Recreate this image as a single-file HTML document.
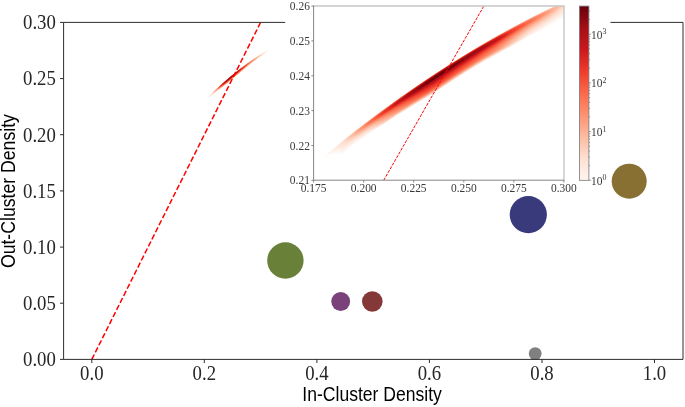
<!DOCTYPE html>
<html><head><meta charset="utf-8"><title>Cluster Density</title>
<style>html,body{margin:0;padding:0;background:#fff;overflow:hidden}svg{display:block}</style></head>
<body>
<svg width="685" height="407" viewBox="0 0 685 407">
<defs><clipPath id="ci"><rect x="313.6" y="6.1" width="250.3" height="174.2"/></clipPath>
<clipPath id="cm"><rect x="63.6" y="22.4" width="619.4" height="337.0"/></clipPath>
<filter id="bl" x="-5%" y="-5%" width="110%" height="110%"><feGaussianBlur stdDeviation="0.55"/></filter>
<filter id="bl2" x="-5%" y="-5%" width="110%" height="110%"><feGaussianBlur stdDeviation="0.35"/></filter>
<linearGradient id="cb" x1="0" y1="1" x2="0" y2="0"><stop offset="0.0000" stop-color="#fff5f0"/><stop offset="0.1250" stop-color="#fee0d2"/><stop offset="0.2500" stop-color="#fcbba1"/><stop offset="0.3750" stop-color="#fc9272"/><stop offset="0.5000" stop-color="#fb6a4a"/><stop offset="0.6250" stop-color="#ef3b2c"/><stop offset="0.7500" stop-color="#cb181d"/><stop offset="0.8750" stop-color="#a50f15"/><stop offset="1.0000" stop-color="#67000d"/></linearGradient></defs>
<rect width="685" height="407" fill="#fff"/>
<g clip-path="url(#cm)">
<g filter="url(#bl2)">
<path d="M208.0,97.3L209.0,96.1L210.0,95.0L211.0,94.1L212.0,93.1L213.0,92.2L214.0,91.2L215.0,90.3L216.0,89.4L217.0,88.5L218.0,87.5L219.0,86.6L220.0,85.7L221.0,84.8L222.0,83.9L223.0,83.1L224.0,82.2L225.0,81.3L226.0,80.4L227.0,79.6L228.0,78.7L229.0,77.9L230.0,77.0L231.0,76.2L232.0,75.4L233.0,74.6L234.0,73.7L235.0,72.9L236.0,72.1L237.0,71.3L238.0,70.5L239.0,69.8L240.0,69.0L241.0,68.2L242.0,67.4L243.0,66.7L244.0,65.9L245.0,65.2L246.0,64.4L247.0,63.7L248.0,63.0L249.0,62.3L250.0,61.5L251.0,60.8L252.0,60.1L253.0,59.4L254.0,58.7L255.0,58.0L256.0,57.4L257.0,56.7L258.0,56.0L259.0,55.4L260.0,54.7L261.0,54.1L262.0,53.4L263.0,52.8L264.0,52.2L265.0,51.5L266.0,51.0L267.0,50.4L268.0,49.9L269.0,49.5L269.0,49.8L268.0,50.6L267.0,51.6L266.0,52.6L265.0,53.6L264.0,54.4L263.0,55.1L262.0,55.8L261.0,56.5L260.0,57.2L259.0,57.9L258.0,58.7L257.0,59.4L256.0,60.2L255.0,60.9L254.0,61.7L253.0,62.5L252.0,63.2L251.0,64.0L250.0,64.8L249.0,65.6L248.0,66.4L247.0,67.1L246.0,67.9L245.0,68.7L244.0,69.4L243.0,70.2L242.0,71.0L241.0,71.8L240.0,72.6L239.0,73.4L238.0,74.2L237.0,75.0L236.0,75.8L235.0,76.6L234.0,77.4L233.0,78.2L232.0,79.1L231.0,79.9L230.0,80.7L229.0,81.6L228.0,82.4L227.0,83.2L226.0,84.1L225.0,84.9L224.0,85.7L223.0,86.5L222.0,87.3L221.0,88.1L220.0,88.9L219.0,89.7L218.0,90.5L217.0,91.3L216.0,92.2L215.0,93.0L214.0,93.8L213.0,94.7L212.0,95.5L211.0,96.3L210.0,97.1L209.0,97.3L208.0,97.7Z" fill="#fee7dc" fill-opacity="0.60"/>
<path d="M210.0,95.3L211.0,94.2L212.0,93.2L213.0,92.3L214.0,91.3L215.0,90.4L216.0,89.4L217.0,88.5L218.0,87.6L219.0,86.7L220.0,85.8L221.0,84.9L222.0,84.0L223.0,83.1L224.0,82.2L225.0,81.3L226.0,80.5L227.0,79.6L228.0,78.8L229.0,77.9L230.0,77.1L231.0,76.2L232.0,75.4L233.0,74.6L234.0,73.8L235.0,73.0L236.0,72.2L237.0,71.4L238.0,70.6L239.0,69.8L240.0,69.0L241.0,68.2L242.0,67.5L243.0,66.7L244.0,66.0L245.0,65.2L246.0,64.5L247.0,63.7L248.0,63.0L249.0,62.3L250.0,61.6L251.0,60.9L252.0,60.2L253.0,59.5L254.0,58.8L255.0,58.1L256.0,57.4L257.0,56.8L258.0,56.1L259.0,55.4L260.0,54.8L261.0,54.2L262.0,53.5L263.0,52.9L264.0,52.3L265.0,51.8L265.0,52.5L264.0,53.4L263.0,54.2L262.0,55.0L261.0,55.8L260.0,56.6L259.0,57.4L258.0,58.1L257.0,58.9L256.0,59.7L255.0,60.5L254.0,61.2L253.0,62.0L252.0,62.8L251.0,63.6L250.0,64.4L249.0,65.3L248.0,66.2L247.0,67.0L246.0,67.8L245.0,68.5L244.0,69.3L243.0,70.1L242.0,70.9L241.0,71.7L240.0,72.5L239.0,73.3L238.0,74.1L237.0,74.9L236.0,75.7L235.0,76.5L234.0,77.3L233.0,78.2L232.0,79.0L231.0,79.8L230.0,80.7L229.0,81.5L228.0,82.3L227.0,83.2L226.0,84.0L225.0,84.8L224.0,85.6L223.0,86.4L222.0,87.2L221.0,88.0L220.0,88.8L219.0,89.5L218.0,90.2L217.0,90.9L216.0,91.7L215.0,92.5L214.0,93.3L213.0,94.1L212.0,94.8L211.0,95.5L210.0,96.0Z" fill="#fedccc" fill-opacity="0.77"/>
<path d="M212.0,93.4L213.0,92.4L214.0,91.4L215.0,90.4L216.0,89.5L217.0,88.5L218.0,87.6L219.0,86.7L220.0,85.8L221.0,84.9L222.0,84.0L223.0,83.1L224.0,82.2L225.0,81.4L226.0,80.5L227.0,79.6L228.0,78.8L229.0,77.9L230.0,77.1L231.0,76.3L232.0,75.4L233.0,74.6L234.0,73.8L235.0,73.0L236.0,72.2L237.0,71.4L238.0,70.6L239.0,69.8L240.0,69.0L241.0,68.3L242.0,67.5L243.0,66.7L244.0,66.0L245.0,65.2L246.0,64.5L247.0,63.8L248.0,63.0L249.0,62.3L250.0,61.6L251.0,60.9L252.0,60.2L253.0,59.5L254.0,58.8L255.0,58.2L256.0,57.5L257.0,56.8L258.0,56.2L259.0,55.5L260.0,54.9L261.0,54.3L262.0,53.8L262.0,54.4L261.0,55.2L260.0,56.0L259.0,56.8L258.0,57.7L257.0,58.5L256.0,59.3L255.0,60.0L254.0,60.8L253.0,61.6L252.0,62.4L251.0,63.2L250.0,64.0L249.0,64.9L248.0,65.8L247.0,66.7L246.0,67.6L245.0,68.4L244.0,69.2L243.0,70.0L242.0,70.8L241.0,71.6L240.0,72.4L239.0,73.2L238.0,74.0L237.0,74.8L236.0,75.6L235.0,76.4L234.0,77.2L233.0,78.1L232.0,78.9L231.0,79.7L230.0,80.6L229.0,81.4L228.0,82.2L227.0,83.1L226.0,83.9L225.0,84.7L224.0,85.5L223.0,86.3L222.0,87.1L221.0,87.9L220.0,88.6L219.0,89.3L218.0,89.8L217.0,90.6L216.0,91.4L215.0,92.1L214.0,92.9L213.0,93.6L212.0,94.2Z" fill="#fdcbb6" fill-opacity="0.94"/>
<path d="M213.0,92.6L214.0,91.5L215.0,90.5L216.0,89.5L217.0,88.6L218.0,87.7L219.0,86.7L220.0,85.8L221.0,84.9L222.0,84.0L223.0,83.1L224.0,82.3L225.0,81.4L226.0,80.5L227.0,79.7L228.0,78.8L229.0,78.0L230.0,77.1L231.0,76.3L232.0,75.5L233.0,74.6L234.0,73.8L235.0,73.0L236.0,72.2L237.0,71.4L238.0,70.6L239.0,69.8L240.0,69.1L241.0,68.3L242.0,67.5L243.0,66.8L244.0,66.0L245.0,65.3L246.0,64.5L247.0,63.8L248.0,63.1L249.0,62.4L250.0,61.7L251.0,61.0L252.0,60.3L253.0,59.6L254.0,58.9L255.0,58.2L256.0,57.6L257.0,56.9L258.0,56.3L259.0,55.7L260.0,55.3L260.0,55.6L259.0,56.4L258.0,57.2L257.0,58.1L256.0,58.9L255.0,59.7L254.0,60.5L253.0,61.3L252.0,62.1L251.0,62.9L250.0,63.7L249.0,64.6L248.0,65.4L247.0,66.3L246.0,67.2L245.0,68.1L244.0,69.0L243.0,69.8L242.0,70.6L241.0,71.4L240.0,72.2L239.0,73.0L238.0,73.9L237.0,74.7L236.0,75.5L235.0,76.3L234.0,77.1L233.0,78.0L232.0,78.8L231.0,79.6L230.0,80.5L229.0,81.3L228.0,82.1L227.0,83.0L226.0,83.8L225.0,84.6L224.0,85.4L223.0,86.2L222.0,87.0L221.0,87.7L220.0,88.4L219.0,88.9L218.0,89.5L217.0,90.3L216.0,91.1L215.0,91.8L214.0,92.5L213.0,93.2Z" fill="#fcbba0"/>
<path d="M214.0,91.8L215.0,90.6L216.0,89.6L217.0,88.6L218.0,87.7L219.0,86.8L220.0,85.9L221.0,85.0L222.0,84.1L223.0,83.2L224.0,82.3L225.0,81.4L226.0,80.5L227.0,79.7L228.0,78.8L229.0,78.0L230.0,77.1L231.0,76.3L232.0,75.5L233.0,74.7L234.0,73.8L235.0,73.0L236.0,72.2L237.0,71.4L238.0,70.7L239.0,69.9L240.0,69.1L241.0,68.3L242.0,67.6L243.0,66.8L244.0,66.1L245.0,65.3L246.0,64.6L247.0,63.9L248.0,63.1L249.0,62.4L250.0,61.7L251.0,61.0L252.0,60.3L253.0,59.7L254.0,59.0L255.0,58.3L256.0,57.7L257.0,57.1L257.0,57.7L256.0,58.6L255.0,59.4L254.0,60.2L253.0,61.0L252.0,61.8L251.0,62.6L250.0,63.4L249.0,64.3L248.0,65.1L247.0,66.0L246.0,66.9L245.0,67.8L244.0,68.7L243.0,69.6L242.0,70.4L241.0,71.3L240.0,72.1L239.0,72.9L238.0,73.7L237.0,74.6L236.0,75.4L235.0,76.2L234.0,77.0L233.0,77.9L232.0,78.7L231.0,79.5L230.0,80.4L229.0,81.2L228.0,82.0L227.0,82.9L226.0,83.7L225.0,84.5L224.0,85.3L223.0,86.0L222.0,86.8L221.0,87.5L220.0,88.0L219.0,88.6L218.0,89.3L217.0,90.0L216.0,90.8L215.0,91.5L214.0,92.2Z" fill="#fca88b"/>
<path d="M215.0,91.1L216.0,89.7L217.0,88.7L218.0,87.8L219.0,86.8L220.0,85.9L221.0,85.0L222.0,84.1L223.0,83.2L224.0,82.3L225.0,81.4L226.0,80.6L227.0,79.7L228.0,78.9L229.0,78.0L230.0,77.2L231.0,76.3L232.0,75.5L233.0,74.7L234.0,73.9L235.0,73.1L236.0,72.3L237.0,71.5L238.0,70.7L239.0,69.9L240.0,69.1L241.0,68.4L242.0,67.6L243.0,66.9L244.0,66.1L245.0,65.4L246.0,64.6L247.0,63.9L248.0,63.2L249.0,62.5L250.0,61.8L251.0,61.1L252.0,60.4L253.0,59.8L254.0,59.1L255.0,58.5L255.0,59.1L254.0,59.9L253.0,60.8L252.0,61.6L251.0,62.4L250.0,63.2L249.0,64.0L248.0,64.9L247.0,65.7L246.0,66.6L245.0,67.4L244.0,68.3L243.0,69.2L242.0,70.1L241.0,71.0L240.0,71.9L239.0,72.8L238.0,73.6L237.0,74.4L236.0,75.3L235.0,76.1L234.0,76.9L233.0,77.8L232.0,78.6L231.0,79.4L230.0,80.3L229.0,81.1L228.0,81.9L227.0,82.8L226.0,83.6L225.0,84.4L224.0,85.1L223.0,85.9L222.0,86.5L221.0,87.1L220.0,87.7L219.0,88.4L218.0,89.1L217.0,89.8L216.0,90.5L215.0,91.3Z" fill="#fc9676"/>
<path d="M217.0,88.8L218.0,87.8L219.0,86.9L220.0,85.9L221.0,85.0L222.0,84.1L223.0,83.2L224.0,82.3L225.0,81.5L226.0,80.6L227.0,79.7L228.0,78.9L229.0,78.0L230.0,77.2L231.0,76.4L232.0,75.5L233.0,74.7L234.0,73.9L235.0,73.1L236.0,72.3L237.0,71.5L238.0,70.7L239.0,69.9L240.0,69.2L241.0,68.4L242.0,67.6L243.0,66.9L244.0,66.2L245.0,65.4L246.0,64.7L247.0,64.0L248.0,63.3L249.0,62.6L250.0,61.9L251.0,61.2L252.0,60.6L253.0,60.0L253.0,60.6L252.0,61.4L251.0,62.2L250.0,63.0L249.0,63.8L248.0,64.6L247.0,65.5L246.0,66.3L245.0,67.2L244.0,68.0L243.0,68.9L242.0,69.8L241.0,70.7L240.0,71.6L239.0,72.5L238.0,73.4L237.0,74.2L236.0,75.1L235.0,75.9L234.0,76.8L233.0,77.6L232.0,78.5L231.0,79.3L230.0,80.1L229.0,81.0L228.0,81.8L227.0,82.6L226.0,83.4L225.0,84.2L224.0,84.9L223.0,85.6L222.0,86.2L221.0,86.9L220.0,87.5L219.0,88.2L218.0,88.9L217.0,89.6Z" fill="#fc8464"/>
<path d="M218.0,88.0L219.0,87.0L220.0,86.0L221.0,85.1L222.0,84.2L223.0,83.3L224.0,82.4L225.0,81.5L226.0,80.6L227.0,79.8L228.0,78.9L229.0,78.1L230.0,77.2L231.0,76.4L232.0,75.6L233.0,74.8L234.0,73.9L235.0,73.1L236.0,72.3L237.0,71.5L238.0,70.8L239.0,70.0L240.0,69.2L241.0,68.4L242.0,67.7L243.0,66.9L244.0,66.2L245.0,65.5L246.0,64.8L247.0,64.1L248.0,63.4L249.0,62.7L250.0,62.0L251.0,61.4L251.0,62.0L250.0,62.8L249.0,63.6L248.0,64.5L247.0,65.3L246.0,66.1L245.0,67.0L244.0,67.8L243.0,68.6L242.0,69.5L241.0,70.4L240.0,71.3L239.0,72.1L238.0,73.0L237.0,73.9L236.0,74.8L235.0,75.7L234.0,76.6L233.0,77.5L232.0,78.3L231.0,79.2L230.0,80.0L229.0,80.8L228.0,81.7L227.0,82.5L226.0,83.2L225.0,84.0L224.0,84.6L223.0,85.3L222.0,86.0L221.0,86.6L220.0,87.3L219.0,88.0L218.0,88.7Z" fill="#fb7252"/>
<path d="M218.0,88.3L219.0,87.1L220.0,86.1L221.0,85.1L222.0,84.2L223.0,83.3L224.0,82.4L225.0,81.5L226.0,80.7L227.0,79.8L228.0,79.0L229.0,78.1L230.0,77.3L231.0,76.4L232.0,75.6L233.0,74.8L234.0,74.0L235.0,73.2L236.0,72.4L237.0,71.6L238.0,70.8L239.0,70.0L240.0,69.3L241.0,68.5L242.0,67.8L243.0,67.0L244.0,66.3L245.0,65.6L246.0,64.9L247.0,64.2L248.0,63.5L249.0,62.9L249.0,63.5L248.0,64.3L247.0,65.1L246.0,65.9L245.0,66.8L244.0,67.6L243.0,68.4L242.0,69.3L241.0,70.1L240.0,71.0L239.0,71.9L238.0,72.8L237.0,73.6L236.0,74.5L235.0,75.4L234.0,76.3L233.0,77.2L232.0,78.1L231.0,78.9L230.0,79.8L229.0,80.6L228.0,81.4L227.0,82.2L226.0,82.9L225.0,83.6L224.0,84.3L223.0,85.0L222.0,85.7L221.0,86.4L220.0,87.1L219.0,87.8L218.0,88.6Z" fill="#f85e43"/>
<path d="M219.0,87.3L220.0,86.2L221.0,85.2L222.0,84.3L223.0,83.4L224.0,82.5L225.0,81.6L226.0,80.7L227.0,79.9L228.0,79.0L229.0,78.1L230.0,77.3L231.0,76.5L232.0,75.6L233.0,74.8L234.0,74.0L235.0,73.2L236.0,72.4L237.0,71.6L238.0,70.9L239.0,70.1L240.0,69.3L241.0,68.6L242.0,67.8L243.0,67.1L244.0,66.4L245.0,65.7L246.0,65.0L247.0,64.4L247.0,65.0L246.0,65.8L245.0,66.6L244.0,67.4L243.0,68.3L242.0,69.1L241.0,69.9L240.0,70.8L239.0,71.6L238.0,72.5L237.0,73.4L236.0,74.2L235.0,75.1L234.0,76.0L233.0,76.9L232.0,77.7L231.0,78.6L230.0,79.5L229.0,80.3L228.0,81.1L227.0,81.9L226.0,82.6L225.0,83.4L224.0,84.1L223.0,84.8L222.0,85.5L221.0,86.3L220.0,87.0L219.0,87.7Z" fill="#f34935"/>
<path d="M220.0,86.4L221.0,85.3L222.0,84.4L223.0,83.4L224.0,82.5L225.0,81.6L226.0,80.8L227.0,79.9L228.0,79.0L229.0,78.2L230.0,77.3L231.0,76.5L232.0,75.7L233.0,74.9L234.0,74.1L235.0,73.3L236.0,72.5L237.0,71.7L238.0,70.9L239.0,70.1L240.0,69.4L241.0,68.6L242.0,67.9L243.0,67.2L244.0,66.5L245.0,65.9L245.0,66.4L244.0,67.3L243.0,68.1L242.0,68.9L241.0,69.8L240.0,70.6L239.0,71.5L238.0,72.3L237.0,73.2L236.0,74.0L235.0,74.9L234.0,75.8L233.0,76.6L232.0,77.5L231.0,78.3L230.0,79.2L229.0,80.0L228.0,80.8L227.0,81.6L226.0,82.4L225.0,83.2L224.0,83.9L223.0,84.6L222.0,85.4L221.0,86.1L220.0,86.9Z" fill="#ea362a"/>
<path d="M221.0,85.6L222.0,84.5L223.0,83.5L224.0,82.6L225.0,81.7L226.0,80.8L227.0,80.0L228.0,79.1L229.0,78.2L230.0,77.4L231.0,76.6L232.0,75.7L233.0,74.9L234.0,74.1L235.0,73.3L236.0,72.5L237.0,71.8L238.0,71.0L239.0,70.2L240.0,69.5L241.0,68.8L242.0,68.1L243.0,67.4L243.0,68.0L242.0,68.8L241.0,69.6L240.0,70.4L239.0,71.3L238.0,72.1L237.0,73.0L236.0,73.8L235.0,74.7L234.0,75.5L233.0,76.4L232.0,77.3L231.0,78.1L230.0,79.0L229.0,79.8L228.0,80.6L227.0,81.4L226.0,82.2L225.0,83.0L224.0,83.7L223.0,84.5L222.0,85.2L221.0,86.0Z" fill="#da2623"/>
<path d="M222.0,84.8L223.0,83.6L224.0,82.7L225.0,81.8L226.0,80.9L227.0,80.0L228.0,79.2L229.0,78.3L230.0,77.5L231.0,76.6L232.0,75.8L233.0,75.0L234.0,74.2L235.0,73.4L236.0,72.6L237.0,71.8L238.0,71.1L239.0,70.4L240.0,69.6L241.0,69.0L241.0,69.5L240.0,70.3L239.0,71.1L238.0,72.0L237.0,72.8L236.0,73.7L235.0,74.5L234.0,75.4L233.0,76.2L232.0,77.1L231.0,77.9L230.0,78.8L229.0,79.6L228.0,80.4L227.0,81.2L226.0,82.0L225.0,82.8L224.0,83.6L223.0,84.4L222.0,85.1Z" fill="#ca181d"/>
<path d="M224.0,82.9L225.0,81.9L226.0,81.0L227.0,80.1L228.0,79.2L229.0,78.4L230.0,77.5L231.0,76.7L232.0,75.9L233.0,75.1L234.0,74.3L235.0,73.5L236.0,72.7L237.0,72.0L238.0,71.3L239.0,70.8L239.0,71.0L238.0,71.9L237.0,72.7L236.0,73.5L235.0,74.4L234.0,75.2L233.0,76.1L232.0,76.9L231.0,77.8L230.0,78.6L229.0,79.5L228.0,80.3L227.0,81.1L226.0,81.9L225.0,82.7L224.0,83.5Z" fill="#b91419"/>
<path d="M225.0,82.2L226.0,81.2L227.0,80.2L228.0,79.4L229.0,78.5L230.0,77.6L231.0,76.8L232.0,76.0L233.0,75.2L234.0,74.4L235.0,73.7L236.0,73.1L236.0,73.4L235.0,74.3L234.0,75.1L233.0,75.9L232.0,76.8L231.0,77.6L230.0,78.5L229.0,79.3L228.0,80.1L227.0,81.0L226.0,81.8L225.0,82.6Z" fill="#a81016"/>
<path d="M228.0,79.7L229.0,78.7L230.0,77.9L231.0,77.1L232.0,76.4L232.0,76.7L231.0,77.5L230.0,78.4L229.0,79.2L228.0,80.0Z" fill="#8e0912"/>
</g>
<line x1="91.8" y1="359.4" x2="260.6" y2="22.4" stroke="#ff0000" stroke-width="1.5" stroke-dasharray="5.5,2.4"/>
<circle cx="285.4" cy="260.5" r="18.2" fill="#688038"/>
<circle cx="340.7" cy="301.5" r="9.4" fill="#7a417a"/>
<circle cx="372.3" cy="301.5" r="10.3" fill="#843838"/>
<circle cx="528.3" cy="214.6" r="18.6" fill="#383a7c"/>
<circle cx="535.2" cy="353.6" r="6.4" fill="#808080"/>
<circle cx="629.2" cy="181.2" r="17.5" fill="#887033"/>
</g>
<g stroke="#222" stroke-width="0.95" fill="none">
<path d="M285.2,22.4H63.6V359.4H683.0V22.4H610.5"/>
<line x1="91.8" y1="359.4" x2="91.8" y2="363.0"/>
<line x1="204.3" y1="359.4" x2="204.3" y2="363.0"/>
<line x1="316.9" y1="359.4" x2="316.9" y2="363.0"/>
<line x1="429.4" y1="359.4" x2="429.4" y2="363.0"/>
<line x1="542.0" y1="359.4" x2="542.0" y2="363.0"/>
<line x1="654.5" y1="359.4" x2="654.5" y2="363.0"/>
<line x1="63.6" y1="359.4" x2="60.0" y2="359.4"/>
<line x1="63.6" y1="303.2" x2="60.0" y2="303.2"/>
<line x1="63.6" y1="247.1" x2="60.0" y2="247.1"/>
<line x1="63.6" y1="190.9" x2="60.0" y2="190.9"/>
<line x1="63.6" y1="134.7" x2="60.0" y2="134.7"/>
<line x1="63.6" y1="78.6" x2="60.0" y2="78.6"/>
<line x1="63.6" y1="22.4" x2="60.0" y2="22.4"/>
</g>
<g font-family="'Liberation Serif', serif" font-size="20.2px" fill="#262626">
<text transform="translate(91.8,380.0) scale(0.930,1)" text-anchor="middle">0.0</text>
<text transform="translate(204.3,380.0) scale(0.930,1)" text-anchor="middle">0.2</text>
<text transform="translate(316.9,380.0) scale(0.930,1)" text-anchor="middle">0.4</text>
<text transform="translate(429.4,380.0) scale(0.930,1)" text-anchor="middle">0.6</text>
<text transform="translate(542.0,380.0) scale(0.930,1)" text-anchor="middle">0.8</text>
<text transform="translate(654.5,380.0) scale(0.930,1)" text-anchor="middle">1.0</text>
<text transform="translate(55.9,366.2) scale(0.930,1)" text-anchor="end">0.00</text>
<text transform="translate(55.9,310.0) scale(0.930,1)" text-anchor="end">0.05</text>
<text transform="translate(55.9,253.9) scale(0.930,1)" text-anchor="end">0.10</text>
<text transform="translate(55.9,197.7) scale(0.930,1)" text-anchor="end">0.15</text>
<text transform="translate(55.9,141.5) scale(0.930,1)" text-anchor="end">0.20</text>
<text transform="translate(55.9,85.4) scale(0.930,1)" text-anchor="end">0.25</text>
<text transform="translate(55.9,29.2) scale(0.930,1)" text-anchor="end">0.30</text>
</g>
<g font-family="'Liberation Sans', sans-serif" font-size="19.8px" fill="#000">
<text x="372.1" y="401" text-anchor="middle" textLength="139.5" lengthAdjust="spacingAndGlyphs">In-Cluster Density</text>
<text transform="translate(15.4,191.1) rotate(-90)" text-anchor="middle" textLength="154" lengthAdjust="spacingAndGlyphs">Out-Cluster Density</text>
</g>
<g clip-path="url(#ci)">
<g filter="url(#bl)">
<path d="M324.0,156.6L326.0,154.8L328.0,153.1L330.0,151.4L332.0,149.7L334.0,148.0L336.0,146.3L338.0,144.7L340.0,143.1L342.0,141.5L344.0,139.9L346.0,138.3L348.0,136.7L350.0,135.1L352.0,133.6L354.0,132.0L356.0,130.4L358.0,128.9L360.0,127.4L362.0,125.8L364.0,124.3L366.0,122.8L368.0,121.3L370.0,119.8L372.0,118.3L374.0,116.8L376.0,115.3L378.0,113.8L380.0,112.3L382.0,110.8L384.0,109.4L386.0,107.9L388.0,106.5L390.0,105.0L392.0,103.6L394.0,102.1L396.0,100.7L398.0,99.3L400.0,97.9L402.0,96.4L404.0,95.0L406.0,93.6L408.0,92.2L410.0,90.8L412.0,89.5L414.0,88.1L416.0,86.7L418.0,85.3L420.0,84.0L422.0,82.6L424.0,81.3L426.0,79.9L428.0,78.6L430.0,77.3L432.0,75.9L434.0,74.6L436.0,73.3L438.0,72.0L440.0,70.7L442.0,69.4L444.0,68.1L446.0,66.8L448.0,65.6L450.0,64.3L452.0,63.0L454.0,61.8L456.0,60.5L458.0,59.3L460.0,58.0L462.0,56.8L464.0,55.6L466.0,54.3L468.0,53.1L470.0,51.9L472.0,50.7L474.0,49.5L476.0,48.3L478.0,47.1L480.0,46.0L482.0,44.8L484.0,43.6L486.0,42.4L488.0,41.3L490.0,40.1L492.0,39.0L494.0,37.9L496.0,36.7L498.0,35.6L500.0,34.5L502.0,33.4L504.0,32.2L506.0,31.1L508.0,30.0L510.0,28.9L512.0,27.9L514.0,26.8L516.0,25.7L518.0,24.6L520.0,23.6L522.0,22.5L524.0,21.5L526.0,20.4L528.0,19.4L530.0,18.3L532.0,17.3L534.0,16.3L536.0,15.3L538.0,14.3L540.0,13.3L542.0,12.3L544.0,11.3L546.0,10.3L548.0,9.3L550.0,8.3L552.0,7.4L554.0,6.4L556.0,5.5L558.0,4.5L560.0,3.6L562.0,2.7L564.0,1.7L566.0,0.8L568.0,-0.1L570.0,-1.0L572.0,-1.7L574.0,-2.4L576.0,-2.9L576.0,-0.8L574.0,2.7L572.0,6.2L570.0,10.2L568.0,14.7L566.0,18.8L564.0,18.4L562.0,18.6L560.0,19.3L558.0,20.3L556.0,21.5L554.0,22.7L552.0,23.9L550.0,25.0L548.0,26.2L546.0,27.5L544.0,28.9L542.0,30.2L540.0,31.3L538.0,32.3L536.0,33.1L534.0,33.9L532.0,34.8L530.0,35.6L528.0,36.7L526.0,37.8L524.0,39.0L522.0,40.2L520.0,41.5L518.0,42.7L516.0,43.9L514.0,45.1L512.0,46.2L510.0,47.3L508.0,48.3L506.0,49.4L504.0,50.5L502.0,51.6L500.0,52.7L498.0,53.8L496.0,54.9L494.0,56.0L492.0,57.1L490.0,58.1L488.0,59.2L486.0,60.2L484.0,61.4L482.0,62.5L480.0,63.7L478.0,64.9L476.0,66.1L474.0,67.3L472.0,68.5L470.0,69.7L468.0,70.9L466.0,72.2L464.0,73.4L462.0,74.7L460.0,75.9L458.0,77.2L456.0,78.5L454.0,79.8L452.0,81.1L450.0,82.4L448.0,83.7L446.0,85.1L444.0,86.4L442.0,87.7L440.0,89.0L438.0,90.4L436.0,91.7L434.0,93.0L432.0,94.3L430.0,95.5L428.0,96.7L426.0,98.0L424.0,99.1L422.0,100.3L420.0,101.5L418.0,102.7L416.0,103.9L414.0,105.1L412.0,106.3L410.0,107.5L408.0,108.7L406.0,110.0L404.0,111.2L402.0,112.4L400.0,113.7L398.0,114.9L396.0,116.2L394.0,117.5L392.0,118.8L390.0,120.1L388.0,121.4L386.0,122.7L384.0,124.0L382.0,125.2L380.0,126.4L378.0,127.6L376.0,128.8L374.0,130.1L372.0,131.4L370.0,132.9L368.0,134.6L366.0,136.3L364.0,137.8L362.0,139.1L360.0,140.2L358.0,141.5L356.0,142.9L354.0,144.3L352.0,145.7L350.0,147.3L348.0,149.1L346.0,151.2L344.0,153.6L342.0,154.4L340.0,153.7L338.0,153.4L336.0,153.3L334.0,153.6L332.0,154.0L330.0,154.6L328.0,155.4L326.0,156.4L324.0,157.5Z" fill="#fff1eb" fill-opacity="0.42"/>
<path d="M328.0,153.5L330.0,151.6L332.0,149.9L334.0,148.2L336.0,146.5L338.0,144.8L340.0,143.1L342.0,141.5L344.0,139.9L346.0,138.3L348.0,136.7L350.0,135.1L352.0,133.6L354.0,132.0L356.0,130.5L358.0,128.9L360.0,127.4L362.0,125.9L364.0,124.3L366.0,122.8L368.0,121.3L370.0,119.8L372.0,118.3L374.0,116.8L376.0,115.3L378.0,113.8L380.0,112.3L382.0,110.9L384.0,109.4L386.0,107.9L388.0,106.5L390.0,105.0L392.0,103.6L394.0,102.2L396.0,100.7L398.0,99.3L400.0,97.9L402.0,96.5L404.0,95.1L406.0,93.7L408.0,92.3L410.0,90.9L412.0,89.5L414.0,88.1L416.0,86.7L418.0,85.4L420.0,84.0L422.0,82.7L424.0,81.3L426.0,80.0L428.0,78.6L430.0,77.3L432.0,76.0L434.0,74.7L436.0,73.3L438.0,72.0L440.0,70.7L442.0,69.4L444.0,68.2L446.0,66.9L448.0,65.6L450.0,64.3L452.0,63.1L454.0,61.8L456.0,60.5L458.0,59.3L460.0,58.1L462.0,56.8L464.0,55.6L466.0,54.4L468.0,53.2L470.0,51.9L472.0,50.7L474.0,49.5L476.0,48.4L478.0,47.2L480.0,46.0L482.0,44.8L484.0,43.6L486.0,42.5L488.0,41.3L490.0,40.2L492.0,39.0L494.0,37.9L496.0,36.7L498.0,35.6L500.0,34.5L502.0,33.4L504.0,32.3L506.0,31.2L508.0,30.1L510.0,29.0L512.0,27.9L514.0,26.8L516.0,25.7L518.0,24.7L520.0,23.6L522.0,22.6L524.0,21.5L526.0,20.5L528.0,19.4L530.0,18.4L532.0,17.4L534.0,16.3L536.0,15.3L538.0,14.3L540.0,13.3L542.0,12.3L544.0,11.3L546.0,10.3L548.0,9.4L550.0,8.4L552.0,7.4L554.0,6.5L556.0,5.5L558.0,4.5L560.0,3.6L562.0,2.7L564.0,1.7L566.0,0.8L568.0,-0.1L570.0,-0.8L572.0,-1.5L574.0,-2.1L574.0,0.7L572.0,3.9L570.0,7.6L568.0,11.8L566.0,15.7L564.0,16.0L562.0,16.7L560.0,17.6L558.0,18.6L556.0,19.9L554.0,21.1L552.0,22.4L550.0,23.6L548.0,24.9L546.0,26.1L544.0,27.4L542.0,28.8L540.0,30.0L538.0,31.2L536.0,32.2L534.0,33.2L532.0,34.2L530.0,35.2L528.0,36.2L526.0,37.4L524.0,38.6L522.0,39.9L520.0,41.1L518.0,42.4L516.0,43.6L514.0,44.8L512.0,45.9L510.0,47.0L508.0,48.1L506.0,49.2L504.0,50.2L502.0,51.3L500.0,52.4L498.0,53.5L496.0,54.7L494.0,55.8L492.0,56.8L490.0,57.9L488.0,59.0L486.0,60.0L484.0,61.2L482.0,62.3L480.0,63.5L478.0,64.7L476.0,65.9L474.0,67.1L472.0,68.3L470.0,69.5L468.0,70.8L466.0,72.0L464.0,73.2L462.0,74.5L460.0,75.8L458.0,77.0L456.0,78.3L454.0,79.6L452.0,80.9L450.0,82.2L448.0,83.6L446.0,84.9L444.0,86.2L442.0,87.6L440.0,88.9L438.0,90.2L436.0,91.5L434.0,92.8L432.0,94.1L430.0,95.4L428.0,96.6L426.0,97.8L424.0,99.0L422.0,100.2L420.0,101.3L418.0,102.5L416.0,103.7L414.0,104.9L412.0,106.1L410.0,107.3L408.0,108.6L406.0,109.8L404.0,111.0L402.0,112.2L400.0,113.5L398.0,114.7L396.0,116.0L394.0,117.3L392.0,118.6L390.0,119.9L388.0,121.2L386.0,122.5L384.0,123.8L382.0,125.0L380.0,126.2L378.0,127.4L376.0,128.6L374.0,129.8L372.0,131.1L370.0,132.5L368.0,134.1L366.0,135.5L364.0,136.8L362.0,138.0L360.0,139.1L358.0,140.5L356.0,141.8L354.0,143.2L352.0,144.5L350.0,146.0L348.0,147.6L346.0,149.4L344.0,151.3L342.0,152.0L340.0,151.5L338.0,151.3L336.0,151.5L334.0,151.9L332.0,152.5L330.0,153.3L328.0,154.3Z" fill="#ffede5" fill-opacity="0.49"/>
<path d="M332.0,150.3L334.0,148.4L336.0,146.7L338.0,144.9L340.0,143.2L342.0,141.5L344.0,139.9L346.0,138.3L348.0,136.7L350.0,135.2L352.0,133.6L354.0,132.1L356.0,130.5L358.0,129.0L360.0,127.4L362.0,125.9L364.0,124.4L366.0,122.9L368.0,121.3L370.0,119.8L372.0,118.3L374.0,116.8L376.0,115.3L378.0,113.9L380.0,112.4L382.0,110.9L384.0,109.4L386.0,108.0L388.0,106.5L390.0,105.1L392.0,103.6L394.0,102.2L396.0,100.8L398.0,99.3L400.0,97.9L402.0,96.5L404.0,95.1L406.0,93.7L408.0,92.3L410.0,90.9L412.0,89.5L414.0,88.1L416.0,86.8L418.0,85.4L420.0,84.0L422.0,82.7L424.0,81.3L426.0,80.0L428.0,78.7L430.0,77.3L432.0,76.0L434.0,74.7L436.0,73.4L438.0,72.1L440.0,70.8L442.0,69.5L444.0,68.2L446.0,66.9L448.0,65.6L450.0,64.3L452.0,63.1L454.0,61.8L456.0,60.6L458.0,59.3L460.0,58.1L462.0,56.9L464.0,55.6L466.0,54.4L468.0,53.2L470.0,52.0L472.0,50.8L474.0,49.6L476.0,48.4L478.0,47.2L480.0,46.0L482.0,44.8L484.0,43.7L486.0,42.5L488.0,41.3L490.0,40.2L492.0,39.1L494.0,37.9L496.0,36.8L498.0,35.7L500.0,34.5L502.0,33.4L504.0,32.3L506.0,31.2L508.0,30.1L510.0,29.0L512.0,27.9L514.0,26.9L516.0,25.8L518.0,24.7L520.0,23.7L522.0,22.6L524.0,21.5L526.0,20.5L528.0,19.5L530.0,18.4L532.0,17.4L534.0,16.4L536.0,15.4L538.0,14.4L540.0,13.4L542.0,12.4L544.0,11.4L546.0,10.4L548.0,9.4L550.0,8.4L552.0,7.5L554.0,6.5L556.0,5.6L558.0,4.6L560.0,3.7L562.0,2.7L564.0,1.8L566.0,0.8L568.0,0.1L570.0,-0.6L572.0,-1.2L572.0,1.8L570.0,5.2L568.0,9.0L566.0,12.8L564.0,13.7L562.0,14.7L560.0,15.9L558.0,17.1L556.0,18.4L554.0,19.7L552.0,21.0L550.0,22.3L548.0,23.6L546.0,24.9L544.0,26.1L542.0,27.4L540.0,28.7L538.0,29.9L536.0,31.1L534.0,32.3L532.0,33.4L530.0,34.6L528.0,35.7L526.0,36.9L524.0,38.2L522.0,39.5L520.0,40.8L518.0,42.0L516.0,43.3L514.0,44.5L512.0,45.6L510.0,46.7L508.0,47.8L506.0,48.9L504.0,50.0L502.0,51.1L500.0,52.2L498.0,53.3L496.0,54.4L494.0,55.5L492.0,56.6L490.0,57.7L488.0,58.7L486.0,59.8L484.0,61.0L482.0,62.1L480.0,63.3L478.0,64.5L476.0,65.7L474.0,66.9L472.0,68.1L470.0,69.4L468.0,70.6L466.0,71.8L464.0,73.1L462.0,74.3L460.0,75.6L458.0,76.9L456.0,78.1L454.0,79.5L452.0,80.8L450.0,82.1L448.0,83.4L446.0,84.7L444.0,86.1L442.0,87.4L440.0,88.7L438.0,90.1L436.0,91.4L434.0,92.7L432.0,94.0L430.0,95.2L428.0,96.4L426.0,97.6L424.0,98.8L422.0,100.0L420.0,101.2L418.0,102.3L416.0,103.5L414.0,104.7L412.0,105.9L410.0,107.2L408.0,108.4L406.0,109.6L404.0,110.8L402.0,112.0L400.0,113.3L398.0,114.5L396.0,115.8L394.0,117.1L392.0,118.4L390.0,119.7L388.0,121.0L386.0,122.3L384.0,123.5L382.0,124.8L380.0,126.0L378.0,127.1L376.0,128.3L374.0,129.5L372.0,130.7L370.0,132.0L368.0,133.3L366.0,134.6L364.0,135.8L362.0,137.0L360.0,138.2L358.0,139.5L356.0,140.8L354.0,142.1L352.0,143.4L350.0,144.8L348.0,146.2L346.0,147.7L344.0,149.2L342.0,149.8L340.0,149.4L338.0,149.5L336.0,149.8L334.0,150.4L332.0,151.2Z" fill="#feeae0" fill-opacity="0.55"/>
<path d="M336.0,146.9L338.0,145.1L340.0,143.3L342.0,141.6L344.0,140.0L346.0,138.4L348.0,136.8L350.0,135.2L352.0,133.7L354.0,132.1L356.0,130.6L358.0,129.0L360.0,127.5L362.0,125.9L364.0,124.4L366.0,122.9L368.0,121.4L370.0,119.9L372.0,118.4L374.0,116.9L376.0,115.4L378.0,113.9L380.0,112.4L382.0,110.9L384.0,109.5L386.0,108.0L388.0,106.5L390.0,105.1L392.0,103.6L394.0,102.2L396.0,100.8L398.0,99.3L400.0,97.9L402.0,96.5L404.0,95.1L406.0,93.7L408.0,92.3L410.0,90.9L412.0,89.5L414.0,88.2L416.0,86.8L418.0,85.4L420.0,84.1L422.0,82.7L424.0,81.4L426.0,80.0L428.0,78.7L430.0,77.3L432.0,76.0L434.0,74.7L436.0,73.4L438.0,72.1L440.0,70.8L442.0,69.5L444.0,68.2L446.0,66.9L448.0,65.6L450.0,64.4L452.0,63.1L454.0,61.8L456.0,60.6L458.0,59.3L460.0,58.1L462.0,56.9L464.0,55.6L466.0,54.4L468.0,53.2L470.0,52.0L472.0,50.8L474.0,49.6L476.0,48.4L478.0,47.2L480.0,46.0L482.0,44.9L484.0,43.7L486.0,42.5L488.0,41.4L490.0,40.2L492.0,39.1L494.0,37.9L496.0,36.8L498.0,35.7L500.0,34.6L502.0,33.4L504.0,32.3L506.0,31.2L508.0,30.1L510.0,29.0L512.0,28.0L514.0,26.9L516.0,25.8L518.0,24.7L520.0,23.7L522.0,22.6L524.0,21.6L526.0,20.5L528.0,19.5L530.0,18.5L532.0,17.4L534.0,16.4L536.0,15.4L538.0,14.4L540.0,13.4L542.0,12.4L544.0,11.4L546.0,10.4L548.0,9.5L550.0,8.5L552.0,7.5L554.0,6.6L556.0,5.6L558.0,4.7L560.0,3.7L562.0,2.8L564.0,1.9L566.0,1.0L568.0,0.2L570.0,-0.4L572.0,-0.5L572.0,0.4L570.0,3.5L568.0,7.1L566.0,10.8L564.0,12.0L562.0,13.4L560.0,14.7L558.0,16.1L556.0,17.4L554.0,18.7L552.0,20.1L550.0,21.4L548.0,22.7L546.0,24.0L544.0,25.3L542.0,26.5L540.0,27.8L538.0,29.0L536.0,30.3L534.0,31.5L532.0,32.7L530.0,34.0L528.0,35.3L526.0,36.6L524.0,37.9L522.0,39.2L520.0,40.5L518.0,41.8L516.0,43.0L514.0,44.2L512.0,45.4L510.0,46.5L508.0,47.6L506.0,48.7L504.0,49.8L502.0,50.9L500.0,52.0L498.0,53.1L496.0,54.2L494.0,55.4L492.0,56.5L490.0,57.5L488.0,58.6L486.0,59.7L484.0,60.8L482.0,62.0L480.0,63.2L478.0,64.4L476.0,65.6L474.0,66.8L472.0,68.0L470.0,69.2L468.0,70.4L466.0,71.7L464.0,72.9L462.0,74.2L460.0,75.5L458.0,76.7L456.0,78.0L454.0,79.3L452.0,80.6L450.0,82.0L448.0,83.3L446.0,84.6L444.0,85.9L442.0,87.3L440.0,88.6L438.0,89.9L436.0,91.3L434.0,92.6L432.0,93.8L430.0,95.1L428.0,96.3L426.0,97.5L424.0,98.7L422.0,99.9L420.0,101.0L418.0,102.2L416.0,103.4L414.0,104.6L412.0,105.8L410.0,107.0L408.0,108.2L406.0,109.5L404.0,110.7L402.0,111.9L400.0,113.1L398.0,114.4L396.0,115.6L394.0,116.9L392.0,118.2L390.0,119.5L388.0,120.8L386.0,122.1L384.0,123.4L382.0,124.6L380.0,125.8L378.0,126.9L376.0,128.0L374.0,129.2L372.0,130.4L370.0,131.5L368.0,132.7L366.0,133.9L364.0,135.1L362.0,136.3L360.0,137.6L358.0,138.8L356.0,140.0L354.0,141.3L352.0,142.6L350.0,143.9L348.0,145.2L346.0,146.4L344.0,147.7L342.0,148.2L340.0,148.0L338.0,148.2L336.0,148.7Z" fill="#fee7dc" fill-opacity="0.60"/>
<path d="M338.0,145.4L340.0,143.5L342.0,141.8L344.0,140.1L346.0,138.5L348.0,136.9L350.0,135.3L352.0,133.7L354.0,132.2L356.0,130.6L358.0,129.1L360.0,127.5L362.0,126.0L364.0,124.4L366.0,122.9L368.0,121.4L370.0,119.9L372.0,118.4L374.0,116.9L376.0,115.4L378.0,113.9L380.0,112.4L382.0,111.0L384.0,109.5L386.0,108.0L388.0,106.6L390.0,105.1L392.0,103.7L394.0,102.2L396.0,100.8L398.0,99.4L400.0,97.9L402.0,96.5L404.0,95.1L406.0,93.7L408.0,92.3L410.0,90.9L412.0,89.6L414.0,88.2L416.0,86.8L418.0,85.4L420.0,84.1L422.0,82.7L424.0,81.4L426.0,80.0L428.0,78.7L430.0,77.4L432.0,76.0L434.0,74.7L436.0,73.4L438.0,72.1L440.0,70.8L442.0,69.5L444.0,68.2L446.0,66.9L448.0,65.7L450.0,64.4L452.0,63.1L454.0,61.9L456.0,60.6L458.0,59.4L460.0,58.1L462.0,56.9L464.0,55.7L466.0,54.4L468.0,53.2L470.0,52.0L472.0,50.8L474.0,49.6L476.0,48.4L478.0,47.2L480.0,46.1L482.0,44.9L484.0,43.7L486.0,42.5L488.0,41.4L490.0,40.2L492.0,39.1L494.0,38.0L496.0,36.8L498.0,35.7L500.0,34.6L502.0,33.5L504.0,32.4L506.0,31.3L508.0,30.2L510.0,29.1L512.0,28.0L514.0,26.9L516.0,25.8L518.0,24.8L520.0,23.7L522.0,22.7L524.0,21.6L526.0,20.6L528.0,19.5L530.0,18.5L532.0,17.5L534.0,16.5L536.0,15.5L538.0,14.5L540.0,13.5L542.0,12.5L544.0,11.5L546.0,10.5L548.0,9.5L550.0,8.5L552.0,7.6L554.0,6.6L556.0,5.7L558.0,4.7L560.0,3.8L562.0,2.9L564.0,2.0L566.0,1.1L568.0,0.4L570.0,0.0L570.0,2.0L568.0,5.3L566.0,8.8L564.0,10.5L562.0,12.0L560.0,13.5L558.0,15.0L556.0,16.4L554.0,17.8L552.0,19.1L550.0,20.5L548.0,21.8L546.0,23.1L544.0,24.4L542.0,25.7L540.0,26.9L538.0,28.1L536.0,29.4L534.0,30.7L532.0,32.0L530.0,33.3L528.0,34.7L526.0,36.1L524.0,37.5L522.0,38.8L520.0,40.2L518.0,41.5L516.0,42.8L514.0,44.0L512.0,45.2L510.0,46.3L508.0,47.4L506.0,48.5L504.0,49.6L502.0,50.7L500.0,51.8L498.0,52.9L496.0,54.1L494.0,55.2L492.0,56.3L490.0,57.4L488.0,58.4L486.0,59.5L484.0,60.7L482.0,61.8L480.0,63.0L478.0,64.2L476.0,65.4L474.0,66.6L472.0,67.8L470.0,69.1L468.0,70.3L466.0,71.6L464.0,72.8L462.0,74.1L460.0,75.3L458.0,76.6L456.0,77.9L454.0,79.2L452.0,80.5L450.0,81.8L448.0,83.2L446.0,84.5L444.0,85.8L442.0,87.1L440.0,88.5L438.0,89.8L436.0,91.1L434.0,92.4L432.0,93.7L430.0,95.0L428.0,96.2L426.0,97.4L424.0,98.6L422.0,99.7L420.0,100.9L418.0,102.1L416.0,103.3L414.0,104.4L412.0,105.7L410.0,106.9L408.0,108.1L406.0,109.3L404.0,110.5L402.0,111.7L400.0,113.0L398.0,114.2L396.0,115.5L394.0,116.7L392.0,118.0L390.0,119.3L388.0,120.6L386.0,121.9L384.0,123.2L382.0,124.4L380.0,125.6L378.0,126.7L376.0,127.8L374.0,128.9L372.0,129.9L370.0,131.0L368.0,132.1L366.0,133.3L364.0,134.5L362.0,135.7L360.0,136.9L358.0,138.1L356.0,139.4L354.0,140.6L352.0,141.8L350.0,143.0L348.0,144.2L346.0,145.3L344.0,146.3L342.0,146.7L340.0,146.7L338.0,147.0Z" fill="#fee4d8" fill-opacity="0.66"/>
<path d="M340.0,143.8L342.0,141.9L344.0,140.2L346.0,138.6L348.0,137.0L350.0,135.4L352.0,133.8L354.0,132.2L356.0,130.6L358.0,129.1L360.0,127.5L362.0,126.0L364.0,124.5L366.0,123.0L368.0,121.4L370.0,119.9L372.0,118.4L374.0,116.9L376.0,115.4L378.0,113.9L380.0,112.5L382.0,111.0L384.0,109.5L386.0,108.0L388.0,106.6L390.0,105.1L392.0,103.7L394.0,102.3L396.0,100.8L398.0,99.4L400.0,98.0L402.0,96.6L404.0,95.1L406.0,93.7L408.0,92.3L410.0,91.0L412.0,89.6L414.0,88.2L416.0,86.8L418.0,85.5L420.0,84.1L422.0,82.7L424.0,81.4L426.0,80.0L428.0,78.7L430.0,77.4L432.0,76.1L434.0,74.7L436.0,73.4L438.0,72.1L440.0,70.8L442.0,69.5L444.0,68.2L446.0,67.0L448.0,65.7L450.0,64.4L452.0,63.1L454.0,61.9L456.0,60.6L458.0,59.4L460.0,58.1L462.0,56.9L464.0,55.7L466.0,54.5L468.0,53.2L470.0,52.0L472.0,50.8L474.0,49.6L476.0,48.4L478.0,47.3L480.0,46.1L482.0,44.9L484.0,43.7L486.0,42.6L488.0,41.4L490.0,40.3L492.0,39.1L494.0,38.0L496.0,36.9L498.0,35.7L500.0,34.6L502.0,33.5L504.0,32.4L506.0,31.3L508.0,30.2L510.0,29.1L512.0,28.0L514.0,26.9L516.0,25.9L518.0,24.8L520.0,23.8L522.0,22.7L524.0,21.7L526.0,20.6L528.0,19.6L530.0,18.5L532.0,17.5L534.0,16.5L536.0,15.5L538.0,14.5L540.0,13.5L542.0,12.5L544.0,11.5L546.0,10.5L548.0,9.6L550.0,8.6L552.0,7.6L554.0,6.7L556.0,5.8L558.0,4.8L560.0,3.9L562.0,3.0L564.0,2.1L566.0,1.3L568.0,0.7L568.0,3.6L566.0,7.0L564.0,9.0L562.0,10.8L560.0,12.4L558.0,14.0L556.0,15.5L554.0,16.9L552.0,18.3L550.0,19.6L548.0,21.0L546.0,22.3L544.0,23.6L542.0,24.9L540.0,26.2L538.0,27.3L536.0,28.6L534.0,29.8L532.0,31.2L530.0,32.6L528.0,34.0L526.0,35.5L524.0,37.0L522.0,38.5L520.0,39.8L518.0,41.2L516.0,42.5L514.0,43.7L512.0,44.9L510.0,46.0L508.0,47.2L506.0,48.3L504.0,49.4L502.0,50.5L500.0,51.6L498.0,52.7L496.0,53.9L494.0,55.0L492.0,56.1L490.0,57.2L488.0,58.3L486.0,59.4L484.0,60.5L482.0,61.7L480.0,62.9L478.0,64.1L476.0,65.3L474.0,66.5L472.0,67.7L470.0,68.9L468.0,70.2L466.0,71.4L464.0,72.7L462.0,73.9L460.0,75.2L458.0,76.5L456.0,77.8L454.0,79.1L452.0,80.4L450.0,81.7L448.0,83.0L446.0,84.4L444.0,85.7L442.0,87.0L440.0,88.3L438.0,89.7L436.0,91.0L434.0,92.3L432.0,93.6L430.0,94.8L428.0,96.0L426.0,97.2L424.0,98.4L422.0,99.6L420.0,100.8L418.0,101.9L416.0,103.1L414.0,104.3L412.0,105.5L410.0,106.7L408.0,108.0L406.0,109.2L404.0,110.4L402.0,111.6L400.0,112.8L398.0,114.1L396.0,115.3L394.0,116.6L392.0,117.9L390.0,119.2L388.0,120.5L386.0,121.8L384.0,123.0L382.0,124.2L380.0,125.3L378.0,126.4L376.0,127.5L374.0,128.5L372.0,129.4L370.0,130.4L368.0,131.5L366.0,132.6L364.0,133.9L362.0,135.1L360.0,136.3L358.0,137.5L356.0,138.7L354.0,139.9L352.0,141.1L350.0,142.2L348.0,143.2L346.0,144.2L344.0,145.0L342.0,145.3L340.0,145.5Z" fill="#fee1d4" fill-opacity="0.71"/>
<path d="M342.0,142.2L344.0,140.4L346.0,138.7L348.0,137.0L350.0,135.4L352.0,133.8L354.0,132.3L356.0,130.7L358.0,129.1L360.0,127.6L362.0,126.0L364.0,124.5L366.0,123.0L368.0,121.5L370.0,120.0L372.0,118.4L374.0,116.9L376.0,115.4L378.0,114.0L380.0,112.5L382.0,111.0L384.0,109.5L386.0,108.1L388.0,106.6L390.0,105.2L392.0,103.7L394.0,102.3L396.0,100.8L398.0,99.4L400.0,98.0L402.0,96.6L404.0,95.2L406.0,93.8L408.0,92.4L410.0,91.0L412.0,89.6L414.0,88.2L416.0,86.8L418.0,85.5L420.0,84.1L422.0,82.8L424.0,81.4L426.0,80.1L428.0,78.7L430.0,77.4L432.0,76.1L434.0,74.8L436.0,73.4L438.0,72.1L440.0,70.8L442.0,69.5L444.0,68.3L446.0,67.0L448.0,65.7L450.0,64.4L452.0,63.2L454.0,61.9L456.0,60.7L458.0,59.4L460.0,58.2L462.0,56.9L464.0,55.7L466.0,54.5L468.0,53.3L470.0,52.1L472.0,50.9L474.0,49.7L476.0,48.5L478.0,47.3L480.0,46.1L482.0,44.9L484.0,43.8L486.0,42.6L488.0,41.4L490.0,40.3L492.0,39.1L494.0,38.0L496.0,36.9L498.0,35.8L500.0,34.6L502.0,33.5L504.0,32.4L506.0,31.3L508.0,30.2L510.0,29.1L512.0,28.1L514.0,27.0L516.0,25.9L518.0,24.8L520.0,23.8L522.0,22.7L524.0,21.7L526.0,20.6L528.0,19.6L530.0,18.6L532.0,17.6L534.0,16.5L536.0,15.5L538.0,14.5L540.0,13.5L542.0,12.6L544.0,11.6L546.0,10.6L548.0,9.6L550.0,8.7L552.0,7.7L554.0,6.8L556.0,5.8L558.0,4.9L560.0,4.0L562.0,3.1L564.0,2.3L566.0,1.5L566.0,5.3L564.0,7.6L562.0,9.6L560.0,11.3L558.0,13.0L556.0,14.6L554.0,16.1L552.0,17.5L550.0,18.8L548.0,20.2L546.0,21.5L544.0,22.9L542.0,24.2L540.0,25.4L538.0,26.6L536.0,27.8L534.0,29.1L532.0,30.4L530.0,31.8L528.0,33.3L526.0,34.8L524.0,36.4L522.0,38.0L520.0,39.4L518.0,40.8L516.0,42.1L514.0,43.4L512.0,44.7L510.0,45.8L508.0,46.9L506.0,48.1L504.0,49.2L502.0,50.3L500.0,51.4L498.0,52.6L496.0,53.7L494.0,54.8L492.0,55.9L490.0,57.0L488.0,58.1L486.0,59.2L484.0,60.3L482.0,61.5L480.0,62.7L478.0,63.9L476.0,65.1L474.0,66.3L472.0,67.6L470.0,68.8L468.0,70.0L466.0,71.3L464.0,72.5L462.0,73.8L460.0,75.0L458.0,76.3L456.0,77.6L454.0,78.9L452.0,80.2L450.0,81.6L448.0,82.9L446.0,84.2L444.0,85.6L442.0,86.9L440.0,88.2L438.0,89.5L436.0,90.9L434.0,92.2L432.0,93.4L430.0,94.7L428.0,95.9L426.0,97.1L424.0,98.3L422.0,99.5L420.0,100.6L418.0,101.8L416.0,103.0L414.0,104.2L412.0,105.4L410.0,106.6L408.0,107.8L406.0,109.0L404.0,110.2L402.0,111.4L400.0,112.7L398.0,113.9L396.0,115.1L394.0,116.4L392.0,117.7L390.0,119.0L388.0,120.3L386.0,121.6L384.0,122.8L382.0,124.0L380.0,125.1L378.0,126.2L376.0,127.2L374.0,128.0L372.0,128.9L370.0,129.8L368.0,130.9L366.0,132.1L364.0,133.4L362.0,134.6L360.0,135.7L358.0,136.9L356.0,138.1L354.0,139.3L352.0,140.3L350.0,141.3L348.0,142.3L346.0,143.1L344.0,143.8L342.0,144.0Z" fill="#feddce" fill-opacity="0.76"/>
<path d="M344.0,140.6L346.0,138.8L348.0,137.1L350.0,135.5L352.0,133.9L354.0,132.3L356.0,130.7L358.0,129.2L360.0,127.6L362.0,126.1L364.0,124.5L366.0,123.0L368.0,121.5L370.0,120.0L372.0,118.5L374.0,117.0L376.0,115.5L378.0,114.0L380.0,112.5L382.0,111.0L384.0,109.6L386.0,108.1L388.0,106.6L390.0,105.2L392.0,103.7L394.0,102.3L396.0,100.9L398.0,99.4L400.0,98.0L402.0,96.6L404.0,95.2L406.0,93.8L408.0,92.4L410.0,91.0L412.0,89.6L414.0,88.2L416.0,86.9L418.0,85.5L420.0,84.1L422.0,82.8L424.0,81.4L426.0,80.1L428.0,78.8L430.0,77.4L432.0,76.1L434.0,74.8L436.0,73.5L438.0,72.2L440.0,70.9L442.0,69.6L444.0,68.3L446.0,67.0L448.0,65.7L450.0,64.4L452.0,63.2L454.0,61.9L456.0,60.7L458.0,59.4L460.0,58.2L462.0,57.0L464.0,55.7L466.0,54.5L468.0,53.3L470.0,52.1L472.0,50.9L474.0,49.7L476.0,48.5L478.0,47.3L480.0,46.1L482.0,44.9L484.0,43.8L486.0,42.6L488.0,41.5L490.0,40.3L492.0,39.2L494.0,38.0L496.0,36.9L498.0,35.8L500.0,34.7L502.0,33.6L504.0,32.4L506.0,31.3L508.0,30.3L510.0,29.2L512.0,28.1L514.0,27.0L516.0,25.9L518.0,24.9L520.0,23.8L522.0,22.8L524.0,21.7L526.0,20.7L528.0,19.7L530.0,18.6L532.0,17.6L534.0,16.6L536.0,15.6L538.0,14.6L540.0,13.6L542.0,12.6L544.0,11.6L546.0,10.6L548.0,9.7L550.0,8.7L552.0,7.8L554.0,6.8L556.0,5.9L558.0,5.0L560.0,4.1L562.0,3.3L564.0,2.5L566.0,2.0L566.0,3.8L564.0,6.3L562.0,8.4L560.0,10.3L558.0,12.0L556.0,13.7L554.0,15.2L552.0,16.7L550.0,18.1L548.0,19.4L546.0,20.8L544.0,22.1L542.0,23.5L540.0,24.7L538.0,25.9L536.0,27.1L534.0,28.4L532.0,29.6L530.0,31.0L528.0,32.5L526.0,34.1L524.0,35.8L522.0,37.4L520.0,38.9L518.0,40.4L516.0,41.8L514.0,43.1L512.0,44.4L510.0,45.6L508.0,46.7L506.0,47.8L504.0,49.0L502.0,50.1L500.0,51.2L498.0,52.4L496.0,53.5L494.0,54.7L492.0,55.8L490.0,56.8L488.0,57.9L486.0,59.0L484.0,60.2L482.0,61.4L480.0,62.5L478.0,63.7L476.0,65.0L474.0,66.2L472.0,67.4L470.0,68.6L468.0,69.9L466.0,71.1L464.0,72.4L462.0,73.6L460.0,74.9L458.0,76.2L456.0,77.5L454.0,78.8L452.0,80.1L450.0,81.4L448.0,82.8L446.0,84.1L444.0,85.4L442.0,86.7L440.0,88.1L438.0,89.4L436.0,90.7L434.0,92.0L432.0,93.3L430.0,94.6L428.0,95.8L426.0,97.0L424.0,98.1L422.0,99.3L420.0,100.5L418.0,101.7L416.0,102.8L414.0,104.0L412.0,105.2L410.0,106.4L408.0,107.7L406.0,108.9L404.0,110.1L402.0,111.3L400.0,112.5L398.0,113.7L396.0,115.0L394.0,116.2L392.0,117.5L390.0,118.8L388.0,120.1L386.0,121.4L384.0,122.6L382.0,123.8L380.0,124.8L378.0,125.9L376.0,126.7L374.0,127.5L372.0,128.3L370.0,129.2L368.0,130.4L366.0,131.6L364.0,132.8L362.0,134.0L360.0,135.2L358.0,136.3L356.0,137.5L354.0,138.6L352.0,139.6L350.0,140.6L348.0,141.4L346.0,142.1L344.0,142.6Z" fill="#fed8c8" fill-opacity="0.81"/>
<path d="M346.0,139.0L348.0,137.3L350.0,135.6L352.0,134.0L354.0,132.4L356.0,130.8L358.0,129.2L360.0,127.7L362.0,126.1L364.0,124.6L366.0,123.1L368.0,121.5L370.0,120.0L372.0,118.5L374.0,117.0L376.0,115.5L378.0,114.0L380.0,112.5L382.0,111.1L384.0,109.6L386.0,108.1L388.0,106.7L390.0,105.2L392.0,103.8L394.0,102.3L396.0,100.9L398.0,99.5L400.0,98.0L402.0,96.6L404.0,95.2L406.0,93.8L408.0,92.4L410.0,91.0L412.0,89.6L414.0,88.3L416.0,86.9L418.0,85.5L420.0,84.2L422.0,82.8L424.0,81.5L426.0,80.1L428.0,78.8L430.0,77.4L432.0,76.1L434.0,74.8L436.0,73.5L438.0,72.2L440.0,70.9L442.0,69.6L444.0,68.3L446.0,67.0L448.0,65.7L450.0,64.5L452.0,63.2L454.0,61.9L456.0,60.7L458.0,59.4L460.0,58.2L462.0,57.0L464.0,55.7L466.0,54.5L468.0,53.3L470.0,52.1L472.0,50.9L474.0,49.7L476.0,48.5L478.0,47.3L480.0,46.1L482.0,45.0L484.0,43.8L486.0,42.6L488.0,41.5L490.0,40.3L492.0,39.2L494.0,38.1L496.0,36.9L498.0,35.8L500.0,34.7L502.0,33.6L504.0,32.5L506.0,31.4L508.0,30.3L510.0,29.2L512.0,28.1L514.0,27.1L516.0,26.0L518.0,24.9L520.0,23.9L522.0,22.8L524.0,21.8L526.0,20.7L528.0,19.7L530.0,18.7L532.0,17.7L534.0,16.6L536.0,15.6L538.0,14.6L540.0,13.6L542.0,12.7L544.0,11.7L546.0,10.7L548.0,9.7L550.0,8.8L552.0,7.8L554.0,6.9L556.0,6.0L558.0,5.1L560.0,4.2L562.0,3.4L564.0,2.8L564.0,5.1L562.0,7.4L560.0,9.3L558.0,11.1L556.0,12.8L554.0,14.4L552.0,15.9L550.0,17.4L548.0,18.8L546.0,20.1L544.0,21.4L542.0,22.8L540.0,24.0L538.0,25.3L536.0,26.5L534.0,27.7L532.0,29.0L530.0,30.3L528.0,31.8L526.0,33.4L524.0,35.0L522.0,36.7L520.0,38.4L518.0,39.9L516.0,41.4L514.0,42.8L512.0,44.1L510.0,45.3L508.0,46.5L506.0,47.6L504.0,48.8L502.0,49.9L500.0,51.0L498.0,52.2L496.0,53.3L494.0,54.5L492.0,55.6L490.0,56.7L488.0,57.7L486.0,58.9L484.0,60.0L482.0,61.2L480.0,62.4L478.0,63.6L476.0,64.8L474.0,66.0L472.0,67.2L470.0,68.5L468.0,69.7L466.0,71.0L464.0,72.2L462.0,73.5L460.0,74.8L458.0,76.0L456.0,77.3L454.0,78.6L452.0,80.0L450.0,81.3L448.0,82.6L446.0,83.9L444.0,85.3L442.0,86.6L440.0,87.9L438.0,89.3L436.0,90.6L434.0,91.9L432.0,93.2L430.0,94.4L428.0,95.6L426.0,96.8L424.0,98.0L422.0,99.2L420.0,100.3L418.0,101.5L416.0,102.7L414.0,103.9L412.0,105.1L410.0,106.3L408.0,107.5L406.0,108.7L404.0,109.9L402.0,111.1L400.0,112.3L398.0,113.6L396.0,114.8L394.0,116.1L392.0,117.4L390.0,118.6L388.0,119.9L386.0,121.2L384.0,122.4L382.0,123.5L380.0,124.6L378.0,125.5L376.0,126.3L374.0,127.0L372.0,127.7L370.0,128.7L368.0,129.9L366.0,131.1L364.0,132.3L362.0,133.5L360.0,134.6L358.0,135.8L356.0,136.9L354.0,138.0L352.0,139.0L350.0,139.8L348.0,140.6L346.0,141.2Z" fill="#fdd3c1" fill-opacity="0.86"/>
<path d="M346.0,139.5L348.0,137.4L350.0,135.7L352.0,134.1L354.0,132.4L356.0,130.9L358.0,129.3L360.0,127.7L362.0,126.2L364.0,124.6L366.0,123.1L368.0,121.6L370.0,120.0L372.0,118.5L374.0,117.0L376.0,115.5L378.0,114.0L380.0,112.6L382.0,111.1L384.0,109.6L386.0,108.1L388.0,106.7L390.0,105.2L392.0,103.8L394.0,102.3L396.0,100.9L398.0,99.5L400.0,98.1L402.0,96.6L404.0,95.2L406.0,93.8L408.0,92.4L410.0,91.0L412.0,89.7L414.0,88.3L416.0,86.9L418.0,85.5L420.0,84.2L422.0,82.8L424.0,81.5L426.0,80.1L428.0,78.8L430.0,77.5L432.0,76.1L434.0,74.8L436.0,73.5L438.0,72.2L440.0,70.9L442.0,69.6L444.0,68.3L446.0,67.0L448.0,65.8L450.0,64.5L452.0,63.2L454.0,62.0L456.0,60.7L458.0,59.5L460.0,58.2L462.0,57.0L464.0,55.8L466.0,54.5L468.0,53.3L470.0,52.1L472.0,50.9L474.0,49.7L476.0,48.5L478.0,47.3L480.0,46.2L482.0,45.0L484.0,43.8L486.0,42.7L488.0,41.5L490.0,40.4L492.0,39.2L494.0,38.1L496.0,37.0L498.0,35.8L500.0,34.7L502.0,33.6L504.0,32.5L506.0,31.4L508.0,30.3L510.0,29.2L512.0,28.2L514.0,27.1L516.0,26.0L518.0,25.0L520.0,23.9L522.0,22.9L524.0,21.8L526.0,20.8L528.0,19.7L530.0,18.7L532.0,17.7L534.0,16.7L536.0,15.7L538.0,14.7L540.0,13.7L542.0,12.7L544.0,11.7L546.0,10.8L548.0,9.8L550.0,8.9L552.0,7.9L554.0,7.0L556.0,6.1L558.0,5.2L560.0,4.4L562.0,3.7L562.0,6.4L560.0,8.4L558.0,10.3L556.0,12.0L554.0,13.6L552.0,15.2L550.0,16.7L548.0,18.1L546.0,19.5L544.0,20.8L542.0,22.1L540.0,23.4L538.0,24.6L536.0,25.9L534.0,27.1L532.0,28.4L530.0,29.7L528.0,31.1L526.0,32.7L524.0,34.3L522.0,36.0L520.0,37.7L518.0,39.3L516.0,40.9L514.0,42.4L512.0,43.7L510.0,45.0L508.0,46.2L506.0,47.4L504.0,48.5L502.0,49.7L500.0,50.8L498.0,52.0L496.0,53.1L494.0,54.3L492.0,55.4L490.0,56.5L488.0,57.6L486.0,58.7L484.0,59.8L482.0,61.0L480.0,62.2L478.0,63.4L476.0,64.6L474.0,65.9L472.0,67.1L470.0,68.3L468.0,69.6L466.0,70.8L464.0,72.1L462.0,73.3L460.0,74.6L458.0,75.9L456.0,77.2L454.0,78.5L452.0,79.8L450.0,81.1L448.0,82.5L446.0,83.8L444.0,85.1L442.0,86.5L440.0,87.8L438.0,89.1L436.0,90.5L434.0,91.8L432.0,93.0L430.0,94.3L428.0,95.5L426.0,96.7L424.0,97.9L422.0,99.0L420.0,100.2L418.0,101.4L416.0,102.5L414.0,103.7L412.0,104.9L410.0,106.1L408.0,107.3L406.0,108.5L404.0,109.7L402.0,111.0L400.0,112.2L398.0,113.4L396.0,114.6L394.0,115.9L392.0,117.2L390.0,118.5L388.0,119.7L386.0,121.0L384.0,122.1L382.0,123.2L380.0,124.2L378.0,125.0L376.0,125.7L374.0,126.4L372.0,127.2L370.0,128.3L368.0,129.4L366.0,130.6L364.0,131.8L362.0,133.0L360.0,134.1L358.0,135.3L356.0,136.4L354.0,137.4L352.0,138.3L350.0,139.2L348.0,139.9L346.0,140.4Z" fill="#fdcebb" fill-opacity="0.91"/>
<path d="M348.0,137.7L350.0,135.8L352.0,134.2L354.0,132.5L356.0,130.9L358.0,129.3L360.0,127.8L362.0,126.2L364.0,124.7L366.0,123.1L368.0,121.6L370.0,120.1L372.0,118.6L374.0,117.1L376.0,115.6L378.0,114.1L380.0,112.6L382.0,111.1L384.0,109.6L386.0,108.2L388.0,106.7L390.0,105.3L392.0,103.8L394.0,102.4L396.0,100.9L398.0,99.5L400.0,98.1L402.0,96.7L404.0,95.3L406.0,93.9L408.0,92.5L410.0,91.1L412.0,89.7L414.0,88.3L416.0,86.9L418.0,85.6L420.0,84.2L422.0,82.8L424.0,81.5L426.0,80.2L428.0,78.8L430.0,77.5L432.0,76.2L434.0,74.8L436.0,73.5L438.0,72.2L440.0,70.9L442.0,69.6L444.0,68.3L446.0,67.1L448.0,65.8L450.0,64.5L452.0,63.2L454.0,62.0L456.0,60.7L458.0,59.5L460.0,58.3L462.0,57.0L464.0,55.8L466.0,54.6L468.0,53.4L470.0,52.1L472.0,50.9L474.0,49.7L476.0,48.6L478.0,47.4L480.0,46.2L482.0,45.0L484.0,43.8L486.0,42.7L488.0,41.5L490.0,40.4L492.0,39.2L494.0,38.1L496.0,37.0L498.0,35.9L500.0,34.7L502.0,33.6L504.0,32.5L506.0,31.4L508.0,30.4L510.0,29.3L512.0,28.2L514.0,27.1L516.0,26.1L518.0,25.0L520.0,23.9L522.0,22.9L524.0,21.9L526.0,20.8L528.0,19.8L530.0,18.8L532.0,17.7L534.0,16.7L536.0,15.7L538.0,14.7L540.0,13.7L542.0,12.8L544.0,11.8L546.0,10.8L548.0,9.9L550.0,8.9L552.0,8.0L554.0,7.1L556.0,6.2L558.0,5.4L560.0,4.6L562.0,4.2L562.0,5.5L560.0,7.6L558.0,9.5L556.0,11.2L554.0,12.9L552.0,14.5L550.0,16.0L548.0,17.4L546.0,18.8L544.0,20.2L542.0,21.5L540.0,22.8L538.0,24.0L536.0,25.3L534.0,26.5L532.0,27.8L530.0,29.1L528.0,30.5L526.0,32.0L524.0,33.6L522.0,35.3L520.0,37.0L518.0,38.7L516.0,40.3L514.0,41.9L512.0,43.4L510.0,44.7L508.0,45.9L506.0,47.1L504.0,48.3L502.0,49.5L500.0,50.6L498.0,51.8L496.0,52.9L494.0,54.1L492.0,55.2L490.0,56.3L488.0,57.4L486.0,58.5L484.0,59.7L482.0,60.9L480.0,62.1L478.0,63.3L476.0,64.5L474.0,65.7L472.0,66.9L470.0,68.2L468.0,69.4L466.0,70.7L464.0,71.9L462.0,73.2L460.0,74.5L458.0,75.7L456.0,77.0L454.0,78.4L452.0,79.7L450.0,81.0L448.0,82.3L446.0,83.7L444.0,85.0L442.0,86.3L440.0,87.7L438.0,89.0L436.0,90.3L434.0,91.6L432.0,92.9L430.0,94.1L428.0,95.3L426.0,96.5L424.0,97.7L422.0,98.9L420.0,100.1L418.0,101.2L416.0,102.4L414.0,103.6L412.0,104.8L410.0,106.0L408.0,107.2L406.0,108.4L404.0,109.6L402.0,110.8L400.0,112.0L398.0,113.2L396.0,114.5L394.0,115.7L392.0,117.0L390.0,118.3L388.0,119.5L386.0,120.7L384.0,121.9L382.0,122.9L380.0,123.8L378.0,124.5L376.0,125.2L374.0,125.9L372.0,126.8L370.0,127.8L368.0,129.0L366.0,130.2L364.0,131.4L362.0,132.5L360.0,133.7L358.0,134.8L356.0,135.9L354.0,136.8L352.0,137.7L350.0,138.5L348.0,139.2Z" fill="#fdc9b4" fill-opacity="0.96"/>
<path d="M350.0,136.0L352.0,134.3L354.0,132.6L356.0,131.0L358.0,129.4L360.0,127.8L362.0,126.3L364.0,124.7L366.0,123.2L368.0,121.6L370.0,120.1L372.0,118.6L374.0,117.1L376.0,115.6L378.0,114.1L380.0,112.6L382.0,111.1L384.0,109.7L386.0,108.2L388.0,106.7L390.0,105.3L392.0,103.8L394.0,102.4L396.0,101.0L398.0,99.5L400.0,98.1L402.0,96.7L404.0,95.3L406.0,93.9L408.0,92.5L410.0,91.1L412.0,89.7L414.0,88.3L416.0,86.9L418.0,85.6L420.0,84.2L422.0,82.9L424.0,81.5L426.0,80.2L428.0,78.8L430.0,77.5L432.0,76.2L434.0,74.9L436.0,73.5L438.0,72.2L440.0,70.9L442.0,69.6L444.0,68.4L446.0,67.1L448.0,65.8L450.0,64.5L452.0,63.3L454.0,62.0L456.0,60.8L458.0,59.5L460.0,58.3L462.0,57.0L464.0,55.8L466.0,54.6L468.0,53.4L470.0,52.2L472.0,51.0L474.0,49.8L476.0,48.6L478.0,47.4L480.0,46.2L482.0,45.0L484.0,43.9L486.0,42.7L488.0,41.6L490.0,40.4L492.0,39.3L494.0,38.1L496.0,37.0L498.0,35.9L500.0,34.8L502.0,33.7L504.0,32.6L506.0,31.5L508.0,30.4L510.0,29.3L512.0,28.2L514.0,27.2L516.0,26.1L518.0,25.0L520.0,24.0L522.0,22.9L524.0,21.9L526.0,20.9L528.0,19.8L530.0,18.8L532.0,17.8L534.0,16.8L536.0,15.8L538.0,14.8L540.0,13.8L542.0,12.8L544.0,11.9L546.0,10.9L548.0,9.9L550.0,9.0L552.0,8.1L554.0,7.2L556.0,6.3L558.0,5.6L560.0,5.0L560.0,6.8L558.0,8.7L556.0,10.5L554.0,12.2L552.0,13.8L550.0,15.3L548.0,16.8L546.0,18.2L544.0,19.6L542.0,20.9L540.0,22.2L538.0,23.4L536.0,24.7L534.0,25.9L532.0,27.2L530.0,28.6L528.0,30.0L526.0,31.4L524.0,33.0L522.0,34.6L520.0,36.3L518.0,38.0L516.0,39.7L514.0,41.3L512.0,42.9L510.0,44.3L508.0,45.6L506.0,46.9L504.0,48.1L502.0,49.3L500.0,50.4L498.0,51.6L496.0,52.8L494.0,53.9L492.0,55.0L490.0,56.1L488.0,57.2L486.0,58.3L484.0,59.5L482.0,60.7L480.0,61.9L478.0,63.1L476.0,64.3L474.0,65.5L472.0,66.8L470.0,68.0L468.0,69.3L466.0,70.5L464.0,71.8L462.0,73.0L460.0,74.3L458.0,75.6L456.0,76.9L454.0,78.2L452.0,79.5L450.0,80.8L448.0,82.2L446.0,83.5L444.0,84.8L442.0,86.2L440.0,87.5L438.0,88.8L436.0,90.2L434.0,91.5L432.0,92.7L430.0,94.0L428.0,95.2L426.0,96.4L424.0,97.6L422.0,98.7L420.0,99.9L418.0,101.1L416.0,102.2L414.0,103.4L412.0,104.6L410.0,105.8L408.0,107.0L406.0,108.2L404.0,109.4L402.0,110.6L400.0,111.8L398.0,113.1L396.0,114.3L394.0,115.6L392.0,116.8L390.0,118.1L388.0,119.3L386.0,120.5L384.0,121.6L382.0,122.5L380.0,123.3L378.0,124.0L376.0,124.6L374.0,125.4L372.0,126.3L370.0,127.4L368.0,128.5L366.0,129.7L364.0,130.9L362.0,132.1L360.0,133.2L358.0,134.3L356.0,135.3L354.0,136.3L352.0,137.2L350.0,137.9Z" fill="#fdc5ae"/>
<path d="M350.0,136.5L352.0,134.4L354.0,132.7L356.0,131.1L358.0,129.5L360.0,127.9L362.0,126.3L364.0,124.8L366.0,123.2L368.0,121.7L370.0,120.2L372.0,118.6L374.0,117.1L376.0,115.6L378.0,114.1L380.0,112.7L382.0,111.2L384.0,109.7L386.0,108.2L388.0,106.8L390.0,105.3L392.0,103.9L394.0,102.4L396.0,101.0L398.0,99.6L400.0,98.1L402.0,96.7L404.0,95.3L406.0,93.9L408.0,92.5L410.0,91.1L412.0,89.7L414.0,88.3L416.0,87.0L418.0,85.6L420.0,84.2L422.0,82.9L424.0,81.5L426.0,80.2L428.0,78.9L430.0,77.5L432.0,76.2L434.0,74.9L436.0,73.6L438.0,72.3L440.0,71.0L442.0,69.7L444.0,68.4L446.0,67.1L448.0,65.8L450.0,64.6L452.0,63.3L454.0,62.0L456.0,60.8L458.0,59.5L460.0,58.3L462.0,57.1L464.0,55.8L466.0,54.6L468.0,53.4L470.0,52.2L472.0,51.0L474.0,49.8L476.0,48.6L478.0,47.4L480.0,46.2L482.0,45.1L484.0,43.9L486.0,42.7L488.0,41.6L490.0,40.4L492.0,39.3L494.0,38.2L496.0,37.0L498.0,35.9L500.0,34.8L502.0,33.7L504.0,32.6L506.0,31.5L508.0,30.4L510.0,29.3L512.0,28.3L514.0,27.2L516.0,26.1L518.0,25.1L520.0,24.0L522.0,23.0L524.0,21.9L526.0,20.9L528.0,19.9L530.0,18.9L532.0,17.8L534.0,16.8L536.0,15.8L538.0,14.8L540.0,13.9L542.0,12.9L544.0,11.9L546.0,11.0L548.0,10.0L550.0,9.1L552.0,8.2L554.0,7.3L556.0,6.5L558.0,5.8L558.0,8.0L556.0,9.8L554.0,11.5L552.0,13.1L550.0,14.7L548.0,16.2L546.0,17.6L544.0,19.0L542.0,20.4L540.0,21.6L538.0,22.9L536.0,24.1L534.0,25.4L532.0,26.7L530.0,28.0L528.0,29.4L526.0,30.9L524.0,32.4L522.0,34.0L520.0,35.6L518.0,37.2L516.0,39.0L514.0,40.7L512.0,42.4L510.0,43.9L508.0,45.3L506.0,46.6L504.0,47.8L502.0,49.0L500.0,50.2L498.0,51.4L496.0,52.6L494.0,53.7L492.0,54.8L490.0,55.9L488.0,57.0L486.0,58.1L484.0,59.3L482.0,60.5L480.0,61.7L478.0,62.9L476.0,64.1L474.0,65.4L472.0,66.6L470.0,67.9L468.0,69.1L466.0,70.4L464.0,71.6L462.0,72.9L460.0,74.2L458.0,75.4L456.0,76.7L454.0,78.1L452.0,79.4L450.0,80.7L448.0,82.0L446.0,83.4L444.0,84.7L442.0,86.0L440.0,87.4L438.0,88.7L436.0,90.0L434.0,91.3L432.0,92.6L430.0,93.8L428.0,95.0L426.0,96.2L424.0,97.4L422.0,98.6L420.0,99.7L418.0,100.9L416.0,102.1L414.0,103.3L412.0,104.5L410.0,105.7L408.0,106.9L406.0,108.1L404.0,109.3L402.0,110.5L400.0,111.7L398.0,112.9L396.0,114.1L394.0,115.4L392.0,116.6L390.0,117.8L388.0,119.0L386.0,120.2L384.0,121.2L382.0,122.0L380.0,122.7L378.0,123.4L376.0,124.1L374.0,125.0L372.0,125.9L370.0,127.0L368.0,128.1L366.0,129.3L364.0,130.5L362.0,131.7L360.0,132.8L358.0,133.8L356.0,134.9L354.0,135.8L352.0,136.6L350.0,137.4Z" fill="#fcc0a7"/>
<path d="M352.0,134.7L354.0,132.8L356.0,131.2L358.0,129.5L360.0,127.9L362.0,126.4L364.0,124.8L366.0,123.3L368.0,121.7L370.0,120.2L372.0,118.7L374.0,117.2L376.0,115.7L378.0,114.2L380.0,112.7L382.0,111.2L384.0,109.7L386.0,108.3L388.0,106.8L390.0,105.3L392.0,103.9L394.0,102.4L396.0,101.0L398.0,99.6L400.0,98.2L402.0,96.7L404.0,95.3L406.0,93.9L408.0,92.5L410.0,91.1L412.0,89.7L414.0,88.4L416.0,87.0L418.0,85.6L420.0,84.3L422.0,82.9L424.0,81.6L426.0,80.2L428.0,78.9L430.0,77.5L432.0,76.2L434.0,74.9L436.0,73.6L438.0,72.3L440.0,71.0L442.0,69.7L444.0,68.4L446.0,67.1L448.0,65.8L450.0,64.6L452.0,63.3L454.0,62.1L456.0,60.8L458.0,59.6L460.0,58.3L462.0,57.1L464.0,55.9L466.0,54.6L468.0,53.4L470.0,52.2L472.0,51.0L474.0,49.8L476.0,48.6L478.0,47.4L480.0,46.3L482.0,45.1L484.0,43.9L486.0,42.8L488.0,41.6L490.0,40.5L492.0,39.3L494.0,38.2L496.0,37.1L498.0,35.9L500.0,34.8L502.0,33.7L504.0,32.6L506.0,31.5L508.0,30.5L510.0,29.4L512.0,28.3L514.0,27.2L516.0,26.2L518.0,25.1L520.0,24.1L522.0,23.0L524.0,22.0L526.0,21.0L528.0,19.9L530.0,18.9L532.0,17.9L534.0,16.9L536.0,15.9L538.0,14.9L540.0,13.9L542.0,13.0L544.0,12.0L546.0,11.0L548.0,10.1L550.0,9.2L552.0,8.3L554.0,7.5L556.0,6.8L558.0,6.6L558.0,7.4L556.0,9.2L554.0,10.9L552.0,12.5L550.0,14.1L548.0,15.6L546.0,17.1L544.0,18.5L542.0,19.8L540.0,21.1L538.0,22.4L536.0,23.6L534.0,24.9L532.0,26.2L530.0,27.5L528.0,28.9L526.0,30.4L524.0,31.9L522.0,33.4L520.0,35.0L518.0,36.6L516.0,38.3L514.0,40.0L512.0,41.7L510.0,43.4L508.0,44.9L506.0,46.2L504.0,47.5L502.0,48.8L500.0,50.0L498.0,51.2L496.0,52.4L494.0,53.5L492.0,54.7L490.0,55.8L488.0,56.9L486.0,58.0L484.0,59.1L482.0,60.3L480.0,61.5L478.0,62.7L476.0,64.0L474.0,65.2L472.0,66.4L470.0,67.7L468.0,68.9L466.0,70.2L464.0,71.5L462.0,72.7L460.0,74.0L458.0,75.3L456.0,76.6L454.0,77.9L452.0,79.2L450.0,80.5L448.0,81.9L446.0,83.2L444.0,84.5L442.0,85.9L440.0,87.2L438.0,88.5L436.0,89.9L434.0,91.2L432.0,92.4L430.0,93.7L428.0,94.9L426.0,96.1L424.0,97.3L422.0,98.4L420.0,99.6L418.0,100.8L416.0,101.9L414.0,103.1L412.0,104.3L410.0,105.5L408.0,106.7L406.0,107.9L404.0,109.1L402.0,110.3L400.0,111.5L398.0,112.7L396.0,113.9L394.0,115.2L392.0,116.4L390.0,117.6L388.0,118.7L386.0,119.8L384.0,120.7L382.0,121.5L380.0,122.2L378.0,122.9L376.0,123.7L374.0,124.6L372.0,125.5L370.0,126.6L368.0,127.7L366.0,128.9L364.0,130.1L362.0,131.3L360.0,132.3L358.0,133.4L356.0,134.4L354.0,135.3L352.0,136.1Z" fill="#fcbba0"/>
<path d="M354.0,133.0L356.0,131.3L358.0,129.6L360.0,128.0L362.0,126.4L364.0,124.9L366.0,123.3L368.0,121.8L370.0,120.2L372.0,118.7L374.0,117.2L376.0,115.7L378.0,114.2L380.0,112.7L382.0,111.2L384.0,109.8L386.0,108.3L388.0,106.8L390.0,105.4L392.0,103.9L394.0,102.5L396.0,101.0L398.0,99.6L400.0,98.2L402.0,96.8L404.0,95.4L406.0,93.9L408.0,92.5L410.0,91.2L412.0,89.8L414.0,88.4L416.0,87.0L418.0,85.6L420.0,84.3L422.0,82.9L424.0,81.6L426.0,80.2L428.0,78.9L430.0,77.6L432.0,76.2L434.0,74.9L436.0,73.6L438.0,72.3L440.0,71.0L442.0,69.7L444.0,68.4L446.0,67.1L448.0,65.9L450.0,64.6L452.0,63.3L454.0,62.1L456.0,60.8L458.0,59.6L460.0,58.3L462.0,57.1L464.0,55.9L466.0,54.7L468.0,53.4L470.0,52.2L472.0,51.0L474.0,49.8L476.0,48.6L478.0,47.5L480.0,46.3L482.0,45.1L484.0,44.0L486.0,42.8L488.0,41.6L490.0,40.5L492.0,39.4L494.0,38.2L496.0,37.1L498.0,36.0L500.0,34.9L502.0,33.8L504.0,32.7L506.0,31.6L508.0,30.5L510.0,29.4L512.0,28.3L514.0,27.3L516.0,26.2L518.0,25.2L520.0,24.1L522.0,23.1L524.0,22.0L526.0,21.0L528.0,20.0L530.0,19.0L532.0,18.0L534.0,17.0L536.0,16.0L538.0,15.0L540.0,14.0L542.0,13.0L544.0,12.1L546.0,11.1L548.0,10.2L550.0,9.3L552.0,8.5L554.0,7.7L556.0,7.2L556.0,8.6L554.0,10.3L552.0,11.9L550.0,13.5L548.0,15.1L546.0,16.5L544.0,18.0L542.0,19.3L540.0,20.6L538.0,21.9L536.0,23.1L534.0,24.4L532.0,25.7L530.0,27.0L528.0,28.4L526.0,29.8L524.0,31.3L522.0,32.9L520.0,34.4L518.0,36.0L516.0,37.6L514.0,39.3L512.0,41.0L510.0,42.7L508.0,44.4L506.0,45.9L504.0,47.2L502.0,48.5L500.0,49.7L498.0,50.9L496.0,52.1L494.0,53.3L492.0,54.5L490.0,55.6L488.0,56.7L486.0,57.8L484.0,59.0L482.0,60.2L480.0,61.4L478.0,62.6L476.0,63.8L474.0,65.0L472.0,66.3L470.0,67.5L468.0,68.8L466.0,70.0L464.0,71.3L462.0,72.6L460.0,73.8L458.0,75.1L456.0,76.4L454.0,77.7L452.0,79.1L450.0,80.4L448.0,81.7L446.0,83.1L444.0,84.4L442.0,85.7L440.0,87.1L438.0,88.4L436.0,89.7L434.0,91.0L432.0,92.3L430.0,93.5L428.0,94.7L426.0,95.9L424.0,97.1L422.0,98.3L420.0,99.4L418.0,100.6L416.0,101.8L414.0,102.9L412.0,104.1L410.0,105.3L408.0,106.5L406.0,107.7L404.0,108.9L402.0,110.1L400.0,111.3L398.0,112.5L396.0,113.7L394.0,114.9L392.0,116.1L390.0,117.3L388.0,118.4L386.0,119.4L384.0,120.2L382.0,121.0L380.0,121.7L378.0,122.4L376.0,123.3L374.0,124.2L372.0,125.1L370.0,126.2L368.0,127.4L366.0,128.6L364.0,129.7L362.0,130.9L360.0,131.9L358.0,133.0L356.0,134.0L354.0,134.9Z" fill="#fcb59a"/>
<path d="M354.0,133.3L356.0,131.4L358.0,129.7L360.0,128.1L362.0,126.5L364.0,124.9L366.0,123.4L368.0,121.8L370.0,120.3L372.0,118.8L374.0,117.2L376.0,115.7L378.0,114.2L380.0,112.8L382.0,111.3L384.0,109.8L386.0,108.3L388.0,106.9L390.0,105.4L392.0,103.9L394.0,102.5L396.0,101.1L398.0,99.6L400.0,98.2L402.0,96.8L404.0,95.4L406.0,94.0L408.0,92.6L410.0,91.2L412.0,89.8L414.0,88.4L416.0,87.0L418.0,85.7L420.0,84.3L422.0,83.0L424.0,81.6L426.0,80.3L428.0,78.9L430.0,77.6L432.0,76.3L434.0,75.0L436.0,73.6L438.0,72.3L440.0,71.0L442.0,69.7L444.0,68.5L446.0,67.2L448.0,65.9L450.0,64.6L452.0,63.4L454.0,62.1L456.0,60.8L458.0,59.6L460.0,58.4L462.0,57.1L464.0,55.9L466.0,54.7L468.0,53.5L470.0,52.3L472.0,51.1L474.0,49.9L476.0,48.7L478.0,47.5L480.0,46.3L482.0,45.1L484.0,44.0L486.0,42.8L488.0,41.7L490.0,40.5L492.0,39.4L494.0,38.3L496.0,37.1L498.0,36.0L500.0,34.9L502.0,33.8L504.0,32.7L506.0,31.6L508.0,30.5L510.0,29.5L512.0,28.4L514.0,27.3L516.0,26.3L518.0,25.2L520.0,24.2L522.0,23.1L524.0,22.1L526.0,21.1L528.0,20.0L530.0,19.0L532.0,18.0L534.0,17.0L536.0,16.0L538.0,15.0L540.0,14.1L542.0,13.1L544.0,12.2L546.0,11.2L548.0,10.3L550.0,9.5L552.0,8.7L554.0,8.1L554.0,9.8L552.0,11.4L550.0,13.0L548.0,14.5L546.0,16.0L544.0,17.4L542.0,18.8L540.0,20.1L538.0,21.4L536.0,22.7L534.0,24.0L532.0,25.2L530.0,26.5L528.0,27.9L526.0,29.3L524.0,30.8L522.0,32.3L520.0,33.9L518.0,35.4L516.0,37.0L514.0,38.6L512.0,40.4L510.0,42.1L508.0,43.8L506.0,45.4L504.0,46.9L502.0,48.2L500.0,49.5L498.0,50.7L496.0,51.9L494.0,53.1L492.0,54.3L490.0,55.4L488.0,56.5L486.0,57.6L484.0,58.8L482.0,60.0L480.0,61.2L478.0,62.4L476.0,63.6L474.0,64.9L472.0,66.1L470.0,67.3L468.0,68.6L466.0,69.9L464.0,71.1L462.0,72.4L460.0,73.7L458.0,75.0L456.0,76.3L454.0,77.6L452.0,78.9L450.0,80.2L448.0,81.6L446.0,82.9L444.0,84.2L442.0,85.6L440.0,86.9L438.0,88.2L436.0,89.6L434.0,90.9L432.0,92.1L430.0,93.4L428.0,94.6L426.0,95.8L424.0,96.9L422.0,98.1L420.0,99.3L418.0,100.4L416.0,101.6L414.0,102.8L412.0,104.0L410.0,105.2L408.0,106.4L406.0,107.6L404.0,108.8L402.0,110.0L400.0,111.1L398.0,112.3L396.0,113.5L394.0,114.7L392.0,115.9L390.0,117.0L388.0,118.0L386.0,118.9L384.0,119.7L382.0,120.4L380.0,121.2L378.0,122.0L376.0,122.9L374.0,123.8L372.0,124.8L370.0,125.9L368.0,127.0L366.0,128.2L364.0,129.4L362.0,130.5L360.0,131.5L358.0,132.6L356.0,133.5L354.0,134.5Z" fill="#fcb094"/>
<path d="M356.0,131.6L358.0,129.8L360.0,128.2L362.0,126.6L364.0,125.0L366.0,123.4L368.0,121.9L370.0,120.3L372.0,118.8L374.0,117.3L376.0,115.8L378.0,114.3L380.0,112.8L382.0,111.3L384.0,109.8L386.0,108.4L388.0,106.9L390.0,105.4L392.0,104.0L394.0,102.5L396.0,101.1L398.0,99.7L400.0,98.2L402.0,96.8L404.0,95.4L406.0,94.0L408.0,92.6L410.0,91.2L412.0,89.8L414.0,88.4L416.0,87.1L418.0,85.7L420.0,84.3L422.0,83.0L424.0,81.6L426.0,80.3L428.0,78.9L430.0,77.6L432.0,76.3L434.0,75.0L436.0,73.7L438.0,72.4L440.0,71.1L442.0,69.8L444.0,68.5L446.0,67.2L448.0,65.9L450.0,64.6L452.0,63.4L454.0,62.1L456.0,60.9L458.0,59.6L460.0,58.4L462.0,57.2L464.0,55.9L466.0,54.7L468.0,53.5L470.0,52.3L472.0,51.1L474.0,49.9L476.0,48.7L478.0,47.5L480.0,46.3L482.0,45.2L484.0,44.0L486.0,42.8L488.0,41.7L490.0,40.6L492.0,39.4L494.0,38.3L496.0,37.2L498.0,36.0L500.0,34.9L502.0,33.8L504.0,32.7L506.0,31.7L508.0,30.6L510.0,29.5L512.0,28.4L514.0,27.4L516.0,26.3L518.0,25.3L520.0,24.2L522.0,23.2L524.0,22.1L526.0,21.1L528.0,20.1L530.0,19.1L532.0,18.1L534.0,17.1L536.0,16.1L538.0,15.1L540.0,14.2L542.0,13.2L544.0,12.3L546.0,11.4L548.0,10.5L550.0,9.7L552.0,9.0L552.0,10.9L550.0,12.5L548.0,14.0L546.0,15.5L544.0,16.9L542.0,18.3L540.0,19.7L538.0,21.0L536.0,22.2L534.0,23.5L532.0,24.8L530.0,26.1L528.0,27.5L526.0,28.9L524.0,30.3L522.0,31.8L520.0,33.4L518.0,34.9L516.0,36.5L514.0,38.0L512.0,39.7L510.0,41.4L508.0,43.2L506.0,44.8L504.0,46.4L502.0,47.9L500.0,49.2L498.0,50.4L496.0,51.7L494.0,52.9L492.0,54.0L490.0,55.2L488.0,56.3L486.0,57.4L484.0,58.6L482.0,59.8L480.0,61.0L478.0,62.2L476.0,63.5L474.0,64.7L472.0,65.9L470.0,67.2L468.0,68.4L466.0,69.7L464.0,71.0L462.0,72.2L460.0,73.5L458.0,74.8L456.0,76.1L454.0,77.4L452.0,78.7L450.0,80.1L448.0,81.4L446.0,82.7L444.0,84.1L442.0,85.4L440.0,86.7L438.0,88.1L436.0,89.4L434.0,90.7L432.0,92.0L430.0,93.2L428.0,94.4L426.0,95.6L424.0,96.8L422.0,97.9L420.0,99.1L418.0,100.3L416.0,101.4L414.0,102.6L412.0,103.8L410.0,105.0L408.0,106.2L406.0,107.4L404.0,108.6L402.0,109.8L400.0,110.9L398.0,112.1L396.0,113.3L394.0,114.4L392.0,115.6L390.0,116.6L388.0,117.5L386.0,118.3L384.0,119.1L382.0,119.9L380.0,120.8L378.0,121.6L376.0,122.5L374.0,123.4L372.0,124.4L370.0,125.5L368.0,126.7L366.0,127.9L364.0,129.0L362.0,130.1L360.0,131.2L358.0,132.2L356.0,133.2Z" fill="#fcaa8e"/>
<path d="M356.0,132.1L358.0,130.0L360.0,128.3L362.0,126.7L364.0,125.1L366.0,123.5L368.0,121.9L370.0,120.4L372.0,118.9L374.0,117.3L376.0,115.8L378.0,114.3L380.0,112.8L382.0,111.3L384.0,109.9L386.0,108.4L388.0,106.9L390.0,105.5L392.0,104.0L394.0,102.6L396.0,101.1L398.0,99.7L400.0,98.3L402.0,96.8L404.0,95.4L406.0,94.0L408.0,92.6L410.0,91.2L412.0,89.8L414.0,88.5L416.0,87.1L418.0,85.7L420.0,84.4L422.0,83.0L424.0,81.7L426.0,80.3L428.0,79.0L430.0,77.6L432.0,76.3L434.0,75.0L436.0,73.7L438.0,72.4L440.0,71.1L442.0,69.8L444.0,68.5L446.0,67.2L448.0,65.9L450.0,64.7L452.0,63.4L454.0,62.1L456.0,60.9L458.0,59.7L460.0,58.4L462.0,57.2L464.0,56.0L466.0,54.7L468.0,53.5L470.0,52.3L472.0,51.1L474.0,49.9L476.0,48.7L478.0,47.5L480.0,46.4L482.0,45.2L484.0,44.0L486.0,42.9L488.0,41.7L490.0,40.6L492.0,39.4L494.0,38.3L496.0,37.2L498.0,36.1L500.0,35.0L502.0,33.9L504.0,32.8L506.0,31.7L508.0,30.6L510.0,29.5L512.0,28.5L514.0,27.4L516.0,26.4L518.0,25.3L520.0,24.3L522.0,23.2L524.0,22.2L526.0,21.2L528.0,20.2L530.0,19.1L532.0,18.1L534.0,17.2L536.0,16.2L538.0,15.2L540.0,14.2L542.0,13.3L544.0,12.4L546.0,11.5L548.0,10.7L550.0,9.9L550.0,12.0L548.0,13.6L546.0,15.0L544.0,16.5L542.0,17.9L540.0,19.2L538.0,20.5L536.0,21.8L534.0,23.1L532.0,24.4L530.0,25.7L528.0,27.0L526.0,28.4L524.0,29.9L522.0,31.4L520.0,32.9L518.0,34.4L516.0,35.9L514.0,37.5L512.0,39.1L510.0,40.8L508.0,42.5L506.0,44.2L504.0,45.9L502.0,47.4L500.0,48.9L498.0,50.2L496.0,51.4L494.0,52.6L492.0,53.8L490.0,55.0L488.0,56.1L486.0,57.2L484.0,58.4L482.0,59.6L480.0,60.8L478.0,62.1L476.0,63.3L474.0,64.5L472.0,65.8L470.0,67.0L468.0,68.3L466.0,69.5L464.0,70.8L462.0,72.1L460.0,73.3L458.0,74.6L456.0,75.9L454.0,77.2L452.0,78.6L450.0,79.9L448.0,81.2L446.0,82.6L444.0,83.9L442.0,85.2L440.0,86.6L438.0,87.9L436.0,89.2L434.0,90.5L432.0,91.8L430.0,93.0L428.0,94.3L426.0,95.4L424.0,96.6L422.0,97.8L420.0,98.9L418.0,100.1L416.0,101.3L414.0,102.5L412.0,103.6L410.0,104.8L408.0,106.0L406.0,107.2L404.0,108.4L402.0,109.6L400.0,110.7L398.0,111.9L396.0,113.0L394.0,114.1L392.0,115.2L390.0,116.1L388.0,117.0L386.0,117.8L384.0,118.6L382.0,119.5L380.0,120.4L378.0,121.2L376.0,122.1L374.0,123.1L372.0,124.1L370.0,125.2L368.0,126.4L366.0,127.5L364.0,128.7L362.0,129.8L360.0,130.8L358.0,131.8L356.0,132.8Z" fill="#fca587"/>
<path d="M358.0,130.3L360.0,128.4L362.0,126.8L364.0,125.1L366.0,123.6L368.0,122.0L370.0,120.4L372.0,118.9L374.0,117.4L376.0,115.9L378.0,114.4L380.0,112.9L382.0,111.4L384.0,109.9L386.0,108.4L388.0,107.0L390.0,105.5L392.0,104.0L394.0,102.6L396.0,101.1L398.0,99.7L400.0,98.3L402.0,96.9L404.0,95.5L406.0,94.0L408.0,92.6L410.0,91.3L412.0,89.9L414.0,88.5L416.0,87.1L418.0,85.7L420.0,84.4L422.0,83.0L424.0,81.7L426.0,80.3L428.0,79.0L430.0,77.7L432.0,76.3L434.0,75.0L436.0,73.7L438.0,72.4L440.0,71.1L442.0,69.8L444.0,68.5L446.0,67.2L448.0,66.0L450.0,64.7L452.0,63.4L454.0,62.2L456.0,60.9L458.0,59.7L460.0,58.4L462.0,57.2L464.0,56.0L466.0,54.8L468.0,53.5L470.0,52.3L472.0,51.1L474.0,49.9L476.0,48.8L478.0,47.6L480.0,46.4L482.0,45.2L484.0,44.1L486.0,42.9L488.0,41.8L490.0,40.6L492.0,39.5L494.0,38.3L496.0,37.2L498.0,36.1L500.0,35.0L502.0,33.9L504.0,32.8L506.0,31.7L508.0,30.7L510.0,29.6L512.0,28.5L514.0,27.5L516.0,26.4L518.0,25.4L520.0,24.3L522.0,23.3L524.0,22.3L526.0,21.2L528.0,20.2L530.0,19.2L532.0,18.2L534.0,17.2L536.0,16.3L538.0,15.3L540.0,14.4L542.0,13.4L544.0,12.5L546.0,11.7L548.0,10.9L550.0,10.5L550.0,11.6L548.0,13.1L546.0,14.6L544.0,16.0L542.0,17.4L540.0,18.8L538.0,20.1L536.0,21.4L534.0,22.7L532.0,24.0L530.0,25.3L528.0,26.6L526.0,28.0L524.0,29.4L522.0,30.9L520.0,32.4L518.0,33.9L516.0,35.4L514.0,37.0L512.0,38.6L510.0,40.2L508.0,41.8L506.0,43.6L504.0,45.3L502.0,46.9L500.0,48.5L498.0,49.8L496.0,51.1L494.0,52.4L492.0,53.6L490.0,54.7L488.0,55.9L486.0,57.0L484.0,58.2L482.0,59.4L480.0,60.6L478.0,61.9L476.0,63.1L474.0,64.3L472.0,65.6L470.0,66.8L468.0,68.1L466.0,69.3L464.0,70.6L462.0,71.9L460.0,73.2L458.0,74.5L456.0,75.8L454.0,77.1L452.0,78.4L450.0,79.7L448.0,81.1L446.0,82.4L444.0,83.7L442.0,85.1L440.0,86.4L438.0,87.7L436.0,89.1L434.0,90.4L432.0,91.6L430.0,92.9L428.0,94.1L426.0,95.3L424.0,96.4L422.0,97.6L420.0,98.8L418.0,99.9L416.0,101.1L414.0,102.3L412.0,103.5L410.0,104.7L408.0,105.9L406.0,107.0L404.0,108.2L402.0,109.3L400.0,110.5L398.0,111.6L396.0,112.7L394.0,113.8L392.0,114.7L390.0,115.6L388.0,116.4L386.0,117.3L384.0,118.2L382.0,119.1L380.0,120.0L378.0,120.9L376.0,121.8L374.0,122.8L372.0,123.8L370.0,124.9L368.0,126.1L366.0,127.2L364.0,128.3L362.0,129.4L360.0,130.5L358.0,131.5Z" fill="#fc9f81"/>
<path d="M360.0,128.6L362.0,126.9L364.0,125.2L366.0,123.6L368.0,122.1L370.0,120.5L372.0,119.0L374.0,117.4L376.0,115.9L378.0,114.4L380.0,112.9L382.0,111.4L384.0,109.9L386.0,108.5L388.0,107.0L390.0,105.5L392.0,104.1L394.0,102.6L396.0,101.2L398.0,99.7L400.0,98.3L402.0,96.9L404.0,95.5L406.0,94.1L408.0,92.7L410.0,91.3L412.0,89.9L414.0,88.5L416.0,87.1L418.0,85.8L420.0,84.4L422.0,83.1L424.0,81.7L426.0,80.4L428.0,79.0L430.0,77.7L432.0,76.4L434.0,75.0L436.0,73.7L438.0,72.4L440.0,71.1L442.0,69.8L444.0,68.5L446.0,67.3L448.0,66.0L450.0,64.7L452.0,63.5L454.0,62.2L456.0,60.9L458.0,59.7L460.0,58.5L462.0,57.2L464.0,56.0L466.0,54.8L468.0,53.6L470.0,52.4L472.0,51.2L474.0,50.0L476.0,48.8L478.0,47.6L480.0,46.4L482.0,45.3L484.0,44.1L486.0,42.9L488.0,41.8L490.0,40.6L492.0,39.5L494.0,38.4L496.0,37.3L498.0,36.1L500.0,35.0L502.0,33.9L504.0,32.9L506.0,31.8L508.0,30.7L510.0,29.6L512.0,28.6L514.0,27.5L516.0,26.5L518.0,25.4L520.0,24.4L522.0,23.4L524.0,22.3L526.0,21.3L528.0,20.3L530.0,19.3L532.0,18.3L534.0,17.3L536.0,16.4L538.0,15.4L540.0,14.5L542.0,13.6L544.0,12.7L546.0,11.9L548.0,11.3L548.0,12.7L546.0,14.2L544.0,15.6L542.0,17.0L540.0,18.4L538.0,19.7L536.0,21.0L534.0,22.3L532.0,23.6L530.0,24.9L528.0,26.3L526.0,27.6L524.0,29.0L522.0,30.5L520.0,31.9L518.0,33.4L516.0,35.0L514.0,36.5L512.0,38.1L510.0,39.6L508.0,41.2L506.0,42.9L504.0,44.7L502.0,46.4L500.0,48.0L498.0,49.5L496.0,50.8L494.0,52.1L492.0,53.3L490.0,54.5L488.0,55.6L486.0,56.8L484.0,58.0L482.0,59.2L480.0,60.5L478.0,61.7L476.0,62.9L474.0,64.2L472.0,65.4L470.0,66.7L468.0,67.9L466.0,69.2L464.0,70.4L462.0,71.7L460.0,73.0L458.0,74.3L456.0,75.6L454.0,76.9L452.0,78.2L450.0,79.6L448.0,80.9L446.0,82.2L444.0,83.6L442.0,84.9L440.0,86.2L438.0,87.6L436.0,88.9L434.0,90.2L432.0,91.5L430.0,92.7L428.0,93.9L426.0,95.1L424.0,96.3L422.0,97.4L420.0,98.6L418.0,99.8L416.0,100.9L414.0,102.1L412.0,103.3L410.0,104.5L408.0,105.7L406.0,106.8L404.0,108.0L402.0,109.1L400.0,110.2L398.0,111.3L396.0,112.4L394.0,113.3L392.0,114.2L390.0,115.1L388.0,115.9L386.0,116.8L384.0,117.8L382.0,118.7L380.0,119.6L378.0,120.5L376.0,121.5L374.0,122.5L372.0,123.5L370.0,124.6L368.0,125.8L366.0,126.9L364.0,128.0L362.0,129.1L360.0,130.2Z" fill="#fc9a7b"/>
<path d="M360.0,129.0L362.0,127.0L364.0,125.3L366.0,123.7L368.0,122.1L370.0,120.6L372.0,119.0L374.0,117.5L376.0,116.0L378.0,114.5L380.0,113.0L382.0,111.5L384.0,110.0L386.0,108.5L388.0,107.0L390.0,105.6L392.0,104.1L394.0,102.7L396.0,101.2L398.0,99.8L400.0,98.3L402.0,96.9L404.0,95.5L406.0,94.1L408.0,92.7L410.0,91.3L412.0,89.9L414.0,88.5L416.0,87.2L418.0,85.8L420.0,84.4L422.0,83.1L424.0,81.7L426.0,80.4L428.0,79.0L430.0,77.7L432.0,76.4L434.0,75.1L436.0,73.8L438.0,72.5L440.0,71.2L442.0,69.9L444.0,68.6L446.0,67.3L448.0,66.0L450.0,64.7L452.0,63.5L454.0,62.2L456.0,61.0L458.0,59.7L460.0,58.5L462.0,57.3L464.0,56.0L466.0,54.8L468.0,53.6L470.0,52.4L472.0,51.2L474.0,50.0L476.0,48.8L478.0,47.6L480.0,46.5L482.0,45.3L484.0,44.1L486.0,43.0L488.0,41.8L490.0,40.7L492.0,39.5L494.0,38.4L496.0,37.3L498.0,36.2L500.0,35.1L502.0,34.0L504.0,32.9L506.0,31.8L508.0,30.7L510.0,29.7L512.0,28.6L514.0,27.6L516.0,26.5L518.0,25.5L520.0,24.4L522.0,23.4L524.0,22.4L526.0,21.4L528.0,20.4L530.0,19.4L532.0,18.4L534.0,17.4L536.0,16.5L538.0,15.5L540.0,14.6L542.0,13.7L544.0,12.9L546.0,12.3L546.0,13.8L544.0,15.2L542.0,16.6L540.0,18.0L538.0,19.3L536.0,20.6L534.0,21.9L532.0,23.2L530.0,24.5L528.0,25.9L526.0,27.3L524.0,28.7L522.0,30.1L520.0,31.5L518.0,33.0L516.0,34.5L514.0,36.0L512.0,37.6L510.0,39.1L508.0,40.7L506.0,42.3L504.0,44.0L502.0,45.7L500.0,47.4L498.0,49.0L496.0,50.4L494.0,51.8L492.0,53.0L490.0,54.2L488.0,55.4L486.0,56.6L484.0,57.8L482.0,59.0L480.0,60.2L478.0,61.5L476.0,62.7L474.0,64.0L472.0,65.2L470.0,66.5L468.0,67.7L466.0,69.0L464.0,70.3L462.0,71.6L460.0,72.8L458.0,74.1L456.0,75.4L454.0,76.7L452.0,78.1L450.0,79.4L448.0,80.7L446.0,82.1L444.0,83.4L442.0,84.7L440.0,86.1L438.0,87.4L436.0,88.7L434.0,90.0L432.0,91.3L430.0,92.5L428.0,93.7L426.0,94.9L424.0,96.1L422.0,97.3L420.0,98.4L418.0,99.6L416.0,100.8L414.0,101.9L412.0,103.1L410.0,104.3L408.0,105.5L406.0,106.6L404.0,107.7L402.0,108.9L400.0,109.9L398.0,111.0L396.0,111.9L394.0,112.8L392.0,113.7L390.0,114.6L388.0,115.5L386.0,116.4L384.0,117.4L382.0,118.3L380.0,119.2L378.0,120.2L376.0,121.1L374.0,122.2L372.0,123.2L370.0,124.3L368.0,125.5L366.0,126.6L364.0,127.7L362.0,128.8L360.0,129.9Z" fill="#fc9474"/>
<path d="M362.0,127.3L364.0,125.5L366.0,123.8L368.0,122.2L370.0,120.6L372.0,119.1L374.0,117.5L376.0,116.0L378.0,114.5L380.0,113.0L382.0,111.5L384.0,110.0L386.0,108.5L388.0,107.1L390.0,105.6L392.0,104.1L394.0,102.7L396.0,101.2L398.0,99.8L400.0,98.4L402.0,97.0L404.0,95.5L406.0,94.1L408.0,92.7L410.0,91.3L412.0,89.9L414.0,88.6L416.0,87.2L418.0,85.8L420.0,84.5L422.0,83.1L424.0,81.8L426.0,80.4L428.0,79.1L430.0,77.7L432.0,76.4L434.0,75.1L436.0,73.8L438.0,72.5L440.0,71.2L442.0,69.9L444.0,68.6L446.0,67.3L448.0,66.0L450.0,64.8L452.0,63.5L454.0,62.2L456.0,61.0L458.0,59.8L460.0,58.5L462.0,57.3L464.0,56.1L466.0,54.8L468.0,53.6L470.0,52.4L472.0,51.2L474.0,50.0L476.0,48.8L478.0,47.7L480.0,46.5L482.0,45.3L484.0,44.2L486.0,43.0L488.0,41.8L490.0,40.7L492.0,39.6L494.0,38.4L496.0,37.3L498.0,36.2L500.0,35.1L502.0,34.0L504.0,32.9L506.0,31.9L508.0,30.8L510.0,29.7L512.0,28.7L514.0,27.6L516.0,26.6L518.0,25.5L520.0,24.5L522.0,23.5L524.0,22.5L526.0,21.5L528.0,20.5L530.0,19.5L532.0,18.5L534.0,17.5L536.0,16.6L538.0,15.7L540.0,14.8L542.0,14.0L544.0,13.3L544.0,14.9L542.0,16.3L540.0,17.6L538.0,18.9L536.0,20.2L534.0,21.5L532.0,22.8L530.0,24.2L528.0,25.5L526.0,26.9L524.0,28.3L522.0,29.7L520.0,31.1L518.0,32.6L516.0,34.1L514.0,35.6L512.0,37.1L510.0,38.7L508.0,40.2L506.0,41.8L504.0,43.4L502.0,45.1L500.0,46.8L498.0,48.4L496.0,50.0L494.0,51.4L492.0,52.7L490.0,53.9L488.0,55.1L486.0,56.3L484.0,57.5L482.0,58.8L480.0,60.0L478.0,61.3L476.0,62.5L474.0,63.8L472.0,65.0L470.0,66.3L468.0,67.6L466.0,68.8L464.0,70.1L462.0,71.4L460.0,72.7L458.0,74.0L456.0,75.3L454.0,76.6L452.0,77.9L450.0,79.2L448.0,80.6L446.0,81.9L444.0,83.2L442.0,84.6L440.0,85.9L438.0,87.2L436.0,88.6L434.0,89.9L432.0,91.1L430.0,92.4L428.0,93.6L426.0,94.8L424.0,95.9L422.0,97.1L420.0,98.3L418.0,99.4L416.0,100.6L414.0,101.8L412.0,102.9L410.0,104.1L408.0,105.2L406.0,106.4L404.0,107.5L402.0,108.6L400.0,109.6L398.0,110.5L396.0,111.4L394.0,112.3L392.0,113.2L390.0,114.1L388.0,115.0L386.0,116.0L384.0,117.0L382.0,117.9L380.0,118.9L378.0,119.9L376.0,120.9L374.0,121.9L372.0,123.0L370.0,124.1L368.0,125.2L366.0,126.3L364.0,127.5L362.0,128.6Z" fill="#fc8f6f"/>
<path d="M364.0,125.7L366.0,124.0L368.0,122.3L370.0,120.7L372.0,119.1L374.0,117.6L376.0,116.1L378.0,114.6L380.0,113.0L382.0,111.5L384.0,110.1L386.0,108.6L388.0,107.1L390.0,105.6L392.0,104.2L394.0,102.7L396.0,101.3L398.0,99.8L400.0,98.4L402.0,97.0L404.0,95.6L406.0,94.2L408.0,92.8L410.0,91.4L412.0,90.0L414.0,88.6L416.0,87.2L418.0,85.8L420.0,84.5L422.0,83.1L424.0,81.8L426.0,80.4L428.0,79.1L430.0,77.8L432.0,76.4L434.0,75.1L436.0,73.8L438.0,72.5L440.0,71.2L442.0,69.9L444.0,68.6L446.0,67.3L448.0,66.1L450.0,64.8L452.0,63.5L454.0,62.3L456.0,61.0L458.0,59.8L460.0,58.5L462.0,57.3L464.0,56.1L466.0,54.9L468.0,53.7L470.0,52.4L472.0,51.2L474.0,50.1L476.0,48.9L478.0,47.7L480.0,46.5L482.0,45.3L484.0,44.2L486.0,43.0L488.0,41.9L490.0,40.7L492.0,39.6L494.0,38.5L496.0,37.4L498.0,36.3L500.0,35.2L502.0,34.1L504.0,33.0L506.0,31.9L508.0,30.8L510.0,29.8L512.0,28.7L514.0,27.7L516.0,26.7L518.0,25.6L520.0,24.6L522.0,23.6L524.0,22.5L526.0,21.5L528.0,20.5L530.0,19.6L532.0,18.6L534.0,17.7L536.0,16.7L538.0,15.8L540.0,15.0L542.0,14.3L542.0,15.9L540.0,17.3L538.0,18.6L536.0,19.9L534.0,21.2L532.0,22.5L530.0,23.8L528.0,25.2L526.0,26.5L524.0,27.9L522.0,29.3L520.0,30.8L518.0,32.2L516.0,33.6L514.0,35.1L512.0,36.6L510.0,38.2L508.0,39.7L506.0,41.3L504.0,42.9L502.0,44.5L500.0,46.2L498.0,47.8L496.0,49.4L494.0,50.9L492.0,52.3L490.0,53.6L488.0,54.8L486.0,56.0L484.0,57.3L482.0,58.5L480.0,59.8L478.0,61.0L476.0,62.3L474.0,63.6L472.0,64.8L470.0,66.1L468.0,67.4L466.0,68.6L464.0,69.9L462.0,71.2L460.0,72.5L458.0,73.8L456.0,75.1L454.0,76.4L452.0,77.7L450.0,79.1L448.0,80.4L446.0,81.7L444.0,83.1L442.0,84.4L440.0,85.7L438.0,87.1L436.0,88.4L434.0,89.7L432.0,91.0L430.0,92.2L428.0,93.4L426.0,94.6L424.0,95.8L422.0,96.9L420.0,98.1L418.0,99.3L416.0,100.4L414.0,101.6L412.0,102.7L410.0,103.9L408.0,105.0L406.0,106.1L404.0,107.2L402.0,108.2L400.0,109.1L398.0,110.0L396.0,110.9L394.0,111.8L392.0,112.7L390.0,113.7L388.0,114.6L386.0,115.6L384.0,116.6L382.0,117.6L380.0,118.6L378.0,119.6L376.0,120.6L374.0,121.6L372.0,122.7L370.0,123.8L368.0,124.9L366.0,126.1L364.0,127.2Z" fill="#fc8969"/>
<path d="M364.0,126.2L366.0,124.1L368.0,122.4L370.0,120.8L372.0,119.2L374.0,117.7L376.0,116.1L378.0,114.6L380.0,113.1L382.0,111.6L384.0,110.1L386.0,108.6L388.0,107.1L390.0,105.7L392.0,104.2L394.0,102.8L396.0,101.3L398.0,99.9L400.0,98.4L402.0,97.0L404.0,95.6L406.0,94.2L408.0,92.8L410.0,91.4L412.0,90.0L414.0,88.6L416.0,87.2L418.0,85.9L420.0,84.5L422.0,83.2L424.0,81.8L426.0,80.5L428.0,79.1L430.0,77.8L432.0,76.5L434.0,75.2L436.0,73.8L438.0,72.5L440.0,71.2L442.0,69.9L444.0,68.7L446.0,67.4L448.0,66.1L450.0,64.8L452.0,63.6L454.0,62.3L456.0,61.1L458.0,59.8L460.0,58.6L462.0,57.3L464.0,56.1L466.0,54.9L468.0,53.7L470.0,52.5L472.0,51.3L474.0,50.1L476.0,48.9L478.0,47.7L480.0,46.5L482.0,45.4L484.0,44.2L486.0,43.1L488.0,41.9L490.0,40.8L492.0,39.6L494.0,38.5L496.0,37.4L498.0,36.3L500.0,35.2L502.0,34.1L504.0,33.0L506.0,32.0L508.0,30.9L510.0,29.8L512.0,28.8L514.0,27.8L516.0,26.7L518.0,25.7L520.0,24.7L522.0,23.6L524.0,22.6L526.0,21.6L528.0,20.6L530.0,19.7L532.0,18.7L534.0,17.8L536.0,16.9L538.0,16.1L540.0,15.4L540.0,16.9L538.0,18.3L536.0,19.6L534.0,20.9L532.0,22.2L530.0,23.5L528.0,24.8L526.0,26.2L524.0,27.6L522.0,29.0L520.0,30.4L518.0,31.8L516.0,33.3L514.0,34.7L512.0,36.2L510.0,37.7L508.0,39.3L506.0,40.8L504.0,42.4L502.0,44.0L500.0,45.6L498.0,47.2L496.0,48.8L494.0,50.3L492.0,51.8L490.0,53.1L488.0,54.4L486.0,55.7L484.0,57.0L482.0,58.2L480.0,59.5L478.0,60.8L476.0,62.1L474.0,63.3L472.0,64.6L470.0,65.9L468.0,67.2L466.0,68.4L464.0,69.7L462.0,71.0L460.0,72.3L458.0,73.6L456.0,74.9L454.0,76.2L452.0,77.6L450.0,78.9L448.0,80.2L446.0,81.6L444.0,82.9L442.0,84.2L440.0,85.6L438.0,86.9L436.0,88.2L434.0,89.5L432.0,90.8L430.0,92.0L428.0,93.2L426.0,94.4L424.0,95.6L422.0,96.8L420.0,97.9L418.0,99.1L416.0,100.2L414.0,101.4L412.0,102.5L410.0,103.6L408.0,104.8L406.0,105.8L404.0,106.8L402.0,107.8L400.0,108.6L398.0,109.5L396.0,110.4L394.0,111.3L392.0,112.3L390.0,113.3L388.0,114.3L386.0,115.3L384.0,116.3L382.0,117.3L380.0,118.3L378.0,119.3L376.0,120.3L374.0,121.3L372.0,122.4L370.0,123.6L368.0,124.7L366.0,125.8L364.0,127.0Z" fill="#fc8464"/>
<path d="M366.0,124.4L368.0,122.6L370.0,120.9L372.0,119.3L374.0,117.7L376.0,116.2L378.0,114.7L380.0,113.1L382.0,111.6L384.0,110.1L386.0,108.7L388.0,107.2L390.0,105.7L392.0,104.2L394.0,102.8L396.0,101.3L398.0,99.9L400.0,98.5L402.0,97.1L404.0,95.6L406.0,94.2L408.0,92.8L410.0,91.4L412.0,90.0L414.0,88.6L416.0,87.3L418.0,85.9L420.0,84.5L422.0,83.2L424.0,81.8L426.0,80.5L428.0,79.2L430.0,77.8L432.0,76.5L434.0,75.2L436.0,73.9L438.0,72.6L440.0,71.3L442.0,70.0L444.0,68.7L446.0,67.4L448.0,66.1L450.0,64.9L452.0,63.6L454.0,62.3L456.0,61.1L458.0,59.8L460.0,58.6L462.0,57.4L464.0,56.1L466.0,54.9L468.0,53.7L470.0,52.5L472.0,51.3L474.0,50.1L476.0,48.9L478.0,47.7L480.0,46.6L482.0,45.4L484.0,44.2L486.0,43.1L488.0,42.0L490.0,40.8L492.0,39.7L494.0,38.6L496.0,37.4L498.0,36.3L500.0,35.2L502.0,34.2L504.0,33.1L506.0,32.0L508.0,30.9L510.0,29.9L512.0,28.9L514.0,27.8L516.0,26.8L518.0,25.8L520.0,24.7L522.0,23.7L524.0,22.7L526.0,21.7L528.0,20.8L530.0,19.8L532.0,18.9L534.0,18.0L536.0,17.2L538.0,16.5L538.0,18.0L536.0,19.3L534.0,20.6L532.0,21.9L530.0,23.2L528.0,24.5L526.0,25.9L524.0,27.2L522.0,28.6L520.0,30.0L518.0,31.5L516.0,32.9L514.0,34.3L512.0,35.8L510.0,37.3L508.0,38.8L506.0,40.4L504.0,41.9L502.0,43.5L500.0,45.0L498.0,46.6L496.0,48.2L494.0,49.8L492.0,51.2L490.0,52.6L488.0,53.9L486.0,55.3L484.0,56.6L482.0,57.9L480.0,59.2L478.0,60.5L476.0,61.8L474.0,63.1L472.0,64.4L470.0,65.7L468.0,66.9L466.0,68.2L464.0,69.5L462.0,70.8L460.0,72.1L458.0,73.4L456.0,74.7L454.0,76.0L452.0,77.4L450.0,78.7L448.0,80.0L446.0,81.4L444.0,82.7L442.0,84.1L440.0,85.4L438.0,86.7L436.0,88.0L434.0,89.3L432.0,90.6L430.0,91.8L428.0,93.1L426.0,94.2L424.0,95.4L422.0,96.6L420.0,97.7L418.0,98.9L416.0,100.0L414.0,101.1L412.0,102.3L410.0,103.4L408.0,104.5L406.0,105.5L404.0,106.4L402.0,107.3L400.0,108.1L398.0,109.0L396.0,109.9L394.0,110.9L392.0,111.9L390.0,112.9L388.0,113.9L386.0,114.9L384.0,115.9L382.0,116.9L380.0,118.0L378.0,119.0L376.0,120.0L374.0,121.1L372.0,122.2L370.0,123.3L368.0,124.5L366.0,125.6Z" fill="#fc7f5f"/>
<path d="M368.0,122.8L370.0,121.1L372.0,119.4L374.0,117.8L376.0,116.3L378.0,114.7L380.0,113.2L382.0,111.7L384.0,110.2L386.0,108.7L388.0,107.2L390.0,105.8L392.0,104.3L394.0,102.8L396.0,101.4L398.0,99.9L400.0,98.5L402.0,97.1L404.0,95.7L406.0,94.3L408.0,92.9L410.0,91.5L412.0,90.1L414.0,88.7L416.0,87.3L418.0,85.9L420.0,84.6L422.0,83.2L424.0,81.9L426.0,80.5L428.0,79.2L430.0,77.9L432.0,76.5L434.0,75.2L436.0,73.9L438.0,72.6L440.0,71.3L442.0,70.0L444.0,68.7L446.0,67.4L448.0,66.1L450.0,64.9L452.0,63.6L454.0,62.4L456.0,61.1L458.0,59.9L460.0,58.6L462.0,57.4L464.0,56.2L466.0,55.0L468.0,53.7L470.0,52.5L472.0,51.3L474.0,50.1L476.0,49.0L478.0,47.8L480.0,46.6L482.0,45.4L484.0,44.3L486.0,43.1L488.0,42.0L490.0,40.9L492.0,39.7L494.0,38.6L496.0,37.5L498.0,36.4L500.0,35.3L502.0,34.2L504.0,33.1L506.0,32.1L508.0,31.0L510.0,30.0L512.0,28.9L514.0,27.9L516.0,26.9L518.0,25.8L520.0,24.8L522.0,23.8L524.0,22.8L526.0,21.9L528.0,20.9L530.0,20.0L532.0,19.1L534.0,18.3L536.0,17.7L536.0,19.0L534.0,20.3L532.0,21.6L530.0,22.9L528.0,24.2L526.0,25.5L524.0,26.9L522.0,28.3L520.0,29.7L518.0,31.1L516.0,32.5L514.0,34.0L512.0,35.4L510.0,36.9L508.0,38.4L506.0,39.9L504.0,41.5L502.0,43.0L500.0,44.6L498.0,46.1L496.0,47.6L494.0,49.2L492.0,50.6L490.0,52.0L488.0,53.4L486.0,54.8L484.0,56.2L482.0,57.5L480.0,58.9L478.0,60.2L476.0,61.5L474.0,62.8L472.0,64.1L470.0,65.4L468.0,66.7L466.0,68.0L464.0,69.3L462.0,70.6L460.0,71.9L458.0,73.2L456.0,74.5L454.0,75.8L452.0,77.2L450.0,78.5L448.0,79.8L446.0,81.2L444.0,82.5L442.0,83.9L440.0,85.2L438.0,86.5L436.0,87.9L434.0,89.2L432.0,90.4L430.0,91.7L428.0,92.9L426.0,94.1L424.0,95.2L422.0,96.4L420.0,97.5L418.0,98.6L416.0,99.8L414.0,100.9L412.0,102.0L410.0,103.1L408.0,104.1L406.0,105.0L404.0,105.9L402.0,106.7L400.0,107.6L398.0,108.5L396.0,109.5L394.0,110.5L392.0,111.5L390.0,112.5L388.0,113.5L386.0,114.6L384.0,115.6L382.0,116.7L380.0,117.7L378.0,118.7L376.0,119.8L374.0,120.8L372.0,122.0L370.0,123.1L368.0,124.2Z" fill="#fb7959"/>
<path d="M368.0,123.4L370.0,121.2L372.0,119.5L374.0,117.9L376.0,116.3L378.0,114.8L380.0,113.3L382.0,111.8L384.0,110.3L386.0,108.8L388.0,107.3L390.0,105.8L392.0,104.3L394.0,102.9L396.0,101.4L398.0,100.0L400.0,98.5L402.0,97.1L404.0,95.7L406.0,94.3L408.0,92.9L410.0,91.5L412.0,90.1L414.0,88.7L416.0,87.3L418.0,86.0L420.0,84.6L422.0,83.2L424.0,81.9L426.0,80.5L428.0,79.2L430.0,77.9L432.0,76.6L434.0,75.2L436.0,73.9L438.0,72.6L440.0,71.3L442.0,70.0L444.0,68.7L446.0,67.5L448.0,66.2L450.0,64.9L452.0,63.6L454.0,62.4L456.0,61.1L458.0,59.9L460.0,58.7L462.0,57.4L464.0,56.2L466.0,55.0L468.0,53.8L470.0,52.6L472.0,51.4L474.0,50.2L476.0,49.0L478.0,47.8L480.0,46.6L482.0,45.5L484.0,44.3L486.0,43.2L488.0,42.0L490.0,40.9L492.0,39.8L494.0,38.6L496.0,37.5L498.0,36.4L500.0,35.3L502.0,34.2L504.0,33.2L506.0,32.1L508.0,31.1L510.0,30.0L512.0,29.0L514.0,28.0L516.0,27.0L518.0,25.9L520.0,24.9L522.0,23.9L524.0,23.0L526.0,22.0L528.0,21.1L530.0,20.2L532.0,19.4L534.0,18.9L534.0,20.0L532.0,21.3L530.0,22.6L528.0,23.9L526.0,25.2L524.0,26.6L522.0,28.0L520.0,29.4L518.0,30.8L516.0,32.2L514.0,33.6L512.0,35.1L510.0,36.5L508.0,38.0L506.0,39.5L504.0,41.0L502.0,42.6L500.0,44.1L498.0,45.6L496.0,47.1L494.0,48.6L492.0,50.0L490.0,51.4L488.0,52.8L486.0,54.2L484.0,55.6L482.0,57.1L480.0,58.5L478.0,59.8L476.0,61.2L474.0,62.5L472.0,63.8L470.0,65.1L468.0,66.4L466.0,67.7L464.0,69.1L462.0,70.4L460.0,71.7L458.0,73.0L456.0,74.3L454.0,75.6L452.0,77.0L450.0,78.3L448.0,79.6L446.0,81.0L444.0,82.3L442.0,83.7L440.0,85.0L438.0,86.4L436.0,87.7L434.0,89.0L432.0,90.2L430.0,91.5L428.0,92.7L426.0,93.8L424.0,95.0L422.0,96.1L420.0,97.3L418.0,98.4L416.0,99.5L414.0,100.6L412.0,101.7L410.0,102.7L408.0,103.6L406.0,104.5L404.0,105.4L402.0,106.2L400.0,107.1L398.0,108.1L396.0,109.1L394.0,110.1L392.0,111.1L390.0,112.1L388.0,113.2L386.0,114.2L384.0,115.3L382.0,116.4L380.0,117.4L378.0,118.5L376.0,119.5L374.0,120.6L372.0,121.7L370.0,122.9L368.0,124.1Z" fill="#fb7454"/>
<path d="M370.0,121.6L372.0,119.7L374.0,118.0L376.0,116.4L378.0,114.9L380.0,113.3L382.0,111.8L384.0,110.3L386.0,108.8L388.0,107.3L390.0,105.8L392.0,104.4L394.0,102.9L396.0,101.5L398.0,100.0L400.0,98.6L402.0,97.2L404.0,95.7L406.0,94.3L408.0,92.9L410.0,91.5L412.0,90.1L414.0,88.7L416.0,87.4L418.0,86.0L420.0,84.6L422.0,83.3L424.0,81.9L426.0,80.6L428.0,79.2L430.0,77.9L432.0,76.6L434.0,75.3L436.0,74.0L438.0,72.6L440.0,71.3L442.0,70.1L444.0,68.8L446.0,67.5L448.0,66.2L450.0,64.9L452.0,63.7L454.0,62.4L456.0,61.2L458.0,59.9L460.0,58.7L462.0,57.5L464.0,56.2L466.0,55.0L468.0,53.8L470.0,52.6L472.0,51.4L474.0,50.2L476.0,49.0L478.0,47.8L480.0,46.7L482.0,45.5L484.0,44.4L486.0,43.2L488.0,42.1L490.0,40.9L492.0,39.8L494.0,38.7L496.0,37.6L498.0,36.5L500.0,35.4L502.0,34.3L504.0,33.2L506.0,32.2L508.0,31.1L510.0,30.1L512.0,29.1L514.0,28.1L516.0,27.0L518.0,26.0L520.0,25.0L522.0,24.1L524.0,23.1L526.0,22.2L528.0,21.3L530.0,20.5L532.0,20.1L532.0,21.1L530.0,22.3L528.0,23.6L526.0,25.0L524.0,26.3L522.0,27.7L520.0,29.0L518.0,30.4L516.0,31.8L514.0,33.3L512.0,34.7L510.0,36.2L508.0,37.6L506.0,39.1L504.0,40.6L502.0,42.1L500.0,43.7L498.0,45.2L496.0,46.7L494.0,48.1L492.0,49.5L490.0,50.9L488.0,52.3L486.0,53.7L484.0,55.1L482.0,56.5L480.0,58.0L478.0,59.4L476.0,60.8L474.0,62.1L472.0,63.5L470.0,64.8L468.0,66.2L466.0,67.5L464.0,68.8L462.0,70.1L460.0,71.4L458.0,72.7L456.0,74.1L454.0,75.4L452.0,76.7L450.0,78.1L448.0,79.4L446.0,80.8L444.0,82.1L442.0,83.5L440.0,84.8L438.0,86.1L436.0,87.5L434.0,88.8L432.0,90.0L430.0,91.3L428.0,92.5L426.0,93.6L424.0,94.8L422.0,95.9L420.0,97.0L418.0,98.1L416.0,99.2L414.0,100.3L412.0,101.3L410.0,102.3L408.0,103.2L406.0,104.0L404.0,104.9L402.0,105.7L400.0,106.7L398.0,107.7L396.0,108.7L394.0,109.7L392.0,110.8L390.0,111.8L388.0,112.9L386.0,114.0L384.0,115.0L382.0,116.1L380.0,117.2L378.0,118.2L376.0,119.3L374.0,120.4L372.0,121.5L370.0,122.7Z" fill="#fb6e4e"/>
<path d="M372.0,119.9L374.0,118.2L376.0,116.5L378.0,115.0L380.0,113.4L382.0,111.9L384.0,110.4L386.0,108.9L388.0,107.4L390.0,105.9L392.0,104.4L394.0,103.0L396.0,101.5L398.0,100.1L400.0,98.6L402.0,97.2L404.0,95.8L406.0,94.4L408.0,93.0L410.0,91.5L412.0,90.2L414.0,88.8L416.0,87.4L418.0,86.0L420.0,84.7L422.0,83.3L424.0,82.0L426.0,80.6L428.0,79.3L430.0,77.9L432.0,76.6L434.0,75.3L436.0,74.0L438.0,72.7L440.0,71.4L442.0,70.1L444.0,68.8L446.0,67.5L448.0,66.2L450.0,65.0L452.0,63.7L454.0,62.5L456.0,61.2L458.0,60.0L460.0,58.7L462.0,57.5L464.0,56.3L466.0,55.1L468.0,53.8L470.0,52.6L472.0,51.4L474.0,50.2L476.0,49.1L478.0,47.9L480.0,46.7L482.0,45.5L484.0,44.4L486.0,43.2L488.0,42.1L490.0,41.0L492.0,39.8L494.0,38.7L496.0,37.6L498.0,36.5L500.0,35.4L502.0,34.3L504.0,33.3L506.0,32.2L508.0,31.2L510.0,30.2L512.0,29.1L514.0,28.1L516.0,27.1L518.0,26.2L520.0,25.2L522.0,24.2L524.0,23.3L526.0,22.4L528.0,21.6L528.0,23.4L526.0,24.7L524.0,26.0L522.0,27.4L520.0,28.7L518.0,30.1L516.0,31.5L514.0,32.9L512.0,34.4L510.0,35.8L508.0,37.3L506.0,38.7L504.0,40.2L502.0,41.7L500.0,43.2L498.0,44.7L496.0,46.2L494.0,47.6L492.0,49.0L490.0,50.4L488.0,51.7L486.0,53.1L484.0,54.5L482.0,56.0L480.0,57.4L478.0,58.9L476.0,60.3L474.0,61.7L472.0,63.1L470.0,64.4L468.0,65.8L466.0,67.2L464.0,68.5L462.0,69.8L460.0,71.2L458.0,72.5L456.0,73.8L454.0,75.2L452.0,76.5L450.0,77.9L448.0,79.2L446.0,80.5L444.0,81.9L442.0,83.2L440.0,84.6L438.0,85.9L436.0,87.3L434.0,88.6L432.0,89.8L430.0,91.0L428.0,92.2L426.0,93.4L424.0,94.5L422.0,95.6L420.0,96.8L418.0,97.8L416.0,98.9L414.0,99.9L412.0,100.8L410.0,101.8L408.0,102.6L406.0,103.5L404.0,104.4L402.0,105.3L400.0,106.3L398.0,107.3L396.0,108.3L394.0,109.4L392.0,110.4L390.0,111.5L388.0,112.6L386.0,113.7L384.0,114.8L382.0,115.8L380.0,116.9L378.0,118.0L376.0,119.1L374.0,120.2L372.0,121.3Z" fill="#fb6949"/>
<path d="M374.0,118.4L376.0,116.7L378.0,115.1L380.0,113.5L382.0,112.0L384.0,110.4L386.0,108.9L388.0,107.4L390.0,105.9L392.0,104.5L394.0,103.0L396.0,101.5L398.0,100.1L400.0,98.7L402.0,97.2L404.0,95.8L406.0,94.4L408.0,93.0L410.0,91.6L412.0,90.2L414.0,88.8L416.0,87.4L418.0,86.1L420.0,84.7L422.0,83.3L424.0,82.0L426.0,80.6L428.0,79.3L430.0,78.0L432.0,76.6L434.0,75.3L436.0,74.0L438.0,72.7L440.0,71.4L442.0,70.1L444.0,68.8L446.0,67.5L448.0,66.3L450.0,65.0L452.0,63.7L454.0,62.5L456.0,61.2L458.0,60.0L460.0,58.8L462.0,57.5L464.0,56.3L466.0,55.1L468.0,53.9L470.0,52.7L472.0,51.5L474.0,50.3L476.0,49.1L478.0,47.9L480.0,46.8L482.0,45.6L484.0,44.4L486.0,43.3L488.0,42.1L490.0,41.0L492.0,39.9L494.0,38.8L496.0,37.7L498.0,36.6L500.0,35.5L502.0,34.4L504.0,33.3L506.0,32.3L508.0,31.3L510.0,30.2L512.0,29.2L514.0,28.2L516.0,27.3L518.0,26.3L520.0,25.3L522.0,24.4L524.0,23.5L526.0,22.7L526.0,24.5L524.0,25.8L522.0,27.1L520.0,28.5L518.0,29.8L516.0,31.2L514.0,32.6L512.0,34.1L510.0,35.5L508.0,36.9L506.0,38.4L504.0,39.9L502.0,41.3L500.0,42.8L498.0,44.3L496.0,45.8L494.0,47.2L492.0,48.6L490.0,49.9L488.0,51.2L486.0,52.6L484.0,54.0L482.0,55.4L480.0,56.9L478.0,58.3L476.0,59.7L474.0,61.2L472.0,62.6L470.0,64.0L468.0,65.4L466.0,66.8L464.0,68.1L462.0,69.5L460.0,70.9L458.0,72.2L456.0,73.5L454.0,74.9L452.0,76.2L450.0,77.6L448.0,79.0L446.0,80.3L444.0,81.7L442.0,83.0L440.0,84.4L438.0,85.7L436.0,87.0L434.0,88.3L432.0,89.6L430.0,90.8L428.0,92.0L426.0,93.1L424.0,94.3L422.0,95.4L420.0,96.4L418.0,97.4L416.0,98.4L414.0,99.4L412.0,100.3L410.0,101.2L408.0,102.1L406.0,103.0L404.0,103.9L402.0,104.9L400.0,105.9L398.0,106.9L396.0,108.0L394.0,109.0L392.0,110.1L390.0,111.2L388.0,112.3L386.0,113.4L384.0,114.5L382.0,115.6L380.0,116.7L378.0,117.8L376.0,118.9L374.0,120.0Z" fill="#f96345"/>
<path d="M374.0,118.7L376.0,116.8L378.0,115.2L380.0,113.6L382.0,112.0L384.0,110.5L386.0,109.0L388.0,107.5L390.0,106.0L392.0,104.5L394.0,103.0L396.0,101.6L398.0,100.1L400.0,98.7L402.0,97.3L404.0,95.8L406.0,94.4L408.0,93.0L410.0,91.6L412.0,90.2L414.0,88.8L416.0,87.5L418.0,86.1L420.0,84.7L422.0,83.4L424.0,82.0L426.0,80.7L428.0,79.3L430.0,78.0L432.0,76.7L434.0,75.4L436.0,74.0L438.0,72.7L440.0,71.4L442.0,70.1L444.0,68.9L446.0,67.6L448.0,66.3L450.0,65.0L452.0,63.8L454.0,62.5L456.0,61.3L458.0,60.0L460.0,58.8L462.0,57.6L464.0,56.3L466.0,55.1L468.0,53.9L470.0,52.7L472.0,51.5L474.0,50.3L476.0,49.1L478.0,48.0L480.0,46.8L482.0,45.6L484.0,44.5L486.0,43.3L488.0,42.2L490.0,41.1L492.0,39.9L494.0,38.8L496.0,37.7L498.0,36.6L500.0,35.5L502.0,34.5L504.0,33.4L506.0,32.4L508.0,31.3L510.0,30.3L512.0,29.3L514.0,28.4L516.0,27.4L518.0,26.4L520.0,25.5L522.0,24.6L524.0,23.9L524.0,25.6L522.0,26.9L520.0,28.2L518.0,29.5L516.0,30.9L514.0,32.3L512.0,33.7L510.0,35.2L508.0,36.6L506.0,38.1L504.0,39.5L502.0,41.0L500.0,42.4L498.0,43.9L496.0,45.4L494.0,46.8L492.0,48.1L490.0,49.5L488.0,50.8L486.0,52.1L484.0,53.5L482.0,54.9L480.0,56.3L478.0,57.8L476.0,59.2L474.0,60.6L472.0,62.1L470.0,63.5L468.0,64.9L466.0,66.3L464.0,67.7L462.0,69.1L460.0,70.5L458.0,71.8L456.0,73.2L454.0,74.6L452.0,76.0L450.0,77.3L448.0,78.7L446.0,80.0L444.0,81.4L442.0,82.7L440.0,84.1L438.0,85.4L436.0,86.8L434.0,88.1L432.0,89.3L430.0,90.5L428.0,91.7L426.0,92.8L424.0,93.9L422.0,95.0L420.0,96.0L418.0,97.0L416.0,98.0L414.0,98.9L412.0,99.8L410.0,100.7L408.0,101.6L406.0,102.6L404.0,103.6L402.0,104.5L400.0,105.6L398.0,106.6L396.0,107.6L394.0,108.7L392.0,109.8L390.0,110.9L388.0,112.0L386.0,113.1L384.0,114.2L382.0,115.3L380.0,116.4L378.0,117.5L376.0,118.7L374.0,119.8Z" fill="#f85c41"/>
<path d="M376.0,117.1L378.0,115.3L380.0,113.7L382.0,112.1L384.0,110.6L386.0,109.1L388.0,107.6L390.0,106.1L392.0,104.6L394.0,103.1L396.0,101.6L398.0,100.2L400.0,98.7L402.0,97.3L404.0,95.9L406.0,94.5L408.0,93.1L410.0,91.7L412.0,90.3L414.0,88.9L416.0,87.5L418.0,86.1L420.0,84.8L422.0,83.4L424.0,82.1L426.0,80.7L428.0,79.4L430.0,78.0L432.0,76.7L434.0,75.4L436.0,74.1L438.0,72.8L440.0,71.5L442.0,70.2L444.0,68.9L446.0,67.6L448.0,66.3L450.0,65.1L452.0,63.8L454.0,62.5L456.0,61.3L458.0,60.1L460.0,58.8L462.0,57.6L464.0,56.4L466.0,55.2L468.0,53.9L470.0,52.7L472.0,51.5L474.0,50.4L476.0,49.2L478.0,48.0L480.0,46.8L482.0,45.7L484.0,44.5L486.0,43.4L488.0,42.2L490.0,41.1L492.0,40.0L494.0,38.9L496.0,37.8L498.0,36.7L500.0,35.6L502.0,34.5L504.0,33.5L506.0,32.4L508.0,31.4L510.0,30.4L512.0,29.4L514.0,28.5L516.0,27.5L518.0,26.6L520.0,25.8L522.0,25.1L522.0,26.6L520.0,28.0L518.0,29.3L516.0,30.6L514.0,32.0L512.0,33.4L510.0,34.9L508.0,36.3L506.0,37.7L504.0,39.2L502.0,40.6L500.0,42.1L498.0,43.5L496.0,45.0L494.0,46.4L492.0,47.7L490.0,49.1L488.0,50.4L486.0,51.7L484.0,53.1L482.0,54.4L480.0,55.8L478.0,57.2L476.0,58.7L474.0,60.1L472.0,61.5L470.0,62.9L468.0,64.3L466.0,65.8L464.0,67.2L462.0,68.6L460.0,70.0L458.0,71.4L456.0,72.8L454.0,74.2L452.0,75.6L450.0,77.0L448.0,78.3L446.0,79.7L444.0,81.1L442.0,82.5L440.0,83.8L438.0,85.2L436.0,86.5L434.0,87.8L432.0,89.0L430.0,90.2L428.0,91.4L426.0,92.5L424.0,93.5L422.0,94.5L420.0,95.5L418.0,96.5L416.0,97.4L414.0,98.4L412.0,99.3L410.0,100.3L408.0,101.2L406.0,102.2L404.0,103.2L402.0,104.2L400.0,105.2L398.0,106.2L396.0,107.3L394.0,108.4L392.0,109.5L390.0,110.6L388.0,111.8L386.0,112.9L384.0,114.0L382.0,115.1L380.0,116.2L378.0,117.3L376.0,118.5Z" fill="#f6563d"/>
<path d="M378.0,115.6L380.0,113.8L382.0,112.2L384.0,110.7L386.0,109.1L388.0,107.6L390.0,106.1L392.0,104.6L394.0,103.2L396.0,101.7L398.0,100.2L400.0,98.8L402.0,97.4L404.0,95.9L406.0,94.5L408.0,93.1L410.0,91.7L412.0,90.3L414.0,88.9L416.0,87.5L418.0,86.2L420.0,84.8L422.0,83.4L424.0,82.1L426.0,80.7L428.0,79.4L430.0,78.1L432.0,76.7L434.0,75.4L436.0,74.1L438.0,72.8L440.0,71.5L442.0,70.2L444.0,68.9L446.0,67.6L448.0,66.4L450.0,65.1L452.0,63.8L454.0,62.6L456.0,61.3L458.0,60.1L460.0,58.9L462.0,57.6L464.0,56.4L466.0,55.2L468.0,54.0L470.0,52.8L472.0,51.6L474.0,50.4L476.0,49.2L478.0,48.0L480.0,46.9L482.0,45.7L484.0,44.6L486.0,43.4L488.0,42.3L490.0,41.2L492.0,40.0L494.0,38.9L496.0,37.8L498.0,36.7L500.0,35.7L502.0,34.6L504.0,33.6L506.0,32.5L508.0,31.5L510.0,30.5L512.0,29.6L514.0,28.6L516.0,27.7L518.0,26.9L520.0,26.2L520.0,27.7L518.0,29.0L516.0,30.4L514.0,31.8L512.0,33.1L510.0,34.6L508.0,36.0L506.0,37.4L504.0,38.9L502.0,40.3L500.0,41.7L498.0,43.2L496.0,44.6L494.0,46.0L492.0,47.3L490.0,48.6L488.0,50.0L486.0,51.3L484.0,52.7L482.0,54.0L480.0,55.4L478.0,56.8L476.0,58.2L474.0,59.6L472.0,61.0L470.0,62.4L468.0,63.8L466.0,65.2L464.0,66.6L462.0,68.1L460.0,69.5L458.0,70.9L456.0,72.3L454.0,73.7L452.0,75.1L450.0,76.5L448.0,77.9L446.0,79.3L444.0,80.7L442.0,82.1L440.0,83.5L438.0,84.8L436.0,86.1L434.0,87.4L432.0,88.7L430.0,89.8L428.0,90.9L426.0,92.0L424.0,93.1L422.0,94.1L420.0,95.0L418.0,96.0L416.0,96.9L414.0,97.9L412.0,98.9L410.0,99.8L408.0,100.8L406.0,101.8L404.0,102.8L402.0,103.8L400.0,104.9L398.0,105.9L396.0,107.0L394.0,108.1L392.0,109.2L390.0,110.4L388.0,111.5L386.0,112.6L384.0,113.8L382.0,114.9L380.0,116.0L378.0,117.2Z" fill="#f45039"/>
<path d="M378.0,116.0L380.0,114.0L382.0,112.4L384.0,110.8L386.0,109.2L388.0,107.7L390.0,106.2L392.0,104.7L394.0,103.2L396.0,101.7L398.0,100.3L400.0,98.8L402.0,97.4L404.0,96.0L406.0,94.6L408.0,93.1L410.0,91.7L412.0,90.3L414.0,88.9L416.0,87.6L418.0,86.2L420.0,84.8L422.0,83.5L424.0,82.1L426.0,80.8L428.0,79.4L430.0,78.1L432.0,76.8L434.0,75.5L436.0,74.1L438.0,72.8L440.0,71.5L442.0,70.2L444.0,69.0L446.0,67.7L448.0,66.4L450.0,65.1L452.0,63.9L454.0,62.6L456.0,61.4L458.0,60.1L460.0,58.9L462.0,57.7L464.0,56.4L466.0,55.2L468.0,54.0L470.0,52.8L472.0,51.6L474.0,50.4L476.0,49.3L478.0,48.1L480.0,46.9L482.0,45.8L484.0,44.6L486.0,43.5L488.0,42.3L490.0,41.2L492.0,40.1L494.0,39.0L496.0,37.9L498.0,36.8L500.0,35.7L502.0,34.7L504.0,33.6L506.0,32.6L508.0,31.6L510.0,30.7L512.0,29.7L514.0,28.8L516.0,28.0L518.0,27.4L518.0,28.8L516.0,30.1L514.0,31.5L512.0,32.9L510.0,34.3L508.0,35.7L506.0,37.1L504.0,38.5L502.0,40.0L500.0,41.4L498.0,42.8L496.0,44.2L494.0,45.6L492.0,46.9L490.0,48.3L488.0,49.6L486.0,50.9L484.0,52.3L482.0,53.6L480.0,55.0L478.0,56.4L476.0,57.7L474.0,59.1L472.0,60.5L470.0,61.9L468.0,63.3L466.0,64.7L464.0,66.1L462.0,67.5L460.0,68.9L458.0,70.4L456.0,71.8L454.0,73.2L452.0,74.6L450.0,76.0L448.0,77.4L446.0,78.8L444.0,80.2L442.0,81.6L440.0,83.0L438.0,84.4L436.0,85.7L434.0,87.0L432.0,88.2L430.0,89.4L428.0,90.5L426.0,91.5L424.0,92.5L422.0,93.5L420.0,94.5L418.0,95.4L416.0,96.4L414.0,97.4L412.0,98.4L410.0,99.4L408.0,100.4L406.0,101.4L404.0,102.5L402.0,103.5L400.0,104.5L398.0,105.6L396.0,106.7L394.0,107.8L392.0,109.0L390.0,110.1L388.0,111.2L386.0,112.4L384.0,113.5L382.0,114.7L380.0,115.8L378.0,117.0Z" fill="#f34935"/>
<path d="M380.0,114.3L382.0,112.5L384.0,110.9L386.0,109.3L388.0,107.8L390.0,106.3L392.0,104.8L394.0,103.3L396.0,101.8L398.0,100.3L400.0,98.9L402.0,97.5L404.0,96.0L406.0,94.6L408.0,93.2L410.0,91.8L412.0,90.4L414.0,89.0L416.0,87.6L418.0,86.2L420.0,84.9L422.0,83.5L424.0,82.2L426.0,80.8L428.0,79.5L430.0,78.1L432.0,76.8L434.0,75.5L436.0,74.2L438.0,72.9L440.0,71.6L442.0,70.3L444.0,69.0L446.0,67.7L448.0,66.4L450.0,65.2L452.0,63.9L454.0,62.7L456.0,61.4L458.0,60.2L460.0,58.9L462.0,57.7L464.0,56.5L466.0,55.3L468.0,54.1L470.0,52.9L472.0,51.7L474.0,50.5L476.0,49.3L478.0,48.1L480.0,47.0L482.0,45.8L484.0,44.7L486.0,43.5L488.0,42.4L490.0,41.3L492.0,40.1L494.0,39.0L496.0,37.9L498.0,36.9L500.0,35.8L502.0,34.7L504.0,33.7L506.0,32.7L508.0,31.7L510.0,30.8L512.0,29.9L514.0,29.1L516.0,28.5L516.0,29.9L514.0,31.3L512.0,32.6L510.0,34.0L508.0,35.4L506.0,36.8L504.0,38.2L502.0,39.7L500.0,41.1L498.0,42.5L496.0,43.9L494.0,45.3L492.0,46.6L490.0,47.9L488.0,49.2L486.0,50.5L484.0,51.9L482.0,53.2L480.0,54.6L478.0,56.0L476.0,57.3L474.0,58.7L472.0,60.1L470.0,61.4L468.0,62.8L466.0,64.2L464.0,65.6L462.0,67.0L460.0,68.4L458.0,69.8L456.0,71.3L454.0,72.7L452.0,74.1L450.0,75.5L448.0,76.9L446.0,78.3L444.0,79.7L442.0,81.1L440.0,82.5L438.0,83.9L436.0,85.2L434.0,86.5L432.0,87.7L430.0,88.8L428.0,89.9L426.0,91.0L424.0,92.0L422.0,93.0L420.0,94.0L418.0,95.0L416.0,96.0L414.0,97.0L412.0,98.1L410.0,99.1L408.0,100.1L406.0,101.1L404.0,102.1L402.0,103.2L400.0,104.2L398.0,105.3L396.0,106.5L394.0,107.6L392.0,108.7L390.0,109.9L388.0,111.0L386.0,112.2L384.0,113.3L382.0,114.5L380.0,115.7Z" fill="#f14331"/>
<path d="M382.0,112.8L384.0,111.1L386.0,109.5L388.0,107.9L390.0,106.3L392.0,104.8L394.0,103.3L396.0,101.9L398.0,100.4L400.0,99.0L402.0,97.5L404.0,96.1L406.0,94.6L408.0,93.2L410.0,91.8L412.0,90.4L414.0,89.0L416.0,87.6L418.0,86.3L420.0,84.9L422.0,83.5L424.0,82.2L426.0,80.8L428.0,79.5L430.0,78.2L432.0,76.8L434.0,75.5L436.0,74.2L438.0,72.9L440.0,71.6L442.0,70.3L444.0,69.0L446.0,67.8L448.0,66.5L450.0,65.2L452.0,63.9L454.0,62.7L456.0,61.4L458.0,60.2L460.0,59.0L462.0,57.7L464.0,56.5L466.0,55.3L468.0,54.1L470.0,52.9L472.0,51.7L474.0,50.5L476.0,49.3L478.0,48.2L480.0,47.0L482.0,45.8L484.0,44.7L486.0,43.6L488.0,42.4L490.0,41.3L492.0,40.2L494.0,39.1L496.0,38.0L498.0,36.9L500.0,35.9L502.0,34.8L504.0,33.8L506.0,32.8L508.0,31.9L510.0,31.0L512.0,30.2L514.0,29.6L514.0,31.0L512.0,32.4L510.0,33.7L508.0,35.1L506.0,36.5L504.0,37.9L502.0,39.4L500.0,40.8L498.0,42.2L496.0,43.6L494.0,44.9L492.0,46.2L490.0,47.5L488.0,48.8L486.0,50.2L484.0,51.5L482.0,52.8L480.0,54.2L478.0,55.6L476.0,56.9L474.0,58.3L472.0,59.7L470.0,61.0L468.0,62.4L466.0,63.8L464.0,65.1L462.0,66.5L460.0,67.9L458.0,69.3L456.0,70.7L454.0,72.1L452.0,73.6L450.0,75.0L448.0,76.4L446.0,77.8L444.0,79.2L442.0,80.6L440.0,82.0L438.0,83.4L436.0,84.7L434.0,86.0L432.0,87.2L430.0,88.3L428.0,89.4L426.0,90.5L424.0,91.5L422.0,92.5L420.0,93.5L418.0,94.5L416.0,95.6L414.0,96.6L412.0,97.7L410.0,98.7L408.0,99.7L406.0,100.8L404.0,101.8L402.0,102.9L400.0,104.0L398.0,105.1L396.0,106.2L394.0,107.3L392.0,108.5L390.0,109.6L388.0,110.8L386.0,111.9L384.0,113.1L382.0,114.3Z" fill="#ef3d2d"/>
<path d="M382.0,113.7L384.0,111.3L386.0,109.6L388.0,108.0L390.0,106.4L392.0,104.9L394.0,103.4L396.0,101.9L398.0,100.5L400.0,99.0L402.0,97.6L404.0,96.1L406.0,94.7L408.0,93.3L410.0,91.9L412.0,90.5L414.0,89.1L416.0,87.7L418.0,86.3L420.0,84.9L422.0,83.6L424.0,82.2L426.0,80.9L428.0,79.5L430.0,78.2L432.0,76.9L434.0,75.6L436.0,74.3L438.0,72.9L440.0,71.6L442.0,70.4L444.0,69.1L446.0,67.8L448.0,66.5L450.0,65.2L452.0,64.0L454.0,62.7L456.0,61.5L458.0,60.2L460.0,59.0L462.0,57.8L464.0,56.6L466.0,55.4L468.0,54.1L470.0,52.9L472.0,51.8L474.0,50.6L476.0,49.4L478.0,48.2L480.0,47.1L482.0,45.9L484.0,44.8L486.0,43.6L488.0,42.5L490.0,41.4L492.0,40.3L494.0,39.2L496.0,38.1L498.0,37.0L500.0,36.0L502.0,34.9L504.0,33.9L506.0,33.0L508.0,32.0L510.0,31.2L512.0,30.6L512.0,32.2L510.0,33.5L508.0,34.9L506.0,36.3L504.0,37.7L502.0,39.1L500.0,40.5L498.0,41.9L496.0,43.3L494.0,44.6L492.0,45.9L490.0,47.2L488.0,48.5L486.0,49.8L484.0,51.1L482.0,52.5L480.0,53.8L478.0,55.2L476.0,56.6L474.0,57.9L472.0,59.3L470.0,60.6L468.0,62.0L466.0,63.4L464.0,64.7L462.0,66.1L460.0,67.5L458.0,68.9L456.0,70.3L454.0,71.7L452.0,73.1L450.0,74.5L448.0,75.9L446.0,77.3L444.0,78.7L442.0,80.1L440.0,81.5L438.0,82.8L436.0,84.2L434.0,85.4L432.0,86.6L430.0,87.8L428.0,88.9L426.0,90.0L424.0,91.0L422.0,92.1L420.0,93.1L418.0,94.1L416.0,95.2L414.0,96.3L412.0,97.3L410.0,98.4L408.0,99.4L406.0,100.4L404.0,101.5L402.0,102.6L400.0,103.7L398.0,104.8L396.0,105.9L394.0,107.1L392.0,108.2L390.0,109.4L388.0,110.6L386.0,111.7L384.0,112.9L382.0,114.1Z" fill="#ec382b"/>
<path d="M384.0,111.7L386.0,109.8L388.0,108.1L390.0,106.6L392.0,105.0L394.0,103.5L396.0,102.0L398.0,100.5L400.0,99.1L402.0,97.6L404.0,96.2L406.0,94.8L408.0,93.3L410.0,91.9L412.0,90.5L414.0,89.1L416.0,87.7L418.0,86.4L420.0,85.0L422.0,83.6L424.0,82.3L426.0,80.9L428.0,79.6L430.0,78.3L432.0,76.9L434.0,75.6L436.0,74.3L438.0,73.0L440.0,71.7L442.0,70.4L444.0,69.1L446.0,67.8L448.0,66.6L450.0,65.3L452.0,64.0L454.0,62.8L456.0,61.5L458.0,60.3L460.0,59.1L462.0,57.8L464.0,56.6L466.0,55.4L468.0,54.2L470.0,53.0L472.0,51.8L474.0,50.6L476.0,49.4L478.0,48.3L480.0,47.1L482.0,46.0L484.0,44.8L486.0,43.7L488.0,42.5L490.0,41.4L492.0,40.3L494.0,39.2L496.0,38.2L498.0,37.1L500.0,36.0L502.0,35.0L504.0,34.1L506.0,33.1L508.0,32.3L510.0,31.6L510.0,33.3L508.0,34.6L506.0,36.0L504.0,37.4L502.0,38.8L500.0,40.2L498.0,41.6L496.0,43.0L494.0,44.3L492.0,45.6L490.0,46.9L488.0,48.2L486.0,49.5L484.0,50.8L482.0,52.1L480.0,53.5L478.0,54.8L476.0,56.2L474.0,57.5L472.0,58.9L470.0,60.3L468.0,61.6L466.0,63.0L464.0,64.3L462.0,65.7L460.0,67.1L458.0,68.5L456.0,69.8L454.0,71.2L452.0,72.6L450.0,74.0L448.0,75.4L446.0,76.8L444.0,78.2L442.0,79.6L440.0,80.9L438.0,82.3L436.0,83.7L434.0,84.9L432.0,86.1L430.0,87.3L428.0,88.4L426.0,89.5L424.0,90.6L422.0,91.7L420.0,92.7L418.0,93.8L416.0,94.8L414.0,95.9L412.0,97.0L410.0,98.0L408.0,99.1L406.0,100.1L404.0,101.2L402.0,102.3L400.0,103.4L398.0,104.6L396.0,105.7L394.0,106.8L392.0,108.0L390.0,109.2L388.0,110.4L386.0,111.6L384.0,112.8Z" fill="#e73329"/>
<path d="M386.0,110.2L388.0,108.3L390.0,106.7L392.0,105.1L394.0,103.6L396.0,102.1L398.0,100.6L400.0,99.1L402.0,97.7L404.0,96.2L406.0,94.8L408.0,93.4L410.0,92.0L412.0,90.6L414.0,89.2L416.0,87.8L418.0,86.4L420.0,85.0L422.0,83.7L424.0,82.3L426.0,81.0L428.0,79.6L430.0,78.3L432.0,77.0L434.0,75.6L436.0,74.3L438.0,73.0L440.0,71.7L442.0,70.4L444.0,69.2L446.0,67.9L448.0,66.6L450.0,65.3L452.0,64.1L454.0,62.8L456.0,61.6L458.0,60.3L460.0,59.1L462.0,57.9L464.0,56.7L466.0,55.4L468.0,54.2L470.0,53.0L472.0,51.8L474.0,50.7L476.0,49.5L478.0,48.3L480.0,47.2L482.0,46.0L484.0,44.9L486.0,43.7L488.0,42.6L490.0,41.5L492.0,40.4L494.0,39.3L496.0,38.2L498.0,37.2L500.0,36.2L502.0,35.2L504.0,34.2L506.0,33.3L508.0,32.6L508.0,34.4L506.0,35.8L504.0,37.2L502.0,38.5L500.0,39.9L498.0,41.3L496.0,42.7L494.0,44.0L492.0,45.3L490.0,46.6L488.0,47.9L486.0,49.2L484.0,50.5L482.0,51.8L480.0,53.2L478.0,54.5L476.0,55.8L474.0,57.2L472.0,58.5L470.0,59.9L468.0,61.2L466.0,62.6L464.0,64.0L462.0,65.3L460.0,66.7L458.0,68.1L456.0,69.4L454.0,70.8L452.0,72.2L450.0,73.6L448.0,75.0L446.0,76.3L444.0,77.7L442.0,79.1L440.0,80.5L438.0,81.8L436.0,83.2L434.0,84.5L432.0,85.7L430.0,86.8L428.0,88.0L426.0,89.1L424.0,90.2L422.0,91.3L420.0,92.3L418.0,93.4L416.0,94.5L414.0,95.5L412.0,96.6L410.0,97.7L408.0,98.8L406.0,99.9L404.0,101.0L402.0,102.1L400.0,103.2L398.0,104.3L396.0,105.5L394.0,106.6L392.0,107.8L390.0,109.0L388.0,110.2L386.0,111.4Z" fill="#e22e27"/>
<path d="M388.0,108.6L390.0,106.9L392.0,105.3L394.0,103.7L396.0,102.2L398.0,100.7L400.0,99.2L402.0,97.8L404.0,96.3L406.0,94.9L408.0,93.4L410.0,92.0L412.0,90.6L414.0,89.2L416.0,87.8L418.0,86.5L420.0,85.1L422.0,83.7L424.0,82.4L426.0,81.0L428.0,79.7L430.0,78.3L432.0,77.0L434.0,75.7L436.0,74.4L438.0,73.1L440.0,71.8L442.0,70.5L444.0,69.2L446.0,67.9L448.0,66.6L450.0,65.4L452.0,64.1L454.0,62.9L456.0,61.6L458.0,60.4L460.0,59.1L462.0,57.9L464.0,56.7L466.0,55.5L468.0,54.3L470.0,53.1L472.0,51.9L474.0,50.7L476.0,49.5L478.0,48.4L480.0,47.2L482.0,46.1L484.0,44.9L486.0,43.8L488.0,42.7L490.0,41.6L492.0,40.5L494.0,39.4L496.0,38.3L498.0,37.3L500.0,36.3L502.0,35.3L504.0,34.4L506.0,33.6L506.0,35.6L504.0,36.9L502.0,38.3L500.0,39.7L498.0,41.0L496.0,42.4L494.0,43.7L492.0,45.0L490.0,46.3L488.0,47.6L486.0,48.9L484.0,50.2L482.0,51.5L480.0,52.8L478.0,54.2L476.0,55.5L474.0,56.9L472.0,58.2L470.0,59.5L468.0,60.9L466.0,62.2L464.0,63.6L462.0,65.0L460.0,66.3L458.0,67.7L456.0,69.1L454.0,70.4L452.0,71.8L450.0,73.2L448.0,74.6L446.0,75.9L444.0,77.3L442.0,78.7L440.0,80.1L438.0,81.4L436.0,82.8L434.0,84.0L432.0,85.3L430.0,86.4L428.0,87.6L426.0,88.7L424.0,89.8L422.0,90.9L420.0,92.0L418.0,93.0L416.0,94.1L414.0,95.2L412.0,96.3L410.0,97.4L408.0,98.5L406.0,99.6L404.0,100.7L402.0,101.8L400.0,102.9L398.0,104.1L396.0,105.2L394.0,106.4L392.0,107.6L390.0,108.8L388.0,110.0Z" fill="#dd2a25"/>
<path d="M390.0,107.1L392.0,105.4L394.0,103.8L396.0,102.3L398.0,100.8L400.0,99.3L402.0,97.8L404.0,96.4L406.0,94.9L408.0,93.5L410.0,92.1L412.0,90.7L414.0,89.3L416.0,87.9L418.0,86.5L420.0,85.1L422.0,83.8L424.0,82.4L426.0,81.1L428.0,79.7L430.0,78.4L432.0,77.1L434.0,75.7L436.0,74.4L438.0,73.1L440.0,71.8L442.0,70.5L444.0,69.2L446.0,68.0L448.0,66.7L450.0,65.4L452.0,64.2L454.0,62.9L456.0,61.7L458.0,60.4L460.0,59.2L462.0,58.0L464.0,56.8L466.0,55.5L468.0,54.3L470.0,53.1L472.0,52.0L474.0,50.8L476.0,49.6L478.0,48.4L480.0,47.3L482.0,46.1L484.0,45.0L486.0,43.9L488.0,42.8L490.0,41.7L492.0,40.6L494.0,39.5L496.0,38.4L498.0,37.4L500.0,36.4L502.0,35.5L504.0,34.7L506.0,34.3L506.0,35.4L504.0,36.7L502.0,38.1L500.0,39.4L498.0,40.8L496.0,42.1L494.0,43.5L492.0,44.8L490.0,46.0L488.0,47.3L486.0,48.6L484.0,49.9L482.0,51.2L480.0,52.6L478.0,53.9L476.0,55.2L474.0,56.5L472.0,57.9L470.0,59.2L468.0,60.5L466.0,61.9L464.0,63.2L462.0,64.6L460.0,66.0L458.0,67.3L456.0,68.7L454.0,70.1L452.0,71.4L450.0,72.8L448.0,74.2L446.0,75.6L444.0,76.9L442.0,78.3L440.0,79.7L438.0,81.0L436.0,82.4L434.0,83.6L432.0,84.9L430.0,86.1L428.0,87.2L426.0,88.3L424.0,89.4L422.0,90.5L420.0,91.6L418.0,92.7L416.0,93.8L414.0,94.9L412.0,96.0L410.0,97.1L408.0,98.2L406.0,99.3L404.0,100.4L402.0,101.6L400.0,102.7L398.0,103.8L396.0,105.0L394.0,106.2L392.0,107.4L390.0,108.6Z" fill="#d82523"/>
<path d="M392.0,105.7L394.0,104.0L396.0,102.4L398.0,100.9L400.0,99.4L402.0,97.9L404.0,96.5L406.0,95.0L408.0,93.6L410.0,92.1L412.0,90.7L414.0,89.3L416.0,87.9L418.0,86.6L420.0,85.2L422.0,83.8L424.0,82.5L426.0,81.1L428.0,79.8L430.0,78.4L432.0,77.1L434.0,75.8L436.0,74.5L438.0,73.2L440.0,71.9L442.0,70.6L444.0,69.3L446.0,68.0L448.0,66.7L450.0,65.5L452.0,64.2L454.0,63.0L456.0,61.7L458.0,60.5L460.0,59.2L462.0,58.0L464.0,56.8L466.0,55.6L468.0,54.4L470.0,53.2L472.0,52.0L474.0,50.8L476.0,49.7L478.0,48.5L480.0,47.4L482.0,46.2L484.0,45.1L486.0,44.0L488.0,42.8L490.0,41.7L492.0,40.7L494.0,39.6L496.0,38.5L498.0,37.5L500.0,36.6L502.0,35.7L504.0,35.1L504.0,36.5L502.0,37.8L500.0,39.2L498.0,40.5L496.0,41.9L494.0,43.2L492.0,44.5L490.0,45.8L488.0,47.1L486.0,48.3L484.0,49.6L482.0,51.0L480.0,52.3L478.0,53.6L476.0,54.9L474.0,56.2L472.0,57.6L470.0,58.9L468.0,60.2L466.0,61.6L464.0,62.9L462.0,64.3L460.0,65.6L458.0,67.0L456.0,68.3L454.0,69.7L452.0,71.1L450.0,72.4L448.0,73.8L446.0,75.2L444.0,76.5L442.0,77.9L440.0,79.3L438.0,80.6L436.0,82.0L434.0,83.3L432.0,84.5L430.0,85.7L428.0,86.8L426.0,88.0L424.0,89.1L422.0,90.2L420.0,91.3L418.0,92.4L416.0,93.5L414.0,94.6L412.0,95.7L410.0,96.9L408.0,98.0L406.0,99.1L404.0,100.2L402.0,101.3L400.0,102.5L398.0,103.6L396.0,104.8L394.0,106.0L392.0,107.2Z" fill="#d32021"/>
<path d="M392.0,106.4L394.0,104.2L396.0,102.6L398.0,101.0L400.0,99.5L402.0,98.0L404.0,96.5L406.0,95.1L408.0,93.6L410.0,92.2L412.0,90.8L414.0,89.4L416.0,88.0L418.0,86.6L420.0,85.2L422.0,83.9L424.0,82.5L426.0,81.2L428.0,79.8L430.0,78.5L432.0,77.1L434.0,75.8L436.0,74.5L438.0,73.2L440.0,71.9L442.0,70.6L444.0,69.3L446.0,68.1L448.0,66.8L450.0,65.5L452.0,64.3L454.0,63.0L456.0,61.8L458.0,60.5L460.0,59.3L462.0,58.1L464.0,56.9L466.0,55.7L468.0,54.5L470.0,53.3L472.0,52.1L474.0,50.9L476.0,49.7L478.0,48.6L480.0,47.4L482.0,46.3L484.0,45.2L486.0,44.0L488.0,42.9L490.0,41.8L492.0,40.8L494.0,39.7L496.0,38.7L498.0,37.7L500.0,36.8L502.0,36.1L502.0,37.6L500.0,39.0L498.0,40.3L496.0,41.6L494.0,43.0L492.0,44.2L490.0,45.5L488.0,46.8L486.0,48.1L484.0,49.4L482.0,50.7L480.0,52.0L478.0,53.3L476.0,54.6L474.0,56.0L472.0,57.3L470.0,58.6L468.0,59.9L466.0,61.3L464.0,62.6L462.0,63.9L460.0,65.3L458.0,66.6L456.0,68.0L454.0,69.4L452.0,70.7L450.0,72.1L448.0,73.5L446.0,74.8L444.0,76.2L442.0,77.5L440.0,78.9L438.0,80.3L436.0,81.6L434.0,82.9L432.0,84.1L430.0,85.3L428.0,86.5L426.0,87.6L424.0,88.7L422.0,89.9L420.0,91.0L418.0,92.1L416.0,93.2L414.0,94.3L412.0,95.5L410.0,96.6L408.0,97.7L406.0,98.8L404.0,100.0L402.0,101.1L400.0,102.3L398.0,103.4L396.0,104.6L394.0,105.8L392.0,107.1Z" fill="#cf1c1f"/>
<path d="M394.0,104.8L396.0,102.8L398.0,101.2L400.0,99.6L402.0,98.1L404.0,96.6L406.0,95.2L408.0,93.7L410.0,92.3L412.0,90.9L414.0,89.4L416.0,88.1L418.0,86.7L420.0,85.3L422.0,83.9L424.0,82.6L426.0,81.2L428.0,79.9L430.0,78.5L432.0,77.2L434.0,75.9L436.0,74.6L438.0,73.3L440.0,72.0L442.0,70.7L444.0,69.4L446.0,68.1L448.0,66.8L450.0,65.6L452.0,64.3L454.0,63.1L456.0,61.8L458.0,60.6L460.0,59.4L462.0,58.1L464.0,56.9L466.0,55.7L468.0,54.5L470.0,53.3L472.0,52.1L474.0,51.0L476.0,49.8L478.0,48.6L480.0,47.5L482.0,46.4L484.0,45.2L486.0,44.1L488.0,43.0L490.0,42.0L492.0,40.9L494.0,39.9L496.0,38.9L498.0,37.9L500.0,37.2L500.0,38.8L498.0,40.1L496.0,41.4L494.0,42.7L492.0,44.0L490.0,45.3L488.0,46.5L486.0,47.8L484.0,49.1L482.0,50.4L480.0,51.7L478.0,53.0L476.0,54.4L474.0,55.7L472.0,57.0L470.0,58.3L468.0,59.6L466.0,61.0L464.0,62.3L462.0,63.6L460.0,65.0L458.0,66.3L456.0,67.7L454.0,69.0L452.0,70.4L450.0,71.8L448.0,73.1L446.0,74.5L444.0,75.8L442.0,77.2L440.0,78.6L438.0,79.9L436.0,81.2L434.0,82.5L432.0,83.8L430.0,85.0L428.0,86.1L426.0,87.3L424.0,88.4L422.0,89.6L420.0,90.7L418.0,91.8L416.0,92.9L414.0,94.1L412.0,95.2L410.0,96.3L408.0,97.5L406.0,98.6L404.0,99.7L402.0,100.9L400.0,102.1L398.0,103.2L396.0,104.5L394.0,105.7Z" fill="#ca181d"/>
<path d="M396.0,103.4L398.0,101.4L400.0,99.8L402.0,98.2L404.0,96.7L406.0,95.3L408.0,93.8L410.0,92.4L412.0,90.9L414.0,89.5L416.0,88.1L418.0,86.7L420.0,85.4L422.0,84.0L424.0,82.6L426.0,81.3L428.0,79.9L430.0,78.6L432.0,77.3L434.0,75.9L436.0,74.6L438.0,73.3L440.0,72.0L442.0,70.7L444.0,69.4L446.0,68.2L448.0,66.9L450.0,65.6L452.0,64.4L454.0,63.1L456.0,61.9L458.0,60.6L460.0,59.4L462.0,58.2L464.0,57.0L466.0,55.8L468.0,54.6L470.0,53.4L472.0,52.2L474.0,51.0L476.0,49.9L478.0,48.7L480.0,47.6L482.0,46.5L484.0,45.3L486.0,44.2L488.0,43.2L490.0,42.1L492.0,41.0L494.0,40.0L496.0,39.1L498.0,38.3L498.0,39.9L496.0,41.2L494.0,42.5L492.0,43.8L490.0,45.0L488.0,46.3L486.0,47.6L484.0,48.9L482.0,50.2L480.0,51.5L478.0,52.8L476.0,54.1L474.0,55.4L472.0,56.7L470.0,58.0L468.0,59.4L466.0,60.7L464.0,62.0L462.0,63.4L460.0,64.7L458.0,66.0L456.0,67.4L454.0,68.7L452.0,70.1L450.0,71.4L448.0,72.8L446.0,74.1L444.0,75.5L442.0,76.9L440.0,78.2L438.0,79.6L436.0,80.9L434.0,82.2L432.0,83.4L430.0,84.6L428.0,85.8L426.0,87.0L424.0,88.1L422.0,89.3L420.0,90.4L418.0,91.5L416.0,92.7L414.0,93.8L412.0,95.0L410.0,96.1L408.0,97.2L406.0,98.4L404.0,99.5L402.0,100.7L400.0,101.9L398.0,103.1L396.0,104.3Z" fill="#c5161c"/>
<path d="M398.0,101.9L400.0,100.0L402.0,98.4L404.0,96.9L406.0,95.4L408.0,93.9L410.0,92.4L412.0,91.0L414.0,89.6L416.0,88.2L418.0,86.8L420.0,85.4L422.0,84.0L424.0,82.7L426.0,81.3L428.0,80.0L430.0,78.6L432.0,77.3L434.0,76.0L436.0,74.7L438.0,73.4L440.0,72.1L442.0,70.8L444.0,69.5L446.0,68.2L448.0,66.9L450.0,65.7L452.0,64.4L454.0,63.2L456.0,61.9L458.0,60.7L460.0,59.5L462.0,58.3L464.0,57.1L466.0,55.8L468.0,54.7L470.0,53.5L472.0,52.3L474.0,51.1L476.0,50.0L478.0,48.8L480.0,47.7L482.0,46.6L484.0,45.5L486.0,44.4L488.0,43.3L490.0,42.2L492.0,41.2L494.0,40.3L496.0,39.5L496.0,41.0L494.0,42.3L492.0,43.6L490.0,44.8L488.0,46.1L486.0,47.3L484.0,48.6L482.0,49.9L480.0,51.2L478.0,52.5L476.0,53.8L474.0,55.2L472.0,56.5L470.0,57.8L468.0,59.1L466.0,60.4L464.0,61.8L462.0,63.1L460.0,64.4L458.0,65.8L456.0,67.1L454.0,68.4L452.0,69.8L450.0,71.1L448.0,72.5L446.0,73.8L444.0,75.2L442.0,76.5L440.0,77.9L438.0,79.2L436.0,80.6L434.0,81.9L432.0,83.1L430.0,84.3L428.0,85.5L426.0,86.7L424.0,87.9L422.0,89.0L420.0,90.1L418.0,91.3L416.0,92.4L414.0,93.6L412.0,94.7L410.0,95.9L408.0,97.0L406.0,98.2L404.0,99.3L402.0,100.5L400.0,101.7L398.0,102.9Z" fill="#c0151b"/>
<path d="M400.0,100.5L402.0,98.7L404.0,97.0L406.0,95.5L408.0,94.0L410.0,92.5L412.0,91.1L414.0,89.7L416.0,88.3L418.0,86.9L420.0,85.5L422.0,84.1L424.0,82.7L426.0,81.4L428.0,80.0L430.0,78.7L432.0,77.4L434.0,76.0L436.0,74.7L438.0,73.4L440.0,72.1L442.0,70.8L444.0,69.6L446.0,68.3L448.0,67.0L450.0,65.7L452.0,64.5L454.0,63.2L456.0,62.0L458.0,60.8L460.0,59.5L462.0,58.3L464.0,57.1L466.0,55.9L468.0,54.7L470.0,53.6L472.0,52.4L474.0,51.2L476.0,50.1L478.0,48.9L480.0,47.8L482.0,46.7L484.0,45.6L486.0,44.5L488.0,43.5L490.0,42.5L492.0,41.5L494.0,40.7L494.0,42.1L492.0,43.4L490.0,44.6L488.0,45.9L486.0,47.1L484.0,48.4L482.0,49.7L480.0,51.0L478.0,52.3L476.0,53.6L474.0,54.9L472.0,56.2L470.0,57.5L468.0,58.8L466.0,60.2L464.0,61.5L462.0,62.8L460.0,64.1L458.0,65.5L456.0,66.8L454.0,68.2L452.0,69.5L450.0,70.9L448.0,72.2L446.0,73.6L444.0,74.9L442.0,76.3L440.0,77.6L438.0,79.0L436.0,80.3L434.0,81.6L432.0,82.8L430.0,84.0L428.0,85.2L426.0,86.4L424.0,87.6L422.0,88.7L420.0,89.9L418.0,91.0L416.0,92.2L414.0,93.3L412.0,94.5L410.0,95.6L408.0,96.8L406.0,98.0L404.0,99.1L402.0,100.3L400.0,101.5Z" fill="#ba141a"/>
<path d="M402.0,99.2L404.0,97.3L406.0,95.7L408.0,94.1L410.0,92.7L412.0,91.2L414.0,89.8L416.0,88.4L418.0,87.0L420.0,85.6L422.0,84.2L424.0,82.8L426.0,81.5L428.0,80.1L430.0,78.8L432.0,77.4L434.0,76.1L436.0,74.8L438.0,73.5L440.0,72.2L442.0,70.9L444.0,69.6L446.0,68.3L448.0,67.1L450.0,65.8L452.0,64.6L454.0,63.3L456.0,62.1L458.0,60.8L460.0,59.6L462.0,58.4L464.0,57.2L466.0,56.0L468.0,54.8L470.0,53.6L472.0,52.5L474.0,51.3L476.0,50.2L478.0,49.0L480.0,47.9L482.0,46.8L484.0,45.8L486.0,44.7L488.0,43.7L490.0,42.8L492.0,42.1L492.0,43.2L490.0,44.4L488.0,45.7L486.0,46.9L484.0,48.2L482.0,49.5L480.0,50.8L478.0,52.1L476.0,53.4L474.0,54.7L472.0,56.0L470.0,57.3L468.0,58.6L466.0,59.9L464.0,61.2L462.0,62.6L460.0,63.9L458.0,65.2L456.0,66.6L454.0,67.9L452.0,69.2L450.0,70.6L448.0,71.9L446.0,73.3L444.0,74.6L442.0,76.0L440.0,77.3L438.0,78.7L436.0,80.0L434.0,81.3L432.0,82.5L430.0,83.8L428.0,85.0L426.0,86.1L424.0,87.3L422.0,88.5L420.0,89.6L418.0,90.8L416.0,91.9L414.0,93.1L412.0,94.3L410.0,95.4L408.0,96.6L406.0,97.8L404.0,99.0L402.0,100.2Z" fill="#b51318"/>
<path d="M404.0,97.8L406.0,95.9L408.0,94.3L410.0,92.8L412.0,91.3L414.0,89.9L416.0,88.4L418.0,87.0L420.0,85.6L422.0,84.3L424.0,82.9L426.0,81.5L428.0,80.2L430.0,78.8L432.0,77.5L434.0,76.2L436.0,74.9L438.0,73.6L440.0,72.3L442.0,71.0L444.0,69.7L446.0,68.4L448.0,67.1L450.0,65.9L452.0,64.6L454.0,63.4L456.0,62.2L458.0,60.9L460.0,59.7L462.0,58.5L464.0,57.3L466.0,56.1L468.0,54.9L470.0,53.7L472.0,52.6L474.0,51.4L476.0,50.3L478.0,49.2L480.0,48.1L482.0,47.0L484.0,46.0L486.0,45.0L488.0,44.1L488.0,45.5L486.0,46.7L484.0,48.0L482.0,49.3L480.0,50.6L478.0,51.8L476.0,53.1L474.0,54.4L472.0,55.7L470.0,57.0L468.0,58.3L466.0,59.7L464.0,61.0L462.0,62.3L460.0,63.6L458.0,65.0L456.0,66.3L454.0,67.6L452.0,69.0L450.0,70.3L448.0,71.7L446.0,73.0L444.0,74.4L442.0,75.7L440.0,77.1L438.0,78.4L436.0,79.7L434.0,81.0L432.0,82.3L430.0,83.5L428.0,84.7L426.0,85.9L424.0,87.1L422.0,88.2L420.0,89.4L418.0,90.5L416.0,91.7L414.0,92.9L412.0,94.1L410.0,95.2L408.0,96.4L406.0,97.6L404.0,98.8Z" fill="#b01217"/>
<path d="M406.0,96.4L408.0,94.6L410.0,93.0L412.0,91.5L414.0,90.0L416.0,88.6L418.0,87.1L420.0,85.7L422.0,84.4L424.0,83.0L426.0,81.6L428.0,80.3L430.0,78.9L432.0,77.6L434.0,76.2L436.0,74.9L438.0,73.6L440.0,72.3L442.0,71.0L444.0,69.8L446.0,68.5L448.0,67.2L450.0,66.0L452.0,64.7L454.0,63.5L456.0,62.2L458.0,61.0L460.0,59.8L462.0,58.6L464.0,57.4L466.0,56.2L468.0,55.0L470.0,53.9L472.0,52.7L474.0,51.6L476.0,50.5L478.0,49.4L480.0,48.3L482.0,47.3L484.0,46.3L486.0,45.8L486.0,46.6L484.0,47.8L482.0,49.1L480.0,50.4L478.0,51.6L476.0,52.9L474.0,54.2L472.0,55.5L470.0,56.8L468.0,58.1L466.0,59.4L464.0,60.7L462.0,62.1L460.0,63.4L458.0,64.7L456.0,66.0L454.0,67.4L452.0,68.7L450.0,70.1L448.0,71.4L446.0,72.8L444.0,74.1L442.0,75.4L440.0,76.8L438.0,78.1L436.0,79.5L434.0,80.7L432.0,82.0L430.0,83.2L428.0,84.4L426.0,85.6L424.0,86.8L422.0,88.0L420.0,89.1L418.0,90.3L416.0,91.5L414.0,92.7L412.0,93.9L410.0,95.0L408.0,96.2L406.0,97.4Z" fill="#ab1016"/>
<path d="M408.0,95.1L410.0,93.2L412.0,91.6L414.0,90.1L416.0,88.7L418.0,87.3L420.0,85.9L422.0,84.5L424.0,83.1L426.0,81.7L428.0,80.3L430.0,79.0L432.0,77.7L434.0,76.3L436.0,75.0L438.0,73.7L440.0,72.4L442.0,71.1L444.0,69.9L446.0,68.6L448.0,67.3L450.0,66.1L452.0,64.8L454.0,63.6L456.0,62.3L458.0,61.1L460.0,59.9L462.0,58.7L464.0,57.5L466.0,56.3L468.0,55.2L470.0,54.0L472.0,52.9L474.0,51.7L476.0,50.7L478.0,49.6L480.0,48.6L482.0,47.8L482.0,48.9L480.0,50.2L478.0,51.5L476.0,52.7L474.0,54.0L472.0,55.3L470.0,56.6L468.0,57.9L466.0,59.2L464.0,60.5L462.0,61.8L460.0,63.2L458.0,64.5L456.0,65.8L454.0,67.1L452.0,68.5L450.0,69.8L448.0,71.2L446.0,72.5L444.0,73.8L442.0,75.2L440.0,76.5L438.0,77.9L436.0,79.2L434.0,80.5L432.0,81.7L430.0,83.0L428.0,84.2L426.0,85.4L424.0,86.6L422.0,87.7L420.0,88.9L418.0,90.1L416.0,91.3L414.0,92.5L412.0,93.7L410.0,94.9L408.0,96.1Z" fill="#a60f15"/>
<path d="M410.0,93.9L412.0,91.9L414.0,90.3L416.0,88.9L418.0,87.4L420.0,86.0L422.0,84.6L424.0,83.2L426.0,81.8L428.0,80.4L430.0,79.1L432.0,77.7L434.0,76.4L436.0,75.1L438.0,73.8L440.0,72.5L442.0,71.2L444.0,69.9L446.0,68.7L448.0,67.4L450.0,66.2L452.0,64.9L454.0,63.7L456.0,62.4L458.0,61.2L460.0,60.0L462.0,58.8L464.0,57.6L466.0,56.5L468.0,55.3L470.0,54.2L472.0,53.1L474.0,52.0L476.0,51.0L478.0,50.1L478.0,51.3L476.0,52.6L474.0,53.8L472.0,55.1L470.0,56.4L468.0,57.7L466.0,59.0L464.0,60.3L462.0,61.6L460.0,62.9L458.0,64.3L456.0,65.6L454.0,66.9L452.0,68.2L450.0,69.6L448.0,70.9L446.0,72.3L444.0,73.6L442.0,74.9L440.0,76.3L438.0,77.6L436.0,78.9L434.0,80.2L432.0,81.5L430.0,82.7L428.0,83.9L426.0,85.2L424.0,86.3L422.0,87.5L420.0,88.7L418.0,89.9L416.0,91.1L414.0,92.3L412.0,93.5L410.0,94.7Z" fill="#9e0d14"/>
<path d="M414.0,90.7L416.0,89.1L418.0,87.6L420.0,86.1L422.0,84.7L424.0,83.3L426.0,81.9L428.0,80.6L430.0,79.2L432.0,77.9L434.0,76.5L436.0,75.2L438.0,73.9L440.0,72.6L442.0,71.3L444.0,70.0L446.0,68.8L448.0,67.5L450.0,66.3L452.0,65.0L454.0,63.8L456.0,62.6L458.0,61.4L460.0,60.2L462.0,59.0L464.0,57.8L466.0,56.7L468.0,55.6L470.0,54.5L472.0,53.4L474.0,52.5L474.0,53.7L472.0,55.0L470.0,56.2L468.0,57.5L466.0,58.8L464.0,60.1L462.0,61.4L460.0,62.7L458.0,64.0L456.0,65.4L454.0,66.7L452.0,68.0L450.0,69.4L448.0,70.7L446.0,72.0L444.0,73.4L442.0,74.7L440.0,76.0L438.0,77.4L436.0,78.7L434.0,80.0L432.0,81.3L430.0,82.5L428.0,83.7L426.0,84.9L424.0,86.1L422.0,87.3L420.0,88.5L418.0,89.7L416.0,90.9L414.0,92.1Z" fill="#960b13"/>
<path d="M416.0,89.5L418.0,87.9L420.0,86.3L422.0,84.9L424.0,83.5L426.0,82.1L428.0,80.7L430.0,79.3L432.0,78.0L434.0,76.6L436.0,75.3L438.0,74.0L440.0,72.7L442.0,71.4L444.0,70.2L446.0,68.9L448.0,67.6L450.0,66.4L452.0,65.2L454.0,63.9L456.0,62.7L458.0,61.5L460.0,60.4L462.0,59.2L464.0,58.1L466.0,57.0L468.0,55.9L470.0,55.1L470.0,56.1L468.0,57.3L466.0,58.6L464.0,59.9L462.0,61.2L460.0,62.5L458.0,63.8L456.0,65.2L454.0,66.5L452.0,67.8L450.0,69.1L448.0,70.5L446.0,71.8L444.0,73.1L442.0,74.5L440.0,75.8L438.0,77.2L436.0,78.5L434.0,79.8L432.0,81.0L430.0,82.3L428.0,83.5L426.0,84.7L424.0,85.9L422.0,87.1L420.0,88.3L418.0,89.5L416.0,90.7Z" fill="#8e0912"/>
<path d="M418.0,88.6L420.0,86.7L422.0,85.1L424.0,83.7L426.0,82.2L428.0,80.8L430.0,79.5L432.0,78.1L434.0,76.8L436.0,75.4L438.0,74.1L440.0,72.9L442.0,71.6L444.0,70.3L446.0,69.1L448.0,67.8L450.0,66.6L452.0,65.3L454.0,64.1L456.0,62.9L458.0,61.8L460.0,60.6L462.0,59.5L464.0,58.5L464.0,59.8L462.0,61.1L460.0,62.4L458.0,63.7L456.0,65.0L454.0,66.3L452.0,67.6L450.0,68.9L448.0,70.3L446.0,71.6L444.0,72.9L442.0,74.3L440.0,75.6L438.0,76.9L436.0,78.3L434.0,79.6L432.0,80.8L430.0,82.1L428.0,83.3L426.0,84.5L424.0,85.7L422.0,86.9L420.0,88.2L418.0,89.4Z" fill="#850711"/>
<path d="M422.0,85.6L424.0,84.0L426.0,82.5L428.0,81.0L430.0,79.7L432.0,78.3L434.0,76.9L436.0,75.6L438.0,74.3L440.0,73.0L442.0,71.8L444.0,70.5L446.0,69.2L448.0,68.0L450.0,66.8L452.0,65.6L454.0,64.4L456.0,63.3L458.0,62.2L460.0,61.3L460.0,62.2L458.0,63.5L456.0,64.8L454.0,66.1L452.0,67.4L450.0,68.8L448.0,70.1L446.0,71.4L444.0,72.7L442.0,74.1L440.0,75.4L438.0,76.7L436.0,78.1L434.0,79.4L432.0,80.6L430.0,81.9L428.0,83.1L426.0,84.3L424.0,85.6L422.0,86.8Z" fill="#7d0510"/>
<path d="M426.0,82.9L428.0,81.4L430.0,79.9L432.0,78.5L434.0,77.1L436.0,75.8L438.0,74.5L440.0,73.3L442.0,72.0L444.0,70.8L446.0,69.5L448.0,68.3L450.0,67.2L452.0,66.1L454.0,65.2L454.0,66.0L452.0,67.3L450.0,68.6L448.0,69.9L446.0,71.2L444.0,72.6L442.0,73.9L440.0,75.2L438.0,76.6L436.0,77.9L434.0,79.2L432.0,80.4L430.0,81.7L428.0,82.9L426.0,84.2Z" fill="#75030f"/>
<path d="M430.0,80.6L432.0,79.0L434.0,77.5L436.0,76.2L438.0,74.9L440.0,73.6L442.0,72.5L444.0,71.3L446.0,70.5L446.0,71.1L444.0,72.4L442.0,73.7L440.0,75.1L438.0,76.4L436.0,77.7L434.0,79.0L432.0,80.3L430.0,81.5Z" fill="#6d010e"/>
</g>
<line x1="383.7" y1="180.3" x2="483.8" y2="6.1" stroke="#ff0000" stroke-width="1" stroke-dasharray="3,1.3"/>
</g>
<g stroke="#787878" stroke-width="0.9" fill="none">
<path d="M313.6,6.0H564.0V180.3" stroke="#c6c6c6" stroke-width="1.4"/>
<path d="M313.6,5.6V180.2H564.4"/>
<line x1="313.6" y1="180.3" x2="313.6" y2="182.5"/>
<line x1="363.7" y1="180.3" x2="363.7" y2="182.5"/>
<line x1="413.7" y1="180.3" x2="413.7" y2="182.5"/>
<line x1="463.8" y1="180.3" x2="463.8" y2="182.5"/>
<line x1="513.8" y1="180.3" x2="513.8" y2="182.5"/>
<line x1="563.9" y1="180.3" x2="563.9" y2="182.5"/>
<line x1="313.6" y1="180.3" x2="311.4" y2="180.3"/>
<line x1="313.6" y1="145.5" x2="311.4" y2="145.5"/>
<line x1="313.6" y1="110.6" x2="311.4" y2="110.6"/>
<line x1="313.6" y1="75.8" x2="311.4" y2="75.8"/>
<line x1="313.6" y1="40.9" x2="311.4" y2="40.9"/>
<line x1="313.6" y1="6.1" x2="311.4" y2="6.1"/>
</g>
<g font-family="'Liberation Serif', serif" font-size="12.2px" fill="#3a3a3a">
<text transform="translate(313.6,192.2) scale(0.940,1)" text-anchor="middle">0.175</text>
<text transform="translate(363.7,192.2) scale(0.940,1)" text-anchor="middle">0.200</text>
<text transform="translate(413.7,192.2) scale(0.940,1)" text-anchor="middle">0.225</text>
<text transform="translate(463.8,192.2) scale(0.940,1)" text-anchor="middle">0.250</text>
<text transform="translate(513.8,192.2) scale(0.940,1)" text-anchor="middle">0.275</text>
<text transform="translate(563.9,192.2) scale(0.940,1)" text-anchor="middle">0.300</text>
<text transform="translate(309.9,184.4) scale(0.940,1)" text-anchor="end">0.21</text>
<text transform="translate(309.9,149.6) scale(0.940,1)" text-anchor="end">0.22</text>
<text transform="translate(309.9,114.7) scale(0.940,1)" text-anchor="end">0.23</text>
<text transform="translate(309.9,79.9) scale(0.940,1)" text-anchor="end">0.24</text>
<text transform="translate(309.9,45.0) scale(0.940,1)" text-anchor="end">0.25</text>
<text transform="translate(309.9,10.2) scale(0.940,1)" text-anchor="end">0.26</text>
</g>
<rect x="579.4" y="6.1" width="9.5" height="174.2" fill="url(#cb)" stroke="#787878" stroke-width="0.8"/>
<g stroke="#787878" stroke-width="0.7">
<line x1="588.9" y1="180.3" x2="591.1" y2="180.3"/>
<line x1="588.9" y1="165.6" x2="590.1" y2="165.6"/>
<line x1="588.9" y1="157.1" x2="590.1" y2="157.1"/>
<line x1="588.9" y1="151.0" x2="590.1" y2="151.0"/>
<line x1="588.9" y1="146.3" x2="590.1" y2="146.3"/>
<line x1="588.9" y1="142.4" x2="590.1" y2="142.4"/>
<line x1="588.9" y1="139.1" x2="590.1" y2="139.1"/>
<line x1="588.9" y1="136.3" x2="590.1" y2="136.3"/>
<line x1="588.9" y1="133.8" x2="590.1" y2="133.8"/>
<line x1="588.9" y1="131.6" x2="591.1" y2="131.6"/>
<line x1="588.9" y1="116.9" x2="590.1" y2="116.9"/>
<line x1="588.9" y1="108.4" x2="590.1" y2="108.4"/>
<line x1="588.9" y1="102.3" x2="590.1" y2="102.3"/>
<line x1="588.9" y1="97.6" x2="590.1" y2="97.6"/>
<line x1="588.9" y1="93.7" x2="590.1" y2="93.7"/>
<line x1="588.9" y1="90.4" x2="590.1" y2="90.4"/>
<line x1="588.9" y1="87.6" x2="590.1" y2="87.6"/>
<line x1="588.9" y1="85.1" x2="590.1" y2="85.1"/>
<line x1="588.9" y1="82.9" x2="591.1" y2="82.9"/>
<line x1="588.9" y1="68.2" x2="590.1" y2="68.2"/>
<line x1="588.9" y1="59.7" x2="590.1" y2="59.7"/>
<line x1="588.9" y1="53.6" x2="590.1" y2="53.6"/>
<line x1="588.9" y1="48.9" x2="590.1" y2="48.9"/>
<line x1="588.9" y1="45.0" x2="590.1" y2="45.0"/>
<line x1="588.9" y1="41.7" x2="590.1" y2="41.7"/>
<line x1="588.9" y1="38.9" x2="590.1" y2="38.9"/>
<line x1="588.9" y1="36.4" x2="590.1" y2="36.4"/>
<line x1="588.9" y1="34.2" x2="591.1" y2="34.2"/>
<line x1="588.9" y1="19.5" x2="590.1" y2="19.5"/>
<line x1="588.9" y1="11.0" x2="590.1" y2="11.0"/>
</g>
<g font-family="'Liberation Serif', serif" font-size="12.2px" fill="#3a3a3a">
<text transform="translate(591.0,184.7) scale(0.940,1)">10<tspan dy="-4.4" font-size="8.4px">0</tspan></text>
<text transform="translate(591.0,136.0) scale(0.940,1)">10<tspan dy="-4.4" font-size="8.4px">1</tspan></text>
<text transform="translate(591.0,87.3) scale(0.940,1)">10<tspan dy="-4.4" font-size="8.4px">2</tspan></text>
<text transform="translate(591.0,38.6) scale(0.940,1)">10<tspan dy="-4.4" font-size="8.4px">3</tspan></text>
</g>
</svg>
</body></html>
